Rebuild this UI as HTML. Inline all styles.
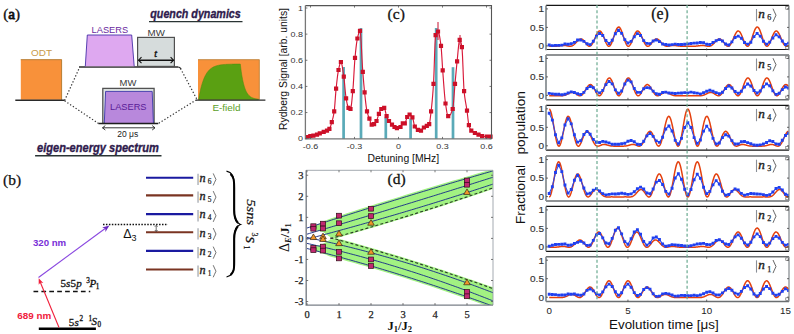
<!DOCTYPE html>
<html><head><meta charset="utf-8"><style>
html,body{margin:0;padding:0;background:#fff;width:794px;height:334px;overflow:hidden}
svg{display:block}
</style></head><body>
<svg width="794" height="334" viewBox="0 0 794 334">
<rect width="794" height="334" fill="#fff"/>
<text x="3.2" y="18.6" font-family='"Liberation Serif", serif' font-size="15.2" fill="#111" stroke="#111" stroke-width="0.35">(<tspan stroke-width="0.8">a</tspan>)</text>
<text x="31" y="56.1" textLength="21" lengthAdjust="spacingAndGlyphs" font-family='"Liberation Sans", sans-serif' font-size="9.6" fill="#c89a4a">ODT</text>
<rect x="20.8" y="59.5" width="41.2" height="40.3" fill="#f8913a"/>
<path d="M20.8 59.7 H61.6 V99.8" fill="none" stroke="#b8823a" stroke-width="1"/>
<line x1="15.3" y1="100.2" x2="64.6" y2="100.2" stroke="#2a2a2a" stroke-width="1.4"/>
<line x1="79" y1="67" x2="178" y2="67" stroke="#2a2a2a" stroke-width="1.5"/>
<path d="M178 67 Q180 67 181 69" fill="none" stroke="#2a2a2a" stroke-width="1.2"/>
<path d="M85.3 66.3 L87.3 35 L131.7 35 L134.2 66.3 Z" fill="#dea8f0" stroke="none"/>
<path d="M85.3 66.3 L87.3 35 L131.7 35 L134.2 66.3" fill="none" stroke="#4630a8" stroke-width="0.9"/>
<text x="91.6" y="33.1" textLength="36.6" lengthAdjust="spacingAndGlyphs" font-family='"Liberation Sans", sans-serif' font-size="9.8" fill="#6a2aa0">LASERS</text>
<rect x="137.6" y="37.4" width="36.8" height="29" fill="#d6dcdc" stroke="#505050" stroke-width="1.2"/>
<text x="147.6" y="35.7" textLength="17.3" lengthAdjust="spacingAndGlyphs" font-family='"Liberation Sans", sans-serif' font-size="9.4" fill="#3a3a3a">MW</text>
<text x="154.3" y="57.1" font-family='"Liberation Serif", serif' font-style="italic" font-size="10" fill="#111" stroke="#111" stroke-width="0.4">t</text>
<line x1="138.5" y1="60.2" x2="173.6" y2="60.2" stroke="#111" stroke-width="1.5"/>
<path d="M141.5 57.2 L138.6 60.2 L141.5 63.2" fill="none" stroke="#111" stroke-width="1.1"/>
<path d="M170.6 57.2 L173.5 60.2 L170.6 63.2" fill="none" stroke="#111" stroke-width="1.1"/>
<line x1="64.6" y1="100.5" x2="79.5" y2="67.5" stroke="#333" stroke-width="1.2" stroke-dasharray="1.3 2"/>
<line x1="64.6" y1="100.8" x2="98.4" y2="123.4" stroke="#333" stroke-width="1.2" stroke-dasharray="1.3 2"/>
<line x1="180.5" y1="68.5" x2="197" y2="99.5" stroke="#333" stroke-width="1.2" stroke-dasharray="1.3 2"/>
<line x1="158.8" y1="123.2" x2="196.5" y2="99.8" stroke="#333" stroke-width="1.2" stroke-dasharray="1.3 2"/>
<text x="119.6" y="85.9" textLength="16.8" lengthAdjust="spacingAndGlyphs" font-family='"Liberation Sans", sans-serif' font-size="9.4" fill="#3a3a3a">MW</text>
<rect x="102.8" y="88.4" width="51.3" height="35" fill="#dfe4e4" stroke="#525252" stroke-width="1.3"/>
<path d="M104.3 123 L105.6 91.4 L152.2 91.4 L153.4 123 Z" fill="#b888dc"/>
<path d="M104.3 123 L105.6 91.4 L152.2 91.4 L153.4 123" fill="none" stroke="#3a36a8" stroke-width="0.9"/>
<text x="110" y="109.8" textLength="36.5" lengthAdjust="spacingAndGlyphs" font-family='"Liberation Sans", sans-serif' font-size="9.8" fill="#5a2098">LASERS</text>
<line x1="98.4" y1="123.6" x2="158.3" y2="123.6" stroke="#1e1e1e" stroke-width="1.5"/>
<line x1="102.5" y1="127.8" x2="155" y2="127.8" stroke="#222" stroke-width="0.9"/>
<path d="M105.3 125.6 L102.5 127.8 L105.3 130" fill="none" stroke="#222" stroke-width="0.9"/>
<path d="M152.2 125.6 L155 127.8 L152.2 130" fill="none" stroke="#222" stroke-width="0.9"/>
<text x="117.2" y="137" textLength="21" lengthAdjust="spacingAndGlyphs" font-family='"Liberation Sans", sans-serif' font-size="9.2" fill="#222">20 μs</text>
<text x="37" y="151.7" textLength="121.8" lengthAdjust="spacingAndGlyphs" font-family='"Liberation Sans", sans-serif' font-size="12.3" font-weight="bold" font-style="italic" fill="#2e1a4c" stroke="#2e1a4c" stroke-width="0.35">eigen-energy spectrum</text>
<line x1="35.1" y1="155.8" x2="161.5" y2="155.8" stroke="#2a3434" stroke-width="1.4"/>
<text x="150.3" y="17.7" textLength="90.5" lengthAdjust="spacingAndGlyphs" font-family='"Liberation Sans", sans-serif' font-size="12.6" font-weight="bold" font-style="italic" fill="#2e1a4c" stroke="#2e1a4c" stroke-width="0.35">quench dynamics</text>
<line x1="149" y1="21.6" x2="242.5" y2="21.6" stroke="#2a3434" stroke-width="1.4"/>
<rect x="198" y="59.5" width="61.5" height="40" fill="#f8913a"/>
<path d="M198 59.7 H259.3 V99.8" fill="none" stroke="#b8823a" stroke-width="0.8"/>
<path d="M198.6 99.8 L198.6 99.5 L199.29 95.62 L199.99 92.16 L200.69 89.08 L201.38 86.34 L202.07 83.89 L202.77 81.72 L203.47 79.78 L204.16 78.05 L204.85 76.52 L205.55 75.15 L206.25 73.93 L206.94 72.84 L207.63 71.88 L208.33 71.01 L209.03 70.25 L209.72 69.56 L210.41 68.95 L211.11 68.41 L211.81 67.93 L212.5 67.5 L213.19 67.12 L213.89 66.78 L214.59 66.47 L215.28 66.2 L215.97 65.96 L216.67 65.75 L217.37 65.56 L218.06 65.39 L218.75 65.23 L219.45 65.1 L220.15 64.98 L220.84 64.87 L221.53 64.78 L222.23 64.69 L222.93 64.62 L223.62 64.55 L224.31 64.49 L225.01 64.44 L225.71 64.39 L226.4 64.35 L227.09 64.31 L227.79 64.27 L228.49 64.24 L229.18 64.22 L229.88 64.19 L230.57 64.17 L231.27 64.15 L231.96 64.14 L232.66 64.12 L233.35 64.11 L234.05 64.1 L234.74 64.09 L235.44 64.08 L236.13 64.07 L236.83 64.06 L237.52 64.05 L238.22 64.05 L238.91 64.04 L239.61 64.04 L240.3 64.03 L240.76 67.85 L241.21 71.25 L241.67 74.29 L242.12 77 L242.58 79.42 L243.03 81.58 L243.49 83.5 L243.94 85.22 L244.4 86.76 L244.85 88.13 L245.31 89.35 L245.76 90.44 L246.22 91.42 L246.67 92.29 L247.12 93.06 L247.58 93.75 L248.03 94.37 L248.49 94.92 L248.94 95.41 L249.4 95.85 L249.86 96.25 L250.31 96.6 L250.77 96.91 L251.22 97.19 L251.68 97.44 L252.13 97.66 L252.59 97.86 L253.04 98.03 L253.5 98.19 L253.95 98.33 L254.41 98.46 L254.86 98.57 L255.31 98.67 L255.77 98.76 L256.23 98.84 L256.68 98.91 L257.13 98.97 L257.59 99.03 L258.05 99.08 L258.5 99.13 L258.5 99.8 Z" fill="#5aa012" stroke="#4a8a10" stroke-width="0.5"/>
<line x1="196" y1="100.1" x2="265.4" y2="100.1" stroke="#2a2a2a" stroke-width="1.4"/>
<text x="212.4" y="111.4" textLength="28.2" lengthAdjust="spacingAndGlyphs" font-family='"Liberation Sans", sans-serif' font-size="9.6" fill="#5aa028">E-field</text>
<text x="3" y="184.6" font-family='"Liberation Serif", serif' font-size="15.5" fill="#111" stroke="#111" stroke-width="0.25">(b)</text>
<line x1="38.8" y1="328.8" x2="95.9" y2="328.8" stroke="#000" stroke-width="2.4"/>
<text x="68.8" y="325.5" font-family='"Liberation Serif", serif' font-size="11" fill="#111" stroke="#111" stroke-width="0.3">5</text>
<text x="74.4" y="325.5" font-family='"Liberation Serif", serif' font-size="11" font-style="italic" fill="#111" stroke="#111" stroke-width="0.3">s</text>
<text x="79.6" y="320.8" font-family='"Liberation Serif", serif' font-size="7.2" fill="#111" stroke="#111" stroke-width="0.3">2</text>
<text x="88.6" y="320.8" font-family='"Liberation Serif", serif' font-size="7.2" fill="#111" stroke="#111" stroke-width="0.3">1</text>
<text x="91.4" y="325.3" font-family='"Liberation Serif", serif' font-size="11" font-style="italic" fill="#111" stroke="#111" stroke-width="0.3">S</text>
<text x="97.4" y="326.9" font-family='"Liberation Serif", serif' font-size="7.2" fill="#111" stroke="#111" stroke-width="0.3">0</text>
<line x1="33.5" y1="291.5" x2="90.3" y2="291.5" stroke="#111" stroke-width="1.6" stroke-dasharray="4.7 3.2"/>
<text x="60.6" y="287.4" font-family='"Liberation Serif", serif' font-size="11" fill="#111" stroke="#111" stroke-width="0.3">5</text>
<text x="66.0" y="287.4" font-family='"Liberation Serif", serif' font-size="11" font-style="italic" fill="#111" stroke="#111" stroke-width="0.3">s</text>
<text x="70.6" y="287.4" font-family='"Liberation Serif", serif' font-size="11" fill="#111" stroke="#111" stroke-width="0.3">5</text>
<text x="76.2" y="287.4" font-family='"Liberation Serif", serif' font-size="11" font-style="italic" fill="#111" stroke="#111" stroke-width="0.3">p</text>
<text x="86.2" y="282.6" font-family='"Liberation Serif", serif' font-size="7.2" fill="#111" stroke="#111" stroke-width="0.3">3</text>
<text x="89.4" y="287.4" font-family='"Liberation Serif", serif' font-size="11" font-style="italic" fill="#111" stroke="#111" stroke-width="0.3">P</text>
<text x="95.8" y="288.6" font-family='"Liberation Serif", serif' font-size="7.2" fill="#111" stroke="#111" stroke-width="0.3">1</text>
<line x1="59" y1="327.5" x2="40.2" y2="282" stroke="#f0203c" stroke-width="1.1"/>
<path d="M38.7 278.2 L38.7 284.8 L40.4 282.4 L43.3 282.9 Z" fill="#f0203c"/>
<text x="17.2" y="318.9" textLength="34" lengthAdjust="spacingAndGlyphs" font-family='"Liberation Sans", sans-serif' font-size="9.8" font-weight="bold" fill="#f0203c">689 nm</text>
<line x1="38.5" y1="277.5" x2="106.5" y2="227.5" stroke="#8a48e0" stroke-width="1.1"/>
<path d="M109.4 225.6 L102.1 227.5 L105.4 228.55 L105.4 232 Z" fill="#6a28c0"/>
<text x="32.9" y="246.2" textLength="33.3" lengthAdjust="spacingAndGlyphs" font-family='"Liberation Sans", sans-serif' font-size="9.8" font-weight="bold" fill="#7a30d8">320 nm</text>
<line x1="103" y1="224.5" x2="168" y2="224.5" stroke="#111" stroke-width="1.6" stroke-dasharray="1.5 1.45"/>
<text x="123.2" y="237.6" font-family='"Liberation Sans", sans-serif' font-size="12.5" fill="#111">Δ<tspan font-size="9" dy="3">3</tspan></text>
<line x1="146" y1="177.7" x2="193.2" y2="177.7" stroke="#1a1aa0" stroke-width="2.1"/>
<line x1="198.03" y1="173.7" x2="198.03" y2="185.02" stroke="#8a9098" stroke-width="1.01"/>
<text x="199.59" y="181.98" textLength="6.07" lengthAdjust="spacingAndGlyphs" font-family='"Liberation Serif", serif' font-size="11.5" font-style="italic" fill="#222" stroke="#222" stroke-width="0.37">n</text>
<text x="207.87" y="184" font-family='"Liberation Serif", serif' font-size="7.36" fill="#222" stroke="#222" stroke-width="0.23">6</text>
<path d="M213.21 173.42 Q214.31 176 215.97 179.4 Q214.31 182.9 213.21 185.48" fill="none" stroke="#333" stroke-width="0.69"/>
<line x1="146" y1="195.4" x2="193.2" y2="195.4" stroke="#7a3422" stroke-width="2.1"/>
<line x1="198.03" y1="191.4" x2="198.03" y2="202.72" stroke="#8a9098" stroke-width="1.01"/>
<text x="199.59" y="199.68" textLength="6.07" lengthAdjust="spacingAndGlyphs" font-family='"Liberation Serif", serif' font-size="11.5" font-style="italic" fill="#222" stroke="#222" stroke-width="0.37">n</text>
<text x="207.87" y="201.7" font-family='"Liberation Serif", serif' font-size="7.36" fill="#222" stroke="#222" stroke-width="0.23">5</text>
<path d="M213.21 191.12 Q214.31 193.7 215.97 197.1 Q214.31 200.6 213.21 203.18" fill="none" stroke="#333" stroke-width="0.69"/>
<line x1="146" y1="214.1" x2="193.2" y2="214.1" stroke="#1a1aa0" stroke-width="2.1"/>
<line x1="198.03" y1="210.1" x2="198.03" y2="221.42" stroke="#8a9098" stroke-width="1.01"/>
<text x="199.59" y="218.38" textLength="6.07" lengthAdjust="spacingAndGlyphs" font-family='"Liberation Serif", serif' font-size="11.5" font-style="italic" fill="#222" stroke="#222" stroke-width="0.37">n</text>
<text x="207.87" y="220.4" font-family='"Liberation Serif", serif' font-size="7.36" fill="#222" stroke="#222" stroke-width="0.23">4</text>
<path d="M213.21 209.82 Q214.31 212.4 215.97 215.8 Q214.31 219.3 213.21 221.88" fill="none" stroke="#333" stroke-width="0.69"/>
<line x1="146" y1="232.3" x2="193.2" y2="232.3" stroke="#7a3422" stroke-width="2.1"/>
<line x1="198.03" y1="228.3" x2="198.03" y2="239.62" stroke="#8a9098" stroke-width="1.01"/>
<text x="199.59" y="236.58" textLength="6.07" lengthAdjust="spacingAndGlyphs" font-family='"Liberation Serif", serif' font-size="11.5" font-style="italic" fill="#222" stroke="#222" stroke-width="0.37">n</text>
<text x="207.87" y="238.6" font-family='"Liberation Serif", serif' font-size="7.36" fill="#222" stroke="#222" stroke-width="0.23">3</text>
<path d="M213.21 228.02 Q214.31 230.6 215.97 234 Q214.31 237.5 213.21 240.08" fill="none" stroke="#333" stroke-width="0.69"/>
<line x1="146" y1="250.9" x2="193.2" y2="250.9" stroke="#1a1aa0" stroke-width="2.1"/>
<line x1="198.03" y1="246.9" x2="198.03" y2="258.22" stroke="#8a9098" stroke-width="1.01"/>
<text x="199.59" y="255.18" textLength="6.07" lengthAdjust="spacingAndGlyphs" font-family='"Liberation Serif", serif' font-size="11.5" font-style="italic" fill="#222" stroke="#222" stroke-width="0.37">n</text>
<text x="207.87" y="257.2" font-family='"Liberation Serif", serif' font-size="7.36" fill="#222" stroke="#222" stroke-width="0.23">2</text>
<path d="M213.21 246.62 Q214.31 249.2 215.97 252.6 Q214.31 256.1 213.21 258.68" fill="none" stroke="#333" stroke-width="0.69"/>
<line x1="146" y1="269.5" x2="193.2" y2="269.5" stroke="#7a3422" stroke-width="2.1"/>
<line x1="198.03" y1="265.5" x2="198.03" y2="276.82" stroke="#8a9098" stroke-width="1.01"/>
<text x="199.59" y="273.78" textLength="6.07" lengthAdjust="spacingAndGlyphs" font-family='"Liberation Serif", serif' font-size="11.5" font-style="italic" fill="#222" stroke="#222" stroke-width="0.37">n</text>
<text x="207.87" y="275.8" font-family='"Liberation Serif", serif' font-size="7.36" fill="#222" stroke="#222" stroke-width="0.23">1</text>
<path d="M213.21 265.22 Q214.31 267.8 215.97 271.2 Q214.31 274.7 213.21 277.28" fill="none" stroke="#333" stroke-width="0.69"/>
<line x1="156.2" y1="225.5" x2="156.2" y2="231.3" stroke="#333" stroke-width="0.7"/>
<path d="M154.8 226.8 L156.2 225.3 L157.6 226.8 M154.8 230 L156.2 231.5 L157.6 230" fill="none" stroke="#333" stroke-width="0.7"/>
<path d="M226.5 171.2 C232 172.5 234 176 234 184 L234 212 C234 219 236 223 240.5 224.5 C236 226 234 230 234 237 L234 266 C234 273 231.5 276 226.5 277" fill="none" stroke="#000" stroke-width="1.2"/>
<path d="M230.5 174 C233.6 177 234.2 180 234.2 188 L234.2 210 C234.2 216 235.5 220 238 223 M238 226 C235.5 229 234.2 233 234.2 239 L234.2 262 C234.2 270 233.6 272 230.5 275" fill="none" stroke="#000" stroke-width="2"/>
<text transform="translate(247.2,199.2) rotate(90)" textLength="25.9" lengthAdjust="spacingAndGlyphs" font-family='"Liberation Serif", serif' font-style="italic" font-size="12" fill="#111" stroke="#111" stroke-width="0.2">5sns</text>
<text transform="translate(252.4,232.6) rotate(90)" font-family='"Liberation Serif", serif' font-size="8" fill="#111" stroke="#111" stroke-width="0.2">3</text>
<text transform="translate(246.0,236.6) rotate(90)" font-family='"Liberation Serif", serif' font-style="italic" font-size="12.5" fill="#111" stroke="#111" stroke-width="0.35">S</text>
<text transform="translate(244.2,245.4) rotate(90)" font-family='"Liberation Serif", serif' font-size="8" fill="#111" stroke="#111" stroke-width="0.2">1</text>
<rect x="342.25" y="67.0" width="2.7" height="71.9" fill="#5aaab8"/>
<rect x="359.65" y="28.1" width="2.7" height="110.8" fill="#5aaab8"/>
<rect x="384.45" y="117.4" width="2.7" height="21.5" fill="#5aaab8"/>
<rect x="409.25" y="118.6" width="2.7" height="20.3" fill="#5aaab8"/>
<rect x="434.85" y="28.0" width="2.7" height="110.9" fill="#5aaab8"/>
<rect x="451.65" y="67.2" width="2.7" height="71.7" fill="#5aaab8"/>
<path d="M307.4 137 L307.86 136.8 L308.32 136.61 L308.78 136.43 L309.24 136.27 L309.69 136.14 L310.15 136.03 L310.61 135.95 L311.07 135.88 L311.53 135.83 L311.99 135.78 L312.45 135.73 L312.91 135.68 L313.37 135.61 L313.82 135.52 L314.28 135.42 L314.74 135.3 L315.2 135.17 L315.66 135.04 L316.12 134.89 L316.58 134.74 L317.04 134.59 L317.5 134.42 L317.95 134.23 L318.41 134.02 L318.87 133.81 L319.33 133.6 L319.79 133.4 L320.25 133.21 L320.71 133.02 L321.17 132.83 L321.63 132.63 L322.08 132.44 L322.54 132.26 L323 132.07 L323.46 131.89 L323.92 131.72 L324.38 131.56 L324.84 131.41 L325.3 131.26 L325.76 131.11 L326.21 130.94 L326.67 130.75 L327.13 130.53 L327.59 130.3 L328.05 130.04 L328.51 129.73 L328.97 129.34 L329.43 128.87 L329.89 128.11 L330.34 126.99 L330.8 125.61 L331.26 124.07 L331.72 122.47 L332.18 120.88 L332.64 119.21 L333.1 117.34 L333.56 115.17 L334.02 112.58 L334.47 109.1 L334.93 103.67 L335.39 97.35 L335.85 91.36 L336.31 86.71 L336.77 82.47 L337.23 78.49 L337.69 74.91 L338.15 71.88 L338.61 69.51 L339.06 67.34 L339.52 65.31 L339.98 63.6 L340.44 62.44 L340.9 62 L341.36 62.58 L341.82 64.16 L342.28 66.5 L342.74 69.37 L343.19 72.52 L343.65 75.71 L344.11 79.13 L344.57 83.66 L345.03 88.68 L345.49 93.49 L345.95 97.35 L346.41 99.99 L346.87 102.39 L347.32 104.52 L347.78 106.24 L348.24 107.42 L348.7 108 L349.16 108.41 L349.62 108.73 L350.08 108.93 L350.54 108.99 L351 107.73 L351.45 104.7 L351.91 100.48 L352.37 95.65 L352.83 90.78 L353.29 84.73 L353.75 77.16 L354.21 69.19 L354.67 61.96 L355.13 56.49 L355.58 51.87 L356.04 47.63 L356.5 43.9 L356.96 40.79 L357.42 38.41 L357.88 36.43 L358.34 34.55 L358.8 32.92 L359.26 31.67 L359.71 30.94 L360.17 31.12 L360.63 34.72 L361.09 41.33 L361.55 49.72 L362.01 58.66 L362.47 66.93 L362.93 73.4 L363.39 79.07 L363.84 84.43 L364.3 89.38 L364.76 93.84 L365.22 98.18 L365.68 102.34 L366.14 106.12 L366.6 109.29 L367.06 111.64 L367.52 113.4 L367.97 114.84 L368.43 116.09 L368.89 117.26 L369.35 118.46 L369.81 119.88 L370.27 121.46 L370.73 122.95 L371.19 124.09 L371.65 124.59 L372.1 124.58 L372.56 124.52 L373.02 124.43 L373.48 124.3 L373.94 124.16 L374.4 123.94 L374.86 123.54 L375.32 122.96 L375.78 122.26 L376.23 121.48 L376.69 120.61 L377.15 119.38 L377.61 117.88 L378.07 116.3 L378.53 114.81 L378.99 113.59 L379.45 112.45 L379.91 111.33 L380.36 110.33 L380.82 109.52 L381.28 109.01 L381.74 108.7 L382.2 108.43 L382.66 108.19 L383.12 108 L383.58 107.87 L384.04 107.8 L384.49 108.07 L384.95 109.35 L385.41 111.29 L385.87 113.45 L386.33 115.36 L386.79 116.67 L387.25 117.75 L387.71 118.72 L388.17 119.61 L388.62 120.41 L389.08 121.13 L389.54 121.78 L390 122.37 L390.46 122.92 L390.92 123.44 L391.38 123.94 L391.84 124.43 L392.3 124.92 L392.75 125.41 L393.21 125.89 L393.67 126.34 L394.13 126.73 L394.59 127.06 L395.05 127.37 L395.51 127.68 L395.97 127.94 L396.43 128.13 L396.88 128.2 L397.34 128.18 L397.8 128.11 L398.26 128 L398.72 127.85 L399.18 127.67 L399.64 127.46 L400.1 127.23 L400.56 126.96 L401.02 126.36 L401.47 125.42 L401.93 124.43 L402.39 123.67 L402.85 123.4 L403.31 123.4 L403.77 123.4 L404.23 123.4 L404.69 123.4 L405.15 123.1 L405.6 121.99 L406.06 120.42 L406.52 118.77 L406.98 117.42 L407.44 116.64 L407.9 115.96 L408.36 115.35 L408.82 114.87 L409.28 114.57 L409.73 114.51 L410.19 114.67 L410.65 115.01 L411.11 115.5 L411.57 116.11 L412.03 116.8 L412.49 117.56 L412.95 118.97 L413.41 120.99 L413.86 123.19 L414.32 125.16 L414.78 126.47 L415.24 127.23 L415.7 127.91 L416.16 128.51 L416.62 129.01 L417.08 129.42 L417.54 129.73 L417.99 129.94 L418.45 130.1 L418.91 130.25 L419.37 130.38 L419.83 130.48 L420.29 130.55 L420.75 130.59 L421.21 130.57 L421.67 130.27 L422.12 129.77 L422.58 129.13 L423.04 128.48 L423.5 127.88 L423.96 127.46 L424.42 127.14 L424.88 126.87 L425.34 126.62 L425.8 126.37 L426.25 126.13 L426.71 125.86 L427.17 125.58 L427.63 125.35 L428.09 125.1 L428.55 124.78 L429.01 124.34 L429.47 123.43 L429.93 121.02 L430.38 117.55 L430.84 113.6 L431.3 109.67 L431.76 105.43 L432.22 100.67 L432.68 95.3 L433.14 89.24 L433.6 82.25 L434.06 71.12 L434.51 57.27 L434.97 44.4 L435.43 36.2 L435.89 34.31 L436.35 33.25 L436.81 32.42 L437.27 31.85 L437.73 31.55 L438.19 31.58 L438.64 32.39 L439.1 33.98 L439.56 36.21 L440.02 38.95 L440.48 42.07 L440.94 45.44 L441.4 50.11 L441.86 57.03 L442.32 64.62 L442.77 71.28 L443.23 77.48 L443.69 83.74 L444.15 89.79 L444.61 95.32 L445.07 100.05 L445.53 103.69 L445.99 106.79 L446.45 109.77 L446.9 112.41 L447.36 114.5 L447.82 115.83 L448.28 116.2 L448.74 116.09 L449.2 115.82 L449.66 115.39 L450.12 114.82 L450.58 114.09 L451.03 113.23 L451.49 112.24 L451.95 111.11 L452.41 109.85 L452.87 108.29 L453.33 104.74 L453.79 99.48 L454.25 93.39 L454.71 87.34 L455.16 82.1 L455.62 77.01 L456.08 71.91 L456.54 66.97 L457 62.34 L457.46 57.78 L457.92 52.75 L458.38 47.83 L458.84 43.65 L459.29 40.8 L459.75 39.91 L460.21 40.38 L460.67 41.53 L461.13 43.24 L461.59 45.42 L462.05 48.3 L462.51 55.84 L462.97 66.93 L463.43 78.67 L463.88 88.2 L464.34 93.46 L464.8 97.23 L465.26 100.32 L465.72 103.01 L466.18 105.57 L466.64 108.28 L467.1 111.41 L467.56 115.25 L468.01 119.3 L468.47 122.86 L468.93 125.21 L469.39 126.73 L469.85 128 L470.31 129.06 L470.77 129.89 L471.23 130.52 L471.69 130.99 L472.14 131.38 L472.6 131.72 L473.06 132.02 L473.52 132.28 L473.98 132.53 L474.44 132.76 L474.9 133 L475.36 133.23 L475.82 133.45 L476.27 133.66 L476.73 133.86 L477.19 134.05 L477.65 134.24 L478.11 134.43 L478.57 134.63 L479.03 134.84 L479.49 135.07 L479.95 135.29 L480.4 135.52 L480.86 135.72 L481.32 135.89 L481.78 136.03 L482.24 136.12 L482.7 136.2 L483.16 136.27 L483.62 136.34 L484.08 136.4 L484.53 136.46 L484.99 136.5 L485.45 136.54 L485.91 136.57 L486.37 136.59 L486.83 136.6 L487.29 136.6 L487.75 136.6 L488.21 136.6 L488.66 136.6 L489.12 136.6 L489.58 136.6 L490.04 136.6 L490.5 136.6" fill="none" stroke="#d81838" stroke-width="1.15"/>
<path d="M305.3 134.9h4.2v4.2h-4.2zM308.2 133.9h4.2v4.2h-4.2zM311.3 133.5h4.2v4.2h-4.2zM314.9 132.5h4.2v4.2h-4.2zM317.7 131.3h4.2v4.2h-4.2zM321.6 129.7h4.2v4.2h-4.2zM324.9 128.5h4.2v4.2h-4.2zM327.3 126.8h4.2v4.2h-4.2zM329.7 120.1h4.2v4.2h-4.2zM332.1 109.3h4.2v4.2h-4.2zM334 86.6h4.2v4.2h-4.2zM336.4 67.9h4.2v4.2h-4.2zM338.8 59.9h4.2v4.2h-4.2zM341.7 74.6h4.2v4.2h-4.2zM344 96.2h4.2v4.2h-4.2zM346.4 105.7h4.2v4.2h-4.2zM348.4 106.9h4.2v4.2h-4.2zM350.7 89h4.2v4.2h-4.2zM352.9 55.7h4.2v4.2h-4.2zM355.3 36.4h4.2v4.2h-4.2zM357.9 28.7h4.2v4.2h-4.2zM360.7 69.7h4.2v4.2h-4.2zM362.5 90.2h4.2v4.2h-4.2zM364.9 109.3h4.2v4.2h-4.2zM367.3 116.5h4.2v4.2h-4.2zM369.6 122.5h4.2v4.2h-4.2zM372 122h4.2v4.2h-4.2zM374.4 118.9h4.2v4.2h-4.2zM376.8 111.7h4.2v4.2h-4.2zM379.2 106.9h4.2v4.2h-4.2zM382.1 105.7h4.2v4.2h-4.2zM384.5 114.1h4.2v4.2h-4.2zM386.9 118.9h4.2v4.2h-4.2zM389.9 122.5h4.2v4.2h-4.2zM392.4 124.9h4.2v4.2h-4.2zM394.8 126.1h4.2v4.2h-4.2zM398.4 124.9h4.2v4.2h-4.2zM400.7 121.3h4.2v4.2h-4.2zM402.7 121.3h4.2v4.2h-4.2zM405.1 114.9h4.2v4.2h-4.2zM407.5 112.4h4.2v4.2h-4.2zM410.3 115.3h4.2v4.2h-4.2zM412.7 124.4h4.2v4.2h-4.2zM415.8 127.8h4.2v4.2h-4.2zM418.9 128.5h4.2v4.2h-4.2zM421.8 125.4h4.2v4.2h-4.2zM424.7 123.7h4.2v4.2h-4.2zM427.1 122h4.2v4.2h-4.2zM429 109.3h4.2v4.2h-4.2zM431.4 81.8h4.2v4.2h-4.2zM433.5 33h4.2v4.2h-4.2zM435.9 29.4h4.2v4.2h-4.2zM438.9 43.8h4.2v4.2h-4.2zM440.6 68.2h4.2v4.2h-4.2zM443.4 101.4h4.2v4.2h-4.2zM446.1 114.1h4.2v4.2h-4.2zM450.6 106.9h4.2v4.2h-4.2zM452.9 81.8h4.2v4.2h-4.2zM455 59.3h4.2v4.2h-4.2zM457.6 37.8h4.2v4.2h-4.2zM459.8 45h4.2v4.2h-4.2zM462 89h4.2v4.2h-4.2zM464.9 108.6h4.2v4.2h-4.2zM466.8 123h4.2v4.2h-4.2zM469.2 128.5h4.2v4.2h-4.2zM472.8 130.9h4.2v4.2h-4.2zM476.4 132.5h4.2v4.2h-4.2zM480 134h4.2v4.2h-4.2zM484.8 134.5h4.2v4.2h-4.2zM488.4 134.5h4.2v4.2h-4.2z" fill="#cc1028"/>
<line x1="438" y1="22" x2="438" y2="40" stroke="#c81030" stroke-width="1"/>
<line x1="460" y1="35" x2="460" y2="45" stroke="#c81030" stroke-width="1"/>
<path d="M305.4 5.6 H491.5 V138.9" fill="none" stroke="#555" stroke-width="1.1"/>
<path d="M305.4 5.6 V138.9 H491.5" fill="none" stroke="#777" stroke-width="1.3"/>
<line x1="305.4" y1="138.7" x2="307.4" y2="138.7" stroke="#555" stroke-width="0.8"/>
<line x1="491.5" y1="138.7" x2="489.5" y2="138.7" stroke="#555" stroke-width="0.8"/>
<text x="303" y="141.5" text-anchor="end" font-family='"Liberation Sans", sans-serif' font-size="8" fill="#333" transform="translate(303 0) scale(1.12 1) translate(-303 0)">0</text>
<line x1="305.4" y1="112.56" x2="307.4" y2="112.56" stroke="#555" stroke-width="0.8"/>
<line x1="491.5" y1="112.56" x2="489.5" y2="112.56" stroke="#555" stroke-width="0.8"/>
<text x="303" y="115.36" text-anchor="end" font-family='"Liberation Sans", sans-serif' font-size="8" fill="#333" transform="translate(303 0) scale(1.12 1) translate(-303 0)">0.2</text>
<line x1="305.4" y1="86.42" x2="307.4" y2="86.42" stroke="#555" stroke-width="0.8"/>
<line x1="491.5" y1="86.42" x2="489.5" y2="86.42" stroke="#555" stroke-width="0.8"/>
<text x="303" y="89.22" text-anchor="end" font-family='"Liberation Sans", sans-serif' font-size="8" fill="#333" transform="translate(303 0) scale(1.12 1) translate(-303 0)">0.4</text>
<line x1="305.4" y1="60.28" x2="307.4" y2="60.28" stroke="#555" stroke-width="0.8"/>
<line x1="491.5" y1="60.28" x2="489.5" y2="60.28" stroke="#555" stroke-width="0.8"/>
<text x="303" y="63.08" text-anchor="end" font-family='"Liberation Sans", sans-serif' font-size="8" fill="#333" transform="translate(303 0) scale(1.12 1) translate(-303 0)">0.6</text>
<line x1="305.4" y1="34.14" x2="307.4" y2="34.14" stroke="#555" stroke-width="0.8"/>
<line x1="491.5" y1="34.14" x2="489.5" y2="34.14" stroke="#555" stroke-width="0.8"/>
<text x="303" y="36.94" text-anchor="end" font-family='"Liberation Sans", sans-serif' font-size="8" fill="#333" transform="translate(303 0) scale(1.12 1) translate(-303 0)">0.8</text>
<line x1="305.4" y1="8" x2="307.4" y2="8" stroke="#555" stroke-width="0.8"/>
<line x1="491.5" y1="8" x2="489.5" y2="8" stroke="#555" stroke-width="0.8"/>
<text x="303" y="10.8" text-anchor="end" font-family='"Liberation Sans", sans-serif' font-size="8" fill="#333" transform="translate(303 0) scale(1.12 1) translate(-303 0)">1</text>
<line x1="310.5" y1="138.9" x2="310.5" y2="136.9" stroke="#555" stroke-width="0.8"/>
<line x1="310.5" y1="5.6" x2="310.5" y2="7.6" stroke="#555" stroke-width="0.8"/>
<text x="310.5" y="149.2" text-anchor="middle" font-family='"Liberation Sans", sans-serif' font-size="8" fill="#333" transform="translate(310.5 0) scale(1.12 1) translate(-310.5 0)">-0.6</text>
<line x1="354.5" y1="138.9" x2="354.5" y2="136.9" stroke="#555" stroke-width="0.8"/>
<line x1="354.5" y1="5.6" x2="354.5" y2="7.6" stroke="#555" stroke-width="0.8"/>
<text x="354.5" y="149.2" text-anchor="middle" font-family='"Liberation Sans", sans-serif' font-size="8" fill="#333" transform="translate(354.5 0) scale(1.12 1) translate(-354.5 0)">-0.3</text>
<line x1="398.5" y1="138.9" x2="398.5" y2="136.9" stroke="#555" stroke-width="0.8"/>
<line x1="398.5" y1="5.6" x2="398.5" y2="7.6" stroke="#555" stroke-width="0.8"/>
<text x="398.5" y="149.2" text-anchor="middle" font-family='"Liberation Sans", sans-serif' font-size="8" fill="#333" transform="translate(398.5 0) scale(1.12 1) translate(-398.5 0)">0</text>
<line x1="442.5" y1="138.9" x2="442.5" y2="136.9" stroke="#555" stroke-width="0.8"/>
<line x1="442.5" y1="5.6" x2="442.5" y2="7.6" stroke="#555" stroke-width="0.8"/>
<text x="442.5" y="149.2" text-anchor="middle" font-family='"Liberation Sans", sans-serif' font-size="8" fill="#333" transform="translate(442.5 0) scale(1.12 1) translate(-442.5 0)">0.3</text>
<line x1="486.5" y1="138.9" x2="486.5" y2="136.9" stroke="#555" stroke-width="0.8"/>
<line x1="486.5" y1="5.6" x2="486.5" y2="7.6" stroke="#555" stroke-width="0.8"/>
<text x="486.5" y="149.2" text-anchor="middle" font-family='"Liberation Sans", sans-serif' font-size="8" fill="#333" transform="translate(486.5 0) scale(1.12 1) translate(-486.5 0)">0.6</text>
<text x="367.6" y="161.5" textLength="71.6" lengthAdjust="spacingAndGlyphs" font-family='"Liberation Sans", sans-serif' font-size="10.3" fill="#111">Detuning [MHz]</text>
<text transform="translate(287.2,130) rotate(-90)" x="0" y="0" textLength="122" lengthAdjust="spacingAndGlyphs" font-family='"Liberation Sans", sans-serif' font-size="10.4" fill="#111">Rydberg Signal [arb. units]</text>
<text x="387.6" y="18.9" font-family='"Liberation Serif", serif' font-size="15.5" fill="#111" stroke="#111" stroke-width="0.3">(c)</text>
<defs><clipPath id="clipd"><rect x="306.2" y="170.3" width="186.8" height="134.8"/></clipPath></defs>
<g clip-path="url(#clipd)">
<path d="M311.8 226.61 L316.6 224.93 L323 221.56 L330.04 218.65 L335.87 216.77 L341.69 214.91 L347.52 213.05 L353.34 211.19 L359.17 209.35 L365 207.51 L370.82 205.68 L376.65 203.86 L382.48 202.04 L388.3 200.24 L394.13 198.44 L399.95 196.64 L405.78 194.86 L411.61 193.08 L417.43 191.31 L423.26 189.55 L429.09 187.79 L434.91 186.04 L440.74 184.3 L446.56 182.57 L452.39 180.84 L458.22 179.13 L464.04 177.41 L469.87 175.71 L475.7 174.02 L481.52 172.33 L487.35 170.65 L493.17 168.97 L499 167.31 L499 186.89 L493.37 188.85 L487.74 190.8 L482.12 192.74 L476.49 194.66 L470.86 196.56 L465.23 198.46 L459.61 200.34 L453.98 202.2 L448.35 204.05 L442.72 205.89 L437.1 207.72 L431.47 209.53 L425.84 211.33 L420.21 213.11 L414.59 214.88 L408.96 216.64 L403.33 218.38 L397.7 220.11 L392.08 221.83 L386.45 223.53 L380.82 225.22 L375.19 226.89 L369.57 228.55 L363.94 230.2 L358.31 231.83 L352.68 233.45 L347.06 235.06 L341.43 236.65 L335.8 238.23 L330.36 237.35 L323 232.09 L316.6 230.4 L311.8 228.72 Z" fill="#a2f282"/>
<path d="M311.8 248.08 L316.6 245.98 L323 243.87 L330.36 239.45 L335.8 237.88 L341.43 239.42 L347.06 240.98 L352.68 242.56 L358.31 244.16 L363.94 245.77 L369.57 247.4 L375.19 249.04 L380.82 250.7 L386.45 252.38 L392.08 254.08 L397.7 255.79 L403.33 257.52 L408.96 259.26 L414.59 261.03 L420.21 262.81 L425.84 264.61 L431.47 266.42 L437.1 268.25 L442.72 270.1 L448.35 271.96 L453.98 273.84 L459.61 275.74 L465.23 277.66 L470.86 279.59 L476.49 281.54 L482.12 283.5 L487.74 285.49 L493.37 287.49 L499 289.5 L499 310.27 L493.17 308.12 L487.35 305.99 L481.52 303.88 L475.7 301.79 L469.87 299.73 L464.04 297.68 L458.22 295.66 L452.39 293.65 L446.56 291.67 L440.74 289.71 L434.91 287.76 L429.09 285.84 L423.26 283.94 L417.43 282.06 L411.61 280.21 L405.78 278.37 L399.95 276.55 L394.13 274.76 L388.3 272.98 L382.48 271.23 L376.65 269.5 L370.82 267.78 L365 266.09 L359.17 264.42 L353.34 262.77 L347.52 261.14 L341.69 259.54 L335.87 257.95 L330.04 256.38 L323 253.56 L316.6 251.45 L311.8 250.19 Z" fill="#a2f282"/>
<path d="M307 228.03 L309.43 227.24 L311.86 226.44 L314.29 225.65 L316.72 224.86 L319.15 224.07 L321.58 223.28 L324.01 222.49 L326.44 221.71 L328.87 220.92 L331.3 220.14 L333.73 219.35 L336.16 218.57 L338.59 217.79 L341.03 217.02 L343.46 216.24 L345.89 215.46 L348.32 214.69 L350.75 213.91 L353.18 213.14 L355.61 212.37 L358.04 211.6 L360.47 210.83 L362.9 210.07 L365.33 209.3 L367.76 208.54 L370.19 207.78 L372.62 207.01 L375.05 206.25 L377.48 205.49 L379.91 204.74 L382.34 203.98 L384.77 203.23 L387.2 202.47 L389.63 201.72 L392.06 200.97 L394.49 200.22 L396.92 199.47 L399.35 198.72 L401.78 197.98 L404.22 197.23 L406.65 196.49 L409.08 195.75 L411.51 195.01 L413.94 194.27 L416.37 193.53 L418.8 192.79 L421.23 192.05 L423.66 191.32 L426.09 190.59 L428.52 189.86 L430.95 189.13 L433.38 188.4 L435.81 187.67 L438.24 186.94 L440.67 186.22 L443.1 185.49 L445.53 184.77 L447.96 184.05 L450.39 183.33 L452.82 182.61 L455.25 181.89 L457.68 181.18 L460.11 180.46 L462.54 179.75 L464.97 179.04 L467.41 178.32 L469.84 177.62 L472.27 176.91 L474.7 176.2 L477.13 175.49 L479.56 174.79 L481.99 174.09 L484.42 173.38 L486.85 172.68 L489.28 171.98 L491.71 171.29 L494.14 170.59 L496.57 169.89 L499 169.2" fill="none" stroke="#1c3288" stroke-width="0.95"/>
<path d="M307 234.16 L309.43 233.44 L311.86 232.73 L314.29 232.01 L316.72 231.29 L319.15 230.56 L321.58 229.84 L324.01 229.12 L326.44 228.4 L328.87 227.67 L331.3 226.95 L333.73 226.22 L336.16 225.5 L338.59 224.77 L341.03 224.05 L343.46 223.32 L345.89 222.59 L348.32 221.86 L350.75 221.13 L353.18 220.4 L355.61 219.67 L358.04 218.94 L360.47 218.2 L362.9 217.47 L365.33 216.74 L367.76 216 L370.19 215.27 L372.62 214.53 L375.05 213.79 L377.48 213.06 L379.91 212.32 L382.34 211.58 L384.77 210.84 L387.2 210.1 L389.63 209.36 L392.06 208.62 L394.49 207.88 L396.92 207.13 L399.35 206.39 L401.78 205.65 L404.22 204.9 L406.65 204.16 L409.08 203.41 L411.51 202.66 L413.94 201.91 L416.37 201.17 L418.8 200.42 L421.23 199.67 L423.66 198.92 L426.09 198.17 L428.52 197.41 L430.95 196.66 L433.38 195.91 L435.81 195.16 L438.24 194.4 L440.67 193.65 L443.1 192.89 L445.53 192.13 L447.96 191.38 L450.39 190.62 L452.82 189.86 L455.25 189.1 L457.68 188.34 L460.11 187.58 L462.54 186.82 L464.97 186.06 L467.41 185.29 L469.84 184.53 L472.27 183.77 L474.7 183 L477.13 182.24 L479.56 181.47 L481.99 180.7 L484.42 179.94 L486.85 179.17 L489.28 178.4 L491.71 177.63 L494.14 176.86 L496.57 176.09 L499 175.32" fill="none" stroke="#1c3288" stroke-width="0.95"/>
<path d="M307 239.13 L309.43 238.5 L311.86 237.86 L314.29 237.22 L316.72 236.58 L319.15 235.94 L321.58 235.3 L324.01 234.65 L326.44 234 L328.87 233.35 L331.3 232.69 L333.73 232.04 L336.16 231.38 L338.59 230.72 L341.03 230.06 L343.46 229.39 L345.89 228.72 L348.32 228.05 L350.75 227.38 L353.18 226.71 L355.61 226.03 L358.04 225.35 L360.47 224.67 L362.9 223.99 L365.33 223.3 L367.76 222.61 L370.19 221.92 L372.62 221.23 L375.05 220.53 L377.48 219.84 L379.91 219.14 L382.34 218.44 L384.77 217.73 L387.2 217.03 L389.63 216.32 L392.06 215.61 L394.49 214.89 L396.92 214.18 L399.35 213.46 L401.78 212.74 L404.22 212.02 L406.65 211.29 L409.08 210.57 L411.51 209.84 L413.94 209.11 L416.37 208.37 L418.8 207.64 L421.23 206.9 L423.66 206.16 L426.09 205.42 L428.52 204.67 L430.95 203.93 L433.38 203.18 L435.81 202.43 L438.24 201.67 L440.67 200.92 L443.1 200.16 L445.53 199.4 L447.96 198.63 L450.39 197.87 L452.82 197.1 L455.25 196.33 L457.68 195.56 L460.11 194.79 L462.54 194.01 L464.97 193.23 L467.41 192.45 L469.84 191.67 L472.27 190.88 L474.7 190.09 L477.13 189.3 L479.56 188.51 L481.99 187.71 L484.42 186.92 L486.85 186.12 L489.28 185.32 L491.71 184.51 L494.14 183.71 L496.57 182.9 L499 182.09" fill="none" stroke="#1c3288" stroke-width="0.95"/>
<path d="M307 248.5 L309.43 249.12 L311.86 249.74 L314.29 250.36 L316.72 250.99 L319.15 251.62 L321.58 252.25 L324.01 252.89 L326.44 253.53 L328.87 254.18 L331.3 254.83 L333.73 255.48 L336.16 256.14 L338.59 256.8 L341.03 257.46 L343.46 258.13 L345.89 258.8 L348.32 259.47 L350.75 260.15 L353.18 260.83 L355.61 261.52 L358.04 262.21 L360.47 262.9 L362.9 263.59 L365.33 264.29 L367.76 265 L370.19 265.7 L372.62 266.42 L375.05 267.13 L377.48 267.85 L379.91 268.57 L382.34 269.29 L384.77 270.02 L387.2 270.76 L389.63 271.49 L392.06 272.23 L394.49 272.97 L396.92 273.72 L399.35 274.47 L401.78 275.23 L404.22 275.98 L406.65 276.75 L409.08 277.51 L411.51 278.28 L413.94 279.05 L416.37 279.83 L418.8 280.61 L421.23 281.39 L423.66 282.18 L426.09 282.97 L428.52 283.76 L430.95 284.56 L433.38 285.36 L435.81 286.17 L438.24 286.98 L440.67 287.79 L443.1 288.6 L445.53 289.42 L447.96 290.25 L450.39 291.07 L452.82 291.9 L455.25 292.74 L457.68 293.58 L460.11 294.42 L462.54 295.26 L464.97 296.11 L467.41 296.96 L469.84 297.82 L472.27 298.68 L474.7 299.54 L477.13 300.41 L479.56 301.28 L481.99 302.15 L484.42 303.03 L486.85 303.91 L489.28 304.8 L491.71 305.69 L494.14 306.58 L496.57 307.47 L499 308.37" fill="none" stroke="#1c3288" stroke-width="0.95"/>
<path d="M307 243.39 L309.43 243.93 L311.86 244.47 L314.29 245.02 L316.72 245.57 L319.15 246.12 L321.58 246.69 L324.01 247.26 L326.44 247.83 L328.87 248.41 L331.3 249 L333.73 249.59 L336.16 250.19 L338.59 250.79 L341.03 251.4 L343.46 252.01 L345.89 252.63 L348.32 253.26 L350.75 253.89 L353.18 254.53 L355.61 255.17 L358.04 255.82 L360.47 256.48 L362.9 257.14 L365.33 257.81 L367.76 258.48 L370.19 259.16 L372.62 259.84 L375.05 260.53 L377.48 261.22 L379.91 261.93 L382.34 262.63 L384.77 263.34 L387.2 264.06 L389.63 264.79 L392.06 265.52 L394.49 266.25 L396.92 266.99 L399.35 267.74 L401.78 268.49 L404.22 269.25 L406.65 270.02 L409.08 270.79 L411.51 271.56 L413.94 272.34 L416.37 273.13 L418.8 273.92 L421.23 274.72 L423.66 275.53 L426.09 276.34 L428.52 277.15 L430.95 277.97 L433.38 278.8 L435.81 279.63 L438.24 280.47 L440.67 281.32 L443.1 282.17 L445.53 283.02 L447.96 283.88 L450.39 284.75 L452.82 285.63 L455.25 286.5 L457.68 287.39 L460.11 288.28 L462.54 289.18 L464.97 290.08 L467.41 290.99 L469.84 291.9 L472.27 292.82 L474.7 293.74 L477.13 294.67 L479.56 295.61 L481.99 296.55 L484.42 297.5 L486.85 298.45 L489.28 299.41 L491.71 300.38 L494.14 301.35 L496.57 302.33 L499 303.31" fill="none" stroke="#1c3288" stroke-width="0.95"/>
<path d="M307 237.45 L309.43 237.96 L311.86 238.47 L314.29 238.99 L316.72 239.52 L319.15 240.05 L321.58 240.58 L324.01 241.12 L326.44 241.67 L328.87 242.22 L331.3 242.78 L333.73 243.35 L336.16 243.92 L338.59 244.49 L341.03 245.08 L343.46 245.66 L345.89 246.26 L348.32 246.86 L350.75 247.46 L353.18 248.07 L355.61 248.69 L358.04 249.31 L360.47 249.93 L362.9 250.57 L365.33 251.2 L367.76 251.85 L370.19 252.5 L372.62 253.15 L375.05 253.81 L377.48 254.48 L379.91 255.15 L382.34 255.83 L384.77 256.52 L387.2 257.21 L389.63 257.9 L392.06 258.6 L394.49 259.31 L396.92 260.02 L399.35 260.74 L401.78 261.46 L404.22 262.19 L406.65 262.92 L409.08 263.67 L411.51 264.41 L413.94 265.16 L416.37 265.92 L418.8 266.68 L421.23 267.45 L423.66 268.23 L426.09 269.01 L428.52 269.79 L430.95 270.59 L433.38 271.38 L435.81 272.19 L438.24 272.99 L440.67 273.81 L443.1 274.63 L445.53 275.45 L447.96 276.29 L450.39 277.12 L452.82 277.97 L455.25 278.81 L457.68 279.67 L460.11 280.53 L462.54 281.39 L464.97 282.26 L467.41 283.14 L469.84 284.02 L472.27 284.91 L474.7 285.81 L477.13 286.7 L479.56 287.61 L481.99 288.52 L484.42 289.44 L486.85 290.36 L489.28 291.29 L491.71 292.22 L494.14 293.16 L496.57 294.1 L499 295.05" fill="none" stroke="#1c3288" stroke-width="0.95"/>
<path d="M330.36 238.69 L334.68 237.49 L339.01 236.28 L343.33 235.06 L347.66 233.84 L351.98 232.6 L356.3 231.36 L360.63 230.11 L364.95 228.85 L369.28 227.58 L373.6 226.31 L377.93 225.03 L382.25 223.74 L386.57 222.44 L390.9 221.13 L395.22 219.82 L399.55 218.49 L403.87 217.16 L408.19 215.82 L412.52 214.48 L416.84 213.12 L421.17 211.76 L425.49 210.39 L429.81 209.01 L434.14 207.62 L438.46 206.22 L442.79 204.82 L447.11 203.41 L451.43 201.99 L455.76 200.56 L460.08 199.12 L464.41 197.68 L468.73 196.23 L473.06 194.77 L477.38 193.3 L481.7 191.82 L486.03 190.34 L490.35 188.85 L494.68 187.35 L499 185.84" fill="none" stroke="#2a3a2a" stroke-width="1.1" stroke-dasharray="3 2.2"/>
<path d="M330.36 237.67 L334.68 238.84 L339.01 240.02 L343.33 241.21 L347.66 242.42 L351.98 243.63 L356.3 244.85 L360.63 246.08 L364.95 247.32 L369.28 248.57 L373.6 249.84 L377.93 251.11 L382.25 252.39 L386.57 253.68 L390.9 254.98 L395.22 256.29 L399.55 257.62 L403.87 258.95 L408.19 260.29 L412.52 261.64 L416.84 263 L421.17 264.37 L425.49 265.76 L429.81 267.15 L434.14 268.55 L438.46 269.96 L442.79 271.38 L447.11 272.81 L451.43 274.25 L455.76 275.71 L460.08 277.17 L464.41 278.64 L468.73 280.12 L473.06 281.61 L477.38 283.11 L481.7 284.62 L486.03 286.14 L490.35 287.67 L494.68 289.22 L499 290.77" fill="none" stroke="#2a3a2a" stroke-width="1.1" stroke-dasharray="3 2.2"/>
</g>
<rect x="310.8" y="223.79" width="5.2" height="4.8" fill="#c02870" stroke="#301018" stroke-width="0.7"/>
<rect x="310.8" y="226.32" width="5.2" height="4.8" fill="#c02870" stroke="#301018" stroke-width="0.7"/>
<rect x="320.4" y="221.27" width="5.2" height="4.8" fill="#c02870" stroke="#301018" stroke-width="0.7"/>
<rect x="320.4" y="226.11" width="5.2" height="4.8" fill="#c02870" stroke="#301018" stroke-width="0.7"/>
<rect x="336.4" y="213.27" width="5.2" height="4.8" fill="#c02870" stroke="#301018" stroke-width="0.7"/>
<rect x="336.4" y="220.84" width="5.2" height="4.8" fill="#c02870" stroke="#301018" stroke-width="0.7"/>
<rect x="368.4" y="206.32" width="5.2" height="4.8" fill="#c02870" stroke="#301018" stroke-width="0.7"/>
<rect x="368.4" y="213.69" width="5.2" height="4.8" fill="#c02870" stroke="#301018" stroke-width="0.7"/>
<rect x="464.4" y="178.11" width="5.2" height="4.8" fill="#c02870" stroke="#301018" stroke-width="0.7"/>
<rect x="464.4" y="182.32" width="5.2" height="4.8" fill="#c02870" stroke="#301018" stroke-width="0.7"/>
<rect x="310.8" y="245.47" width="5.2" height="4.8" fill="#c02870" stroke="#301018" stroke-width="0.7"/>
<rect x="310.8" y="247.79" width="5.2" height="4.8" fill="#c02870" stroke="#301018" stroke-width="0.7"/>
<rect x="320.4" y="244.21" width="5.2" height="4.8" fill="#c02870" stroke="#301018" stroke-width="0.7"/>
<rect x="320.4" y="248.21" width="5.2" height="4.8" fill="#c02870" stroke="#301018" stroke-width="0.7"/>
<rect x="336.4" y="249.47" width="5.2" height="4.8" fill="#c02870" stroke="#301018" stroke-width="0.7"/>
<rect x="336.4" y="256" width="5.2" height="4.8" fill="#c02870" stroke="#301018" stroke-width="0.7"/>
<rect x="368.4" y="257.05" width="5.2" height="4.8" fill="#c02870" stroke="#301018" stroke-width="0.7"/>
<rect x="368.4" y="263.58" width="5.2" height="4.8" fill="#c02870" stroke="#301018" stroke-width="0.7"/>
<rect x="464.4" y="289.47" width="5.2" height="4.8" fill="#c02870" stroke="#301018" stroke-width="0.7"/>
<rect x="464.4" y="293.89" width="5.2" height="4.8" fill="#c02870" stroke="#301018" stroke-width="0.7"/>
<path d="M313.4 233.94 L316.7 239.54 L310.1 239.54 Z" fill="#f0962a" stroke="#3a2a10" stroke-width="0.7"/>
<path d="M323 233.1 L326.3 238.7 L319.7 238.7 Z" fill="#f0962a" stroke="#3a2a10" stroke-width="0.7"/>
<path d="M323 235.83 L326.3 241.43 L319.7 241.43 Z" fill="#f0962a" stroke="#3a2a10" stroke-width="0.7"/>
<path d="M339 230.36 L342.3 235.96 L335.7 235.96 Z" fill="#f0962a" stroke="#3a2a10" stroke-width="0.7"/>
<path d="M339 240.04 L342.3 245.64 L335.7 245.64 Z" fill="#f0962a" stroke="#3a2a10" stroke-width="0.7"/>
<path d="M371 219.62 L374.3 225.22 L367.7 225.22 Z" fill="#f0962a" stroke="#3a2a10" stroke-width="0.7"/>
<path d="M371 248.67 L374.3 254.27 L367.7 254.27 Z" fill="#f0962a" stroke="#3a2a10" stroke-width="0.7"/>
<path d="M467 188.89 L470.3 194.49 L463.7 194.49 Z" fill="#f0962a" stroke="#3a2a10" stroke-width="0.7"/>
<path d="M467 279.19 L470.3 284.79 L463.7 284.79 Z" fill="#f0962a" stroke="#3a2a10" stroke-width="0.7"/>
<path d="M306.2 170.3 H493.0 V305.1" fill="none" stroke="#9aa0a8" stroke-width="0.9"/>
<path d="M306.2 170.3 V305.1 H493.0" fill="none" stroke="#7a8088" stroke-width="1.4"/>
<line x1="306.2" y1="175.25" x2="308.2" y2="175.25" stroke="#555" stroke-width="0.8"/>
<line x1="493.0" y1="175.25" x2="491.0" y2="175.25" stroke="#555" stroke-width="0.8"/>
<text x="303.6" y="178.75" text-anchor="end" font-family='"Liberation Serif", serif' font-size="10.5" fill="#222" stroke="#222" stroke-width="0.25">3</text>
<line x1="306.2" y1="196.3" x2="308.2" y2="196.3" stroke="#555" stroke-width="0.8"/>
<line x1="493.0" y1="196.3" x2="491.0" y2="196.3" stroke="#555" stroke-width="0.8"/>
<text x="303.6" y="199.8" text-anchor="end" font-family='"Liberation Serif", serif' font-size="10.5" fill="#222" stroke="#222" stroke-width="0.25">2</text>
<line x1="306.2" y1="217.35" x2="308.2" y2="217.35" stroke="#555" stroke-width="0.8"/>
<line x1="493.0" y1="217.35" x2="491.0" y2="217.35" stroke="#555" stroke-width="0.8"/>
<text x="303.6" y="220.85" text-anchor="end" font-family='"Liberation Serif", serif' font-size="10.5" fill="#222" stroke="#222" stroke-width="0.25">1</text>
<line x1="306.2" y1="238.4" x2="308.2" y2="238.4" stroke="#555" stroke-width="0.8"/>
<line x1="493.0" y1="238.4" x2="491.0" y2="238.4" stroke="#555" stroke-width="0.8"/>
<text x="303.6" y="241.9" text-anchor="end" font-family='"Liberation Serif", serif' font-size="10.5" fill="#222" stroke="#222" stroke-width="0.25">0</text>
<line x1="306.2" y1="259.45" x2="308.2" y2="259.45" stroke="#555" stroke-width="0.8"/>
<line x1="493.0" y1="259.45" x2="491.0" y2="259.45" stroke="#555" stroke-width="0.8"/>
<text x="303.6" y="262.95" text-anchor="end" font-family='"Liberation Serif", serif' font-size="10.5" fill="#222" stroke="#222" stroke-width="0.25">-1</text>
<line x1="306.2" y1="280.5" x2="308.2" y2="280.5" stroke="#555" stroke-width="0.8"/>
<line x1="493.0" y1="280.5" x2="491.0" y2="280.5" stroke="#555" stroke-width="0.8"/>
<text x="303.6" y="284" text-anchor="end" font-family='"Liberation Serif", serif' font-size="10.5" fill="#222" stroke="#222" stroke-width="0.25">-2</text>
<line x1="306.2" y1="301.55" x2="308.2" y2="301.55" stroke="#555" stroke-width="0.8"/>
<line x1="493.0" y1="301.55" x2="491.0" y2="301.55" stroke="#555" stroke-width="0.8"/>
<text x="303.6" y="305.05" text-anchor="end" font-family='"Liberation Serif", serif' font-size="10.5" fill="#222" stroke="#222" stroke-width="0.25">-3</text>
<line x1="307" y1="305.1" x2="307" y2="303.1" stroke="#555" stroke-width="0.8"/>
<line x1="307" y1="170.3" x2="307" y2="172.3" stroke="#555" stroke-width="0.8"/>
<text x="307" y="317.7" text-anchor="middle" font-family='"Liberation Serif", serif' font-size="10.5" fill="#222" stroke="#222" stroke-width="0.25">0</text>
<line x1="339" y1="305.1" x2="339" y2="303.1" stroke="#555" stroke-width="0.8"/>
<line x1="339" y1="170.3" x2="339" y2="172.3" stroke="#555" stroke-width="0.8"/>
<text x="339" y="317.7" text-anchor="middle" font-family='"Liberation Serif", serif' font-size="10.5" fill="#222" stroke="#222" stroke-width="0.25">1</text>
<line x1="371" y1="305.1" x2="371" y2="303.1" stroke="#555" stroke-width="0.8"/>
<line x1="371" y1="170.3" x2="371" y2="172.3" stroke="#555" stroke-width="0.8"/>
<text x="371" y="317.7" text-anchor="middle" font-family='"Liberation Serif", serif' font-size="10.5" fill="#222" stroke="#222" stroke-width="0.25">2</text>
<line x1="403" y1="305.1" x2="403" y2="303.1" stroke="#555" stroke-width="0.8"/>
<line x1="403" y1="170.3" x2="403" y2="172.3" stroke="#555" stroke-width="0.8"/>
<text x="403" y="317.7" text-anchor="middle" font-family='"Liberation Serif", serif' font-size="10.5" fill="#222" stroke="#222" stroke-width="0.25">3</text>
<line x1="435" y1="305.1" x2="435" y2="303.1" stroke="#555" stroke-width="0.8"/>
<line x1="435" y1="170.3" x2="435" y2="172.3" stroke="#555" stroke-width="0.8"/>
<text x="435" y="317.7" text-anchor="middle" font-family='"Liberation Serif", serif' font-size="10.5" fill="#222" stroke="#222" stroke-width="0.25">4</text>
<line x1="467" y1="305.1" x2="467" y2="303.1" stroke="#555" stroke-width="0.8"/>
<line x1="467" y1="170.3" x2="467" y2="172.3" stroke="#555" stroke-width="0.8"/>
<text x="467" y="317.7" text-anchor="middle" font-family='"Liberation Serif", serif' font-size="10.5" fill="#222" stroke="#222" stroke-width="0.25">5</text>
<text x="387.6" y="329.5" font-family='"Liberation Serif", serif' font-weight="bold" font-size="12.5" fill="#111">J<tspan font-size="8.5" dy="2.2">1</tspan><tspan dy="-2.2">/J</tspan><tspan font-size="8.5" dy="2.2">2</tspan></text>
<text transform="translate(288.5,252) rotate(-90)" font-family='"Liberation Serif", serif' font-weight="bold" font-size="12.5" fill="#111"><tspan font-weight="normal" font-size="14">Δ</tspan><tspan font-size="8.5" dy="2.2" font-style="italic">E</tspan><tspan dy="-2.2">/J</tspan><tspan font-size="8.5" dy="2.2">1</tspan></text>
<text x="387.6" y="184.2" font-family='"Liberation Serif", serif' font-size="15.5" fill="#111" stroke="#111" stroke-width="0.3">(d)</text>
<defs><clipPath id="ce0"><rect x="546.0" y="5.4" width="243.0" height="44.9"/></clipPath></defs>
<g clip-path="url(#ce0)">
<path d="M549.2 46.27 L549.52 46.27 L549.83 46.27 L550.15 46.27 L550.46 46.27 L550.78 46.27 L551.09 46.27 L551.41 46.27 L551.72 46.27 L552.04 46.27 L552.35 46.27 L552.67 46.27 L552.98 46.27 L553.3 46.27 L553.62 46.26 L553.93 46.26 L554.25 46.26 L554.56 46.25 L554.88 46.24 L555.19 46.24 L555.51 46.23 L555.82 46.22 L556.14 46.2 L556.45 46.19 L556.77 46.17 L557.09 46.15 L557.4 46.12 L557.72 46.1 L558.03 46.07 L558.35 46.04 L558.66 46 L558.98 45.97 L559.29 45.93 L559.61 45.89 L559.92 45.84 L560.24 45.8 L560.55 45.76 L560.87 45.71 L561.19 45.67 L561.5 45.63 L561.82 45.59 L562.13 45.56 L562.45 45.53 L562.76 45.5 L563.08 45.48 L563.39 45.47 L563.71 45.46 L564.02 45.46 L564.34 45.47 L564.66 45.49 L564.97 45.51 L565.29 45.54 L565.6 45.58 L565.92 45.63 L566.23 45.68 L566.55 45.74 L566.86 45.8 L567.18 45.86 L567.49 45.92 L567.81 45.99 L568.12 46.05 L568.44 46.11 L568.76 46.16 L569.07 46.21 L569.39 46.24 L569.7 46.26 L570.02 46.27 L570.33 46.26 L570.65 46.24 L570.96 46.19 L571.28 46.13 L571.59 46.04 L571.91 45.93 L572.23 45.8 L572.54 45.64 L572.86 45.46 L573.17 45.26 L573.49 45.03 L573.8 44.78 L574.12 44.51 L574.43 44.22 L574.75 43.92 L575.06 43.6 L575.38 43.27 L575.69 42.92 L576.01 42.58 L576.33 42.23 L576.64 41.88 L576.96 41.53 L577.27 41.19 L577.59 40.86 L577.9 40.55 L578.22 40.26 L578.53 39.99 L578.85 39.74 L579.16 39.53 L579.48 39.35 L579.8 39.2 L580.11 39.08 L580.43 39.01 L580.74 38.98 L581.06 38.98 L581.37 39.03 L581.69 39.12 L582 39.25 L582.32 39.43 L582.63 39.64 L582.95 39.89 L583.26 40.17 L583.58 40.48 L583.9 40.82 L584.21 41.19 L584.53 41.57 L584.84 41.98 L585.16 42.39 L585.47 42.8 L585.79 43.22 L586.1 43.63 L586.42 44.03 L586.73 44.41 L587.05 44.77 L587.37 45.11 L587.68 45.41 L588 45.67 L588.31 45.89 L588.63 46.06 L588.94 46.19 L589.26 46.26 L589.57 46.27 L589.89 46.22 L590.2 46.11 L590.52 45.94 L590.83 45.71 L591.15 45.42 L591.47 45.07 L591.78 44.66 L592.1 44.19 L592.41 43.67 L592.73 43.1 L593.04 42.49 L593.36 41.84 L593.67 41.16 L593.99 40.44 L594.3 39.71 L594.62 38.97 L594.94 38.21 L595.25 37.46 L595.57 36.72 L595.88 35.99 L596.2 35.29 L596.51 34.62 L596.83 33.98 L597.14 33.39 L597.46 32.86 L597.77 32.38 L598.09 31.96 L598.4 31.62 L598.72 31.34 L599.04 31.14 L599.35 31.02 L599.67 30.98 L599.98 31.03 L600.3 31.15 L600.61 31.36 L600.93 31.64 L601.24 32 L601.56 32.44 L601.87 32.94 L602.19 33.51 L602.51 34.13 L602.82 34.81 L603.14 35.53 L603.45 36.29 L603.77 37.07 L604.08 37.88 L604.4 38.69 L604.71 39.51 L605.03 40.31 L605.34 41.1 L605.66 41.87 L605.97 42.59 L606.29 43.27 L606.61 43.9 L606.92 44.47 L607.24 44.97 L607.55 45.4 L607.87 45.75 L608.18 46.01 L608.5 46.18 L608.81 46.26 L609.13 46.25 L609.44 46.15 L609.76 45.94 L610.08 45.65 L610.39 45.27 L610.71 44.79 L611.02 44.24 L611.34 43.6 L611.65 42.89 L611.97 42.12 L612.28 41.29 L612.6 40.41 L612.91 39.49 L613.23 38.54 L613.54 37.57 L613.86 36.59 L614.18 35.6 L614.49 34.63 L614.81 33.68 L615.12 32.76 L615.44 31.88 L615.75 31.04 L616.07 30.27 L616.38 29.56 L616.7 28.93 L617.01 28.38 L617.33 27.92 L617.65 27.55 L617.96 27.28 L618.28 27.1 L618.59 27.03 L618.91 27.06 L619.22 27.19 L619.54 27.43 L619.85 27.75 L620.17 28.18 L620.48 28.69 L620.8 29.29 L621.11 29.97 L621.43 30.71 L621.75 31.52 L622.06 32.38 L622.38 33.29 L622.69 34.23 L623.01 35.19 L623.32 36.17 L623.64 37.16 L623.95 38.13 L624.27 39.1 L624.58 40.03 L624.9 40.93 L625.22 41.78 L625.53 42.58 L625.85 43.31 L626.16 43.98 L626.48 44.57 L626.79 45.08 L627.11 45.5 L627.42 45.83 L627.74 46.07 L628.05 46.22 L628.37 46.27 L628.68 46.23 L629 46.09 L629.32 45.87 L629.63 45.55 L629.95 45.16 L630.26 44.69 L630.58 44.15 L630.89 43.54 L631.21 42.88 L631.52 42.18 L631.84 41.43 L632.15 40.65 L632.47 39.85 L632.78 39.03 L633.1 38.22 L633.42 37.41 L633.73 36.61 L634.05 35.84 L634.36 35.11 L634.68 34.41 L634.99 33.76 L635.31 33.17 L635.62 32.64 L635.94 32.18 L636.25 31.78 L636.57 31.47 L636.89 31.23 L637.2 31.07 L637.52 30.99 L637.83 31 L638.15 31.08 L638.46 31.25 L638.78 31.49 L639.09 31.81 L639.41 32.2 L639.72 32.65 L640.04 33.16 L640.35 33.73 L640.67 34.35 L640.99 35 L641.3 35.69 L641.62 36.41 L641.93 37.15 L642.25 37.9 L642.56 38.65 L642.88 39.4 L643.19 40.14 L643.51 40.86 L643.82 41.56 L644.14 42.22 L644.46 42.85 L644.77 43.44 L645.09 43.98 L645.4 44.47 L645.72 44.9 L646.03 45.28 L646.35 45.6 L646.66 45.85 L646.98 46.05 L647.29 46.18 L647.61 46.26 L647.92 46.27 L648.24 46.22 L648.56 46.12 L648.87 45.97 L649.19 45.77 L649.5 45.52 L649.82 45.24 L650.13 44.92 L650.45 44.57 L650.76 44.19 L651.08 43.8 L651.39 43.39 L651.71 42.98 L652.03 42.56 L652.34 42.15 L652.66 41.74 L652.97 41.35 L653.29 40.97 L653.6 40.62 L653.92 40.3 L654.23 40 L654.55 39.74 L654.86 39.51 L655.18 39.32 L655.49 39.17 L655.81 39.07 L656.13 39 L656.44 38.97 L656.76 38.99 L657.07 39.05 L657.39 39.14 L657.7 39.28 L658.02 39.45 L658.33 39.65 L658.65 39.88 L658.96 40.14 L659.28 40.43 L659.6 40.73 L659.91 41.05 L660.23 41.39 L660.54 41.73 L660.86 42.08 L661.17 42.43 L661.49 42.78 L661.8 43.12 L662.12 43.46 L662.43 43.79 L662.75 44.1 L663.06 44.39 L663.38 44.67 L663.7 44.93 L664.01 45.17 L664.33 45.38 L664.64 45.57 L664.96 45.74 L665.27 45.88 L665.59 46 L665.9 46.09 L666.22 46.17 L666.53 46.22 L666.85 46.25 L667.17 46.27 L667.48 46.27 L667.8 46.25 L668.11 46.22 L668.43 46.18 L668.74 46.13 L669.06 46.08 L669.37 46.02 L669.69 45.95 L670 45.89 L670.32 45.82 L670.63 45.76 L670.95 45.7 L671.27 45.65 L671.58 45.6 L671.9 45.56 L672.21 45.52 L672.53 45.5 L672.84 45.48 L673.16 45.47 L673.47 45.46 L673.79 45.47 L674.1 45.48 L674.42 45.49 L674.74 45.52 L675.05 45.55 L675.37 45.58 L675.68 45.62 L676 45.65 L676.31 45.7 L676.63 45.74 L676.94 45.78 L677.26 45.83 L677.57 45.87 L677.89 45.91 L678.2 45.95 L678.52 45.99 L678.84 46.02 L679.15 46.06 L679.47 46.09 L679.78 46.11 L680.1 46.14 L680.41 46.16 L680.73 46.18 L681.04 46.2 L681.36 46.21 L681.67 46.22 L681.99 46.23 L682.31 46.24 L682.62 46.25 L682.94 46.25 L683.25 46.26 L683.57 46.26 L683.88 46.26 L684.2 46.27 L684.51 46.27 L684.83 46.27 L685.14 46.27 L685.46 46.27 L685.77 46.27 L686.09 46.27 L686.41 46.27 L686.72 46.27 L687.04 46.27 L687.35 46.27 L687.67 46.27 L687.98 46.27 L688.3 46.27 L688.61 46.27 L688.93 46.27 L689.24 46.27 L689.56 46.27 L689.88 46.27 L690.19 46.27 L690.51 46.27 L690.82 46.27 L691.14 46.27 L691.45 46.27 L691.77 46.27 L692.08 46.26 L692.4 46.26 L692.71 46.26 L693.03 46.25 L693.34 46.25 L693.66 46.24 L693.98 46.23 L694.29 46.22 L694.61 46.21 L694.92 46.19 L695.24 46.18 L695.55 46.16 L695.87 46.14 L696.18 46.11 L696.5 46.08 L696.81 46.05 L697.13 46.02 L697.45 45.98 L697.76 45.94 L698.08 45.9 L698.39 45.86 L698.71 45.82 L699.02 45.78 L699.34 45.73 L699.65 45.69 L699.97 45.65 L700.28 45.61 L700.6 45.57 L700.91 45.54 L701.23 45.51 L701.55 45.49 L701.86 45.48 L702.18 45.47 L702.49 45.46 L702.81 45.47 L703.12 45.48 L703.44 45.5 L703.75 45.53 L704.07 45.57 L704.38 45.61 L704.7 45.66 L705.02 45.71 L705.33 45.77 L705.65 45.83 L705.96 45.9 L706.28 45.96 L706.59 46.03 L706.91 46.09 L707.22 46.14 L707.54 46.19 L707.85 46.23 L708.17 46.25 L708.48 46.27 L708.8 46.27 L709.12 46.25 L709.43 46.21 L709.75 46.16 L710.06 46.08 L710.38 45.98 L710.69 45.86 L711.01 45.71 L711.32 45.54 L711.64 45.35 L711.95 45.13 L712.27 44.89 L712.58 44.63 L712.9 44.35 L713.22 44.05 L713.53 43.74 L713.85 43.41 L714.16 43.07 L714.48 42.72 L714.79 42.37 L715.11 42.02 L715.42 41.67 L715.74 41.33 L716.05 41 L716.37 40.68 L716.69 40.38 L717 40.1 L717.32 39.84 L717.63 39.62 L717.95 39.42 L718.26 39.25 L718.58 39.13 L718.89 39.04 L719.21 38.99 L719.52 38.98 L719.84 39.01 L720.15 39.08 L720.47 39.19 L720.79 39.35 L721.1 39.54 L721.42 39.78 L721.73 40.04 L722.05 40.35 L722.36 40.68 L722.68 41.03 L722.99 41.41 L723.31 41.81 L723.62 42.21 L723.94 42.63 L724.26 43.04 L724.57 43.46 L724.89 43.86 L725.2 44.26 L725.52 44.63 L725.83 44.97 L726.15 45.29 L726.46 45.57 L726.78 45.8 L727.09 46 L727.41 46.14 L727.72 46.23 L728.04 46.27 L728.36 46.25 L728.67 46.17 L728.99 46.02 L729.3 45.82 L729.62 45.55 L729.93 45.22 L730.25 44.84 L730.56 44.39 L730.88 43.9 L731.19 43.35 L731.51 42.75 L731.83 42.12 L732.14 41.45 L732.46 40.75 L732.77 40.02 L733.09 39.28 L733.4 38.53 L733.72 37.78 L734.03 37.03 L734.35 36.3 L734.66 35.58 L734.98 34.9 L735.29 34.24 L735.61 33.64 L735.93 33.08 L736.24 32.57 L736.56 32.13 L736.87 31.75 L737.19 31.45 L737.5 31.22 L737.82 31.06 L738.13 30.99 L738.45 31 L738.76 31.09 L739.08 31.26 L739.4 31.51 L739.71 31.84 L740.03 32.25 L740.34 32.72 L740.66 33.26 L740.97 33.86 L741.29 34.52 L741.6 35.22 L741.92 35.97 L742.23 36.74 L742.55 37.54 L742.86 38.35 L743.18 39.16 L743.5 39.98 L743.81 40.77 L744.13 41.55 L744.44 42.29 L744.76 42.99 L745.07 43.65 L745.39 44.24 L745.7 44.77 L746.02 45.23 L746.33 45.61 L746.65 45.91 L746.97 46.12 L747.28 46.24 L747.6 46.27 L747.91 46.2 L748.23 46.04 L748.54 45.79 L748.86 45.44 L749.17 45 L749.49 44.48 L749.8 43.88 L750.12 43.2 L750.43 42.45 L750.75 41.65 L751.07 40.79 L751.38 39.88 L751.7 38.94 L752.01 37.98 L752.33 37 L752.64 36.02 L752.96 35.04 L753.27 34.08 L753.59 33.14 L753.9 32.24 L754.22 31.39 L754.54 30.59 L754.85 29.85 L755.17 29.19 L755.48 28.6 L755.8 28.11 L756.11 27.7 L756.43 27.38 L756.74 27.17 L757.06 27.05 L757.37 27.04 L757.69 27.13 L758 27.32 L758.32 27.6 L758.64 27.99 L758.95 28.47 L759.27 29.03 L759.58 29.67 L759.9 30.39 L760.21 31.17 L760.53 32.01 L760.84 32.9 L761.16 33.83 L761.47 34.78 L761.79 35.76 L762.11 36.74 L762.42 37.72 L762.74 38.69 L763.05 39.64 L763.37 40.55 L763.68 41.43 L764 42.25 L764.31 43.01 L764.63 43.71 L764.94 44.33 L765.26 44.87 L765.57 45.33 L765.89 45.7 L766.21 45.98 L766.52 46.17 L766.84 46.26 L767.15 46.26 L767.47 46.16 L767.78 45.97 L768.1 45.7 L768.41 45.34 L768.73 44.9 L769.04 44.39 L769.36 43.81 L769.68 43.17 L769.99 42.48 L770.31 41.75 L770.62 40.98 L770.94 40.19 L771.25 39.38 L771.57 38.56 L771.88 37.75 L772.2 36.95 L772.51 36.17 L772.83 35.41 L773.14 34.7 L773.46 34.03 L773.78 33.41 L774.09 32.86 L774.41 32.36 L774.72 31.94 L775.04 31.59 L775.35 31.32 L775.67 31.13 L775.98 31.01 L776.3 30.99 L776.61 31.04 L776.93 31.17 L777.25 31.38 L777.56 31.67 L777.88 32.03 L778.19 32.45 L778.51 32.94 L778.82 33.48 L779.14 34.08 L779.45 34.72 L779.77 35.4 L780.08 36.11 L780.4 36.84 L780.71 37.58 L781.03 38.33 L781.35 39.09 L781.66 39.83 L781.98 40.56 L782.29 41.27 L782.61 41.95 L782.92 42.59 L783.24 43.2 L783.55 43.76 L783.87 44.27 L784.18 44.73 L784.5 45.13 L784.82 45.47 L785.13 45.75 L785.45 45.97 L785.76 46.13 L786.08 46.23 L786.39 46.27 L786.71 46.25 L787.02 46.17 L787.34 46.04 L787.65 45.86 L787.97 45.63 L788.28 45.36 L788.6 45.06" fill="none" stroke="#e4400e" stroke-width="1.5"/>
<path d="M549.2 44.93 L552.35 45.6 L555.5 45.39 L558.65 45.36 L561.8 45.1 L564.95 43.94 L568.1 44.21 L571.25 43.75 L574.4 42.41 L577.55 40.02 L580.7 40 L583.85 41.37 L587 43.74 L590.15 44.64 L593.3 41.3 L596.45 36.14 L599.6 33.44 L602.75 35.56 L605.9 40.52 L609.05 43.5 L612.2 40.28 L615.35 33.79 L618.5 30.26 L621.65 33.35 L624.8 39.59 L627.95 42.99 L631.1 41.37 L634.25 36.85 L637.4 33.62 L640.55 35.5 L643.7 40.65 L646.85 43.4 L650 43.58 L653.15 40.93 L656.3 39.96 L659.45 41.59 L662.6 44.03 L665.75 44.49 L668.9 45 L672.05 44.62 L675.2 44.11 L678.35 44.53 L681.5 44.53 L684.65 44.22 L687.8 43.89 L690.95 43.52 L694.1 43.12 L697.25 42.98 L700.4 42.5 L703.55 42.82 L706.7 44.2 L709.85 44.49 L713 42.45 L716.15 40.81 L719.3 39.64 L722.45 40.96 L725.6 44 L728.75 44.96 L731.9 41.87 L735.05 37.51 L738.2 36.15 L741.35 38.22 L744.5 42.57 L747.65 44.13 L750.8 42.31 L753.95 36.6 L757.1 33.42 L760.25 36.15 L763.4 41.26 L766.55 44.09 L769.7 42.1 L772.85 37.99 L776 34.72 L779.15 36.9 L782.3 40.96 L785.45 44.52 L788.6 43.13" fill="none" stroke="#2848f0" stroke-width="1.1"/>
<path d="M547.75 43.48h2.9v2.9h-2.9zM550.9 44.15h2.9v2.9h-2.9zM554.05 43.94h2.9v2.9h-2.9zM557.2 43.91h2.9v2.9h-2.9zM560.35 43.65h2.9v2.9h-2.9zM563.5 42.49h2.9v2.9h-2.9zM566.65 42.76h2.9v2.9h-2.9zM569.8 42.3h2.9v2.9h-2.9zM572.95 40.96h2.9v2.9h-2.9zM576.1 38.57h2.9v2.9h-2.9zM579.25 38.55h2.9v2.9h-2.9zM582.4 39.92h2.9v2.9h-2.9zM585.55 42.29h2.9v2.9h-2.9zM588.7 43.19h2.9v2.9h-2.9zM591.85 39.85h2.9v2.9h-2.9zM595 34.69h2.9v2.9h-2.9zM598.15 31.99h2.9v2.9h-2.9zM601.3 34.11h2.9v2.9h-2.9zM604.45 39.07h2.9v2.9h-2.9zM607.6 42.05h2.9v2.9h-2.9zM610.75 38.83h2.9v2.9h-2.9zM613.9 32.34h2.9v2.9h-2.9zM617.05 28.81h2.9v2.9h-2.9zM620.2 31.9h2.9v2.9h-2.9zM623.35 38.14h2.9v2.9h-2.9zM626.5 41.54h2.9v2.9h-2.9zM629.65 39.92h2.9v2.9h-2.9zM632.8 35.4h2.9v2.9h-2.9zM635.95 32.17h2.9v2.9h-2.9zM639.1 34.05h2.9v2.9h-2.9zM642.25 39.2h2.9v2.9h-2.9zM645.4 41.95h2.9v2.9h-2.9zM648.55 42.13h2.9v2.9h-2.9zM651.7 39.48h2.9v2.9h-2.9zM654.85 38.51h2.9v2.9h-2.9zM658 40.14h2.9v2.9h-2.9zM661.15 42.58h2.9v2.9h-2.9zM664.3 43.04h2.9v2.9h-2.9zM667.45 43.55h2.9v2.9h-2.9zM670.6 43.17h2.9v2.9h-2.9zM673.75 42.66h2.9v2.9h-2.9zM676.9 43.08h2.9v2.9h-2.9zM680.05 43.08h2.9v2.9h-2.9zM683.2 42.77h2.9v2.9h-2.9zM686.35 42.44h2.9v2.9h-2.9zM689.5 42.07h2.9v2.9h-2.9zM692.65 41.67h2.9v2.9h-2.9zM695.8 41.53h2.9v2.9h-2.9zM698.95 41.05h2.9v2.9h-2.9zM702.1 41.37h2.9v2.9h-2.9zM705.25 42.75h2.9v2.9h-2.9zM708.4 43.04h2.9v2.9h-2.9zM711.55 41h2.9v2.9h-2.9zM714.7 39.36h2.9v2.9h-2.9zM717.85 38.19h2.9v2.9h-2.9zM721 39.51h2.9v2.9h-2.9zM724.15 42.55h2.9v2.9h-2.9zM727.3 43.51h2.9v2.9h-2.9zM730.45 40.42h2.9v2.9h-2.9zM733.6 36.06h2.9v2.9h-2.9zM736.75 34.7h2.9v2.9h-2.9zM739.9 36.77h2.9v2.9h-2.9zM743.05 41.12h2.9v2.9h-2.9zM746.2 42.68h2.9v2.9h-2.9zM749.35 40.86h2.9v2.9h-2.9zM752.5 35.15h2.9v2.9h-2.9zM755.65 31.97h2.9v2.9h-2.9zM758.8 34.7h2.9v2.9h-2.9zM761.95 39.81h2.9v2.9h-2.9zM765.1 42.64h2.9v2.9h-2.9zM768.25 40.65h2.9v2.9h-2.9zM771.4 36.54h2.9v2.9h-2.9zM774.55 33.27h2.9v2.9h-2.9zM777.7 35.45h2.9v2.9h-2.9zM780.85 39.51h2.9v2.9h-2.9zM784 43.07h2.9v2.9h-2.9zM787.15 41.68h2.9v2.9h-2.9z" fill="#2040f0"/>
</g>
<line x1="546.0" y1="5.4" x2="789.0" y2="5.4" stroke="#151515" stroke-width="1.2"/>
<line x1="546.0" y1="49.5" x2="789.0" y2="49.5" stroke="#151515" stroke-width="1.2"/>
<line x1="546.0" y1="5.4" x2="546.0" y2="50.3" stroke="#8a9094" stroke-width="1.8"/>
<line x1="789.0" y1="5.4" x2="789.0" y2="50.3" stroke="#8a9094" stroke-width="1.3"/>
<line x1="546.0" y1="8.9" x2="548.0" y2="8.9" stroke="#444" stroke-width="0.8"/>
<line x1="789.0" y1="8.9" x2="787.0" y2="8.9" stroke="#444" stroke-width="0.8"/>
<text x="544" y="12.3" text-anchor="end" font-family='"Liberation Sans", sans-serif' font-size="9.3" fill="#333" stroke="#333" stroke-width="0.15" transform="translate(544 0) scale(1.08 1) translate(-544 0)">1</text>
<line x1="546.0" y1="27.4" x2="548.0" y2="27.4" stroke="#444" stroke-width="0.8"/>
<line x1="789.0" y1="27.4" x2="787.0" y2="27.4" stroke="#444" stroke-width="0.8"/>
<text x="544" y="30.8" text-anchor="end" font-family='"Liberation Sans", sans-serif' font-size="9.3" fill="#333" stroke="#333" stroke-width="0.15" transform="translate(544 0) scale(1.08 1) translate(-544 0)">0.5</text>
<line x1="546.0" y1="45.9" x2="548.0" y2="45.9" stroke="#444" stroke-width="0.8"/>
<line x1="789.0" y1="45.9" x2="787.0" y2="45.9" stroke="#444" stroke-width="0.8"/>
<text x="544" y="49.3" text-anchor="end" font-family='"Liberation Sans", sans-serif' font-size="9.3" fill="#333" stroke="#333" stroke-width="0.15" transform="translate(544 0) scale(1.08 1) translate(-544 0)">0</text>
<line x1="627.95" y1="5.4" x2="627.95" y2="7.4" stroke="#444" stroke-width="0.8"/>
<line x1="627.95" y1="50.3" x2="627.95" y2="48.3" stroke="#444" stroke-width="0.8"/>
<line x1="706.7" y1="5.4" x2="706.7" y2="7.4" stroke="#444" stroke-width="0.8"/>
<line x1="706.7" y1="50.3" x2="706.7" y2="48.3" stroke="#444" stroke-width="0.8"/>
<line x1="756.5" y1="9" x2="756.5" y2="21.3" stroke="#8a9098" stroke-width="1.1"/>
<text x="758.2" y="18" textLength="6.6" lengthAdjust="spacingAndGlyphs" font-family='"Liberation Serif", serif' font-size="12.5" font-style="italic" fill="#222" stroke="#222" stroke-width="0.4">n</text>
<text x="767.2" y="20.2" font-family='"Liberation Serif", serif' font-size="8" fill="#222" stroke="#222" stroke-width="0.25">6</text>
<path d="M773 8.7 Q774.2 11.5 776 15.2 Q774.2 19 773 21.8" fill="none" stroke="#333" stroke-width="0.75"/>
<rect x="785.8" y="6.6" width="2.6" height="2.6" fill="none" stroke="#555" stroke-width="0.6"/>
<rect x="785.8" y="46.5" width="2.6" height="2.6" fill="none" stroke="#555" stroke-width="0.6"/>
<defs><clipPath id="ce1"><rect x="546.0" y="54.9" width="243.0" height="44.9"/></clipPath></defs>
<g clip-path="url(#ce1)">
<path d="M549.2 95.77 L549.52 95.77 L549.83 95.77 L550.15 95.77 L550.46 95.77 L550.78 95.76 L551.09 95.76 L551.41 95.76 L551.72 95.76 L552.04 95.76 L552.35 95.76 L552.67 95.75 L552.98 95.75 L553.3 95.75 L553.62 95.75 L553.93 95.74 L554.25 95.74 L554.56 95.74 L554.88 95.74 L555.19 95.73 L555.51 95.73 L555.82 95.73 L556.14 95.73 L556.45 95.73 L556.77 95.73 L557.09 95.73 L557.4 95.73 L557.72 95.74 L558.03 95.74 L558.35 95.74 L558.66 95.75 L558.98 95.75 L559.29 95.76 L559.61 95.76 L559.92 95.77 L560.24 95.77 L560.55 95.77 L560.87 95.77 L561.19 95.76 L561.5 95.75 L561.82 95.74 L562.13 95.72 L562.45 95.69 L562.76 95.66 L563.08 95.62 L563.39 95.57 L563.71 95.51 L564.02 95.44 L564.34 95.36 L564.66 95.27 L564.97 95.17 L565.29 95.06 L565.6 94.94 L565.92 94.81 L566.23 94.67 L566.55 94.53 L566.86 94.37 L567.18 94.22 L567.49 94.06 L567.81 93.89 L568.12 93.73 L568.44 93.56 L568.76 93.4 L569.07 93.25 L569.39 93.1 L569.7 92.96 L570.02 92.83 L570.33 92.72 L570.65 92.62 L570.96 92.53 L571.28 92.47 L571.59 92.42 L571.91 92.4 L572.23 92.39 L572.54 92.41 L572.86 92.46 L573.17 92.52 L573.49 92.61 L573.8 92.71 L574.12 92.84 L574.43 92.99 L574.75 93.15 L575.06 93.33 L575.38 93.52 L575.69 93.72 L576.01 93.93 L576.33 94.15 L576.64 94.36 L576.96 94.57 L577.27 94.78 L577.59 94.97 L577.9 95.15 L578.22 95.32 L578.53 95.46 L578.85 95.58 L579.16 95.67 L579.48 95.74 L579.8 95.77 L580.11 95.76 L580.43 95.72 L580.74 95.64 L581.06 95.52 L581.37 95.36 L581.69 95.16 L582 94.91 L582.32 94.63 L582.63 94.31 L582.95 93.95 L583.26 93.55 L583.58 93.13 L583.9 92.67 L584.21 92.19 L584.53 91.69 L584.84 91.17 L585.16 90.63 L585.47 90.09 L585.79 89.55 L586.1 89.01 L586.42 88.48 L586.73 87.96 L587.05 87.46 L587.37 86.98 L587.68 86.54 L588 86.13 L588.31 85.76 L588.63 85.43 L588.94 85.15 L589.26 84.93 L589.57 84.76 L589.89 84.64 L590.2 84.58 L590.52 84.59 L590.83 84.65 L591.15 84.78 L591.47 84.96 L591.78 85.21 L592.1 85.51 L592.41 85.86 L592.73 86.27 L593.04 86.72 L593.36 87.21 L593.67 87.74 L593.99 88.29 L594.3 88.88 L594.62 89.48 L594.94 90.08 L595.25 90.7 L595.57 91.31 L595.88 91.91 L596.2 92.48 L596.51 93.04 L596.83 93.56 L597.14 94.04 L597.46 94.47 L597.77 94.85 L598.09 95.17 L598.4 95.42 L598.72 95.61 L599.04 95.73 L599.35 95.77 L599.67 95.73 L599.98 95.62 L600.3 95.43 L600.61 95.15 L600.93 94.8 L601.24 94.38 L601.56 93.88 L601.87 93.31 L602.19 92.68 L602.51 91.99 L602.82 91.25 L603.14 90.47 L603.45 89.64 L603.77 88.79 L604.08 87.91 L604.4 87.02 L604.71 86.13 L605.03 85.24 L605.34 84.37 L605.66 83.52 L605.97 82.7 L606.29 81.92 L606.61 81.19 L606.92 80.52 L607.24 79.92 L607.55 79.39 L607.87 78.93 L608.18 78.56 L608.5 78.27 L608.81 78.07 L609.13 77.97 L609.44 77.96 L609.76 78.05 L610.08 78.23 L610.39 78.5 L610.71 78.86 L611.02 79.31 L611.34 79.84 L611.65 80.45 L611.97 81.13 L612.28 81.86 L612.6 82.66 L612.91 83.5 L613.23 84.37 L613.54 85.28 L613.86 86.2 L614.18 87.13 L614.49 88.06 L614.81 88.97 L615.12 89.87 L615.44 90.73 L615.75 91.54 L616.07 92.31 L616.38 93.02 L616.7 93.66 L617.01 94.22 L617.33 94.71 L617.65 95.1 L617.96 95.41 L618.28 95.63 L618.59 95.75 L618.91 95.77 L619.22 95.69 L619.54 95.51 L619.85 95.24 L620.17 94.88 L620.48 94.43 L620.8 93.9 L621.11 93.29 L621.43 92.61 L621.75 91.87 L622.06 91.07 L622.38 90.23 L622.69 89.35 L623.01 88.44 L623.32 87.52 L623.64 86.59 L623.95 85.66 L624.27 84.75 L624.58 83.86 L624.9 83 L625.22 82.19 L625.53 81.43 L625.85 80.72 L626.16 80.09 L626.48 79.52 L626.79 79.04 L627.11 78.64 L627.42 78.33 L627.74 78.11 L628.05 77.99 L628.37 77.96 L628.68 78.02 L629 78.18 L629.32 78.43 L629.63 78.76 L629.95 79.18 L630.26 79.69 L630.58 80.26 L630.89 80.91 L631.21 81.61 L631.52 82.37 L631.84 83.17 L632.15 84.01 L632.47 84.87 L632.78 85.76 L633.1 86.65 L633.42 87.54 L633.73 88.42 L634.05 89.29 L634.36 90.13 L634.68 90.93 L634.99 91.69 L635.31 92.4 L635.62 93.06 L635.94 93.65 L636.25 94.18 L636.57 94.63 L636.89 95.02 L637.2 95.32 L637.52 95.55 L637.83 95.7 L638.15 95.76 L638.46 95.76 L638.78 95.67 L639.09 95.51 L639.41 95.28 L639.72 94.99 L640.04 94.63 L640.35 94.22 L640.67 93.76 L640.99 93.26 L641.3 92.72 L641.62 92.15 L641.93 91.56 L642.25 90.95 L642.56 90.34 L642.88 89.73 L643.19 89.12 L643.51 88.53 L643.82 87.97 L644.14 87.43 L644.46 86.92 L644.77 86.45 L645.09 86.03 L645.4 85.65 L645.72 85.33 L646.03 85.06 L646.35 84.85 L646.66 84.7 L646.98 84.61 L647.29 84.58 L647.61 84.61 L647.92 84.7 L648.24 84.85 L648.56 85.05 L648.87 85.31 L649.19 85.62 L649.5 85.97 L649.82 86.36 L650.13 86.79 L650.45 87.26 L650.76 87.75 L651.08 88.26 L651.39 88.78 L651.71 89.32 L652.03 89.87 L652.34 90.41 L652.66 90.94 L652.97 91.47 L653.29 91.98 L653.6 92.47 L653.92 92.94 L654.23 93.38 L654.55 93.79 L654.86 94.16 L655.18 94.5 L655.49 94.8 L655.81 95.06 L656.13 95.28 L656.44 95.46 L656.76 95.59 L657.07 95.69 L657.39 95.75 L657.7 95.77 L658.02 95.75 L658.33 95.7 L658.65 95.62 L658.96 95.51 L659.28 95.38 L659.6 95.22 L659.91 95.05 L660.23 94.86 L660.54 94.66 L660.86 94.45 L661.17 94.24 L661.49 94.02 L661.8 93.81 L662.12 93.61 L662.43 93.41 L662.75 93.23 L663.06 93.06 L663.38 92.9 L663.7 92.77 L664.01 92.65 L664.33 92.55 L664.64 92.48 L664.96 92.43 L665.27 92.4 L665.59 92.39 L665.9 92.41 L666.22 92.45 L666.53 92.5 L666.85 92.58 L667.17 92.67 L667.48 92.78 L667.8 92.9 L668.11 93.04 L668.43 93.18 L668.74 93.34 L669.06 93.49 L669.37 93.66 L669.69 93.82 L670 93.99 L670.32 94.15 L670.63 94.31 L670.95 94.46 L671.27 94.61 L671.58 94.75 L671.9 94.89 L672.21 95.01 L672.53 95.12 L672.84 95.23 L673.16 95.32 L673.47 95.4 L673.79 95.48 L674.1 95.54 L674.42 95.6 L674.74 95.64 L675.05 95.68 L675.37 95.71 L675.68 95.73 L676 95.75 L676.31 95.76 L676.63 95.77 L676.94 95.77 L677.26 95.77 L677.57 95.77 L677.89 95.76 L678.2 95.76 L678.52 95.76 L678.84 95.75 L679.15 95.75 L679.47 95.74 L679.78 95.74 L680.1 95.73 L680.41 95.73 L680.73 95.73 L681.04 95.73 L681.36 95.73 L681.67 95.73 L681.99 95.73 L682.31 95.73 L682.62 95.73 L682.94 95.74 L683.25 95.74 L683.57 95.74 L683.88 95.75 L684.2 95.75 L684.51 95.75 L684.83 95.75 L685.14 95.76 L685.46 95.76 L685.77 95.76 L686.09 95.76 L686.41 95.76 L686.72 95.76 L687.04 95.77 L687.35 95.77 L687.67 95.77 L687.98 95.77 L688.3 95.77 L688.61 95.77 L688.93 95.77 L689.24 95.76 L689.56 95.76 L689.88 95.76 L690.19 95.76 L690.51 95.76 L690.82 95.76 L691.14 95.76 L691.45 95.75 L691.77 95.75 L692.08 95.75 L692.4 95.75 L692.71 95.74 L693.03 95.74 L693.34 95.74 L693.66 95.73 L693.98 95.73 L694.29 95.73 L694.61 95.73 L694.92 95.73 L695.24 95.73 L695.55 95.73 L695.87 95.73 L696.18 95.73 L696.5 95.74 L696.81 95.74 L697.13 95.75 L697.45 95.75 L697.76 95.76 L698.08 95.76 L698.39 95.77 L698.71 95.77 L699.02 95.77 L699.34 95.77 L699.65 95.76 L699.97 95.76 L700.28 95.74 L700.6 95.73 L700.91 95.7 L701.23 95.67 L701.55 95.63 L701.86 95.59 L702.18 95.53 L702.49 95.47 L702.81 95.39 L703.12 95.31 L703.44 95.21 L703.75 95.11 L704.07 94.99 L704.38 94.87 L704.7 94.73 L705.02 94.59 L705.33 94.44 L705.65 94.28 L705.96 94.12 L706.28 93.96 L706.59 93.8 L706.91 93.63 L707.22 93.47 L707.54 93.31 L707.85 93.16 L708.17 93.02 L708.48 92.88 L708.8 92.76 L709.12 92.66 L709.43 92.56 L709.75 92.49 L710.06 92.44 L710.38 92.41 L710.69 92.39 L711.01 92.4 L711.32 92.44 L711.64 92.49 L711.95 92.57 L712.27 92.67 L712.58 92.79 L712.9 92.92 L713.22 93.08 L713.53 93.25 L713.85 93.44 L714.16 93.64 L714.48 93.84 L714.79 94.06 L715.11 94.27 L715.42 94.48 L715.74 94.69 L716.05 94.89 L716.37 95.08 L716.69 95.25 L717 95.4 L717.32 95.53 L717.63 95.64 L717.95 95.71 L718.26 95.76 L718.58 95.77 L718.89 95.74 L719.21 95.68 L719.52 95.58 L719.84 95.43 L720.15 95.25 L720.47 95.02 L720.79 94.75 L721.1 94.45 L721.42 94.1 L721.73 93.72 L722.05 93.31 L722.36 92.87 L722.68 92.4 L722.99 91.9 L723.31 91.39 L723.62 90.86 L723.94 90.32 L724.26 89.78 L724.57 89.24 L724.89 88.7 L725.2 88.17 L725.52 87.67 L725.83 87.18 L726.15 86.72 L726.46 86.3 L726.78 85.91 L727.09 85.56 L727.41 85.27 L727.72 85.02 L728.04 84.82 L728.36 84.68 L728.67 84.6 L728.99 84.58 L729.3 84.62 L729.62 84.72 L729.93 84.88 L730.25 85.1 L730.56 85.37 L730.88 85.71 L731.19 86.09 L731.51 86.52 L731.83 87 L732.14 87.51 L732.46 88.06 L732.77 88.63 L733.09 89.22 L733.4 89.83 L733.72 90.44 L734.03 91.05 L734.35 91.66 L734.66 92.24 L734.98 92.81 L735.29 93.34 L735.61 93.84 L735.93 94.29 L736.24 94.69 L736.56 95.04 L736.87 95.32 L737.19 95.54 L737.5 95.69 L737.82 95.76 L738.13 95.76 L738.45 95.68 L738.76 95.52 L739.08 95.28 L739.4 94.96 L739.71 94.57 L740.03 94.1 L740.34 93.56 L740.66 92.96 L740.97 92.29 L741.29 91.57 L741.6 90.8 L741.92 89.99 L742.23 89.15 L742.55 88.28 L742.86 87.4 L743.18 86.5 L743.5 85.61 L743.81 84.73 L744.13 83.87 L744.44 83.04 L744.76 82.24 L745.07 81.49 L745.39 80.8 L745.7 80.17 L746.02 79.6 L746.33 79.11 L746.65 78.7 L746.97 78.38 L747.28 78.15 L747.6 78 L747.91 77.95 L748.23 78 L748.54 78.14 L748.86 78.37 L749.17 78.7 L749.49 79.11 L749.8 79.61 L750.12 80.19 L750.43 80.83 L750.75 81.55 L751.07 82.32 L751.38 83.14 L751.7 84 L752.01 84.9 L752.33 85.81 L752.64 86.74 L752.96 87.67 L753.27 88.59 L753.59 89.49 L753.9 90.37 L754.22 91.2 L754.54 91.99 L754.85 92.73 L755.17 93.4 L755.48 93.99 L755.8 94.51 L756.11 94.95 L756.43 95.29 L756.74 95.55 L757.06 95.71 L757.37 95.77 L757.69 95.73 L758 95.6 L758.32 95.37 L758.64 95.05 L758.95 94.63 L759.27 94.14 L759.58 93.56 L759.9 92.91 L760.21 92.19 L760.53 91.41 L760.84 90.59 L761.16 89.72 L761.47 88.83 L761.79 87.91 L762.11 86.98 L762.42 86.05 L762.74 85.13 L763.05 84.23 L763.37 83.36 L763.68 82.53 L764 81.74 L764.31 81.01 L764.63 80.35 L764.94 79.75 L765.26 79.23 L765.57 78.8 L765.89 78.45 L766.21 78.19 L766.52 78.03 L766.84 77.96 L767.15 77.98 L767.47 78.1 L767.78 78.31 L768.1 78.61 L768.41 79 L768.73 79.47 L769.04 80.01 L769.36 80.63 L769.68 81.31 L769.99 82.04 L770.31 82.83 L770.62 83.65 L770.94 84.51 L771.25 85.38 L771.57 86.27 L771.88 87.17 L772.2 88.05 L772.51 88.93 L772.83 89.78 L773.14 90.6 L773.46 91.38 L773.78 92.11 L774.09 92.79 L774.41 93.41 L774.72 93.97 L775.04 94.45 L775.35 94.87 L775.67 95.2 L775.98 95.46 L776.3 95.64 L776.61 95.75 L776.93 95.77 L777.25 95.71 L777.56 95.59 L777.88 95.39 L778.19 95.12 L778.51 94.79 L778.82 94.4 L779.14 93.96 L779.45 93.48 L779.77 92.95 L780.08 92.39 L780.4 91.81 L780.71 91.21 L781.03 90.6 L781.35 89.99 L781.66 89.38 L781.98 88.78 L782.29 88.2 L782.61 87.65 L782.92 87.13 L783.24 86.64 L783.55 86.2 L783.87 85.8 L784.18 85.46 L784.5 85.16 L784.82 84.93 L785.13 84.75 L785.45 84.64 L785.76 84.58 L786.08 84.59 L786.39 84.65 L786.71 84.78 L787.02 84.96 L787.34 85.2 L787.65 85.48 L787.97 85.82 L788.28 86.19 L788.6 86.61" fill="none" stroke="#e4400e" stroke-width="1.5"/>
<path d="M549.2 93.4 L552.35 93.84 L555.5 94.27 L558.65 94.22 L561.8 94.73 L564.95 94.25 L568.1 93.03 L571.25 91.84 L574.4 92.44 L577.55 93.72 L580.7 94.49 L583.85 92.38 L587 88.53 L590.15 86.45 L593.3 87.68 L596.45 91.13 L599.6 92.89 L602.75 90.37 L605.9 84.58 L609.05 81.55 L612.2 83.87 L615.35 89.91 L618.5 93.19 L621.65 90.94 L624.8 84.02 L627.95 80.1 L631.1 81.9 L634.25 88.4 L637.4 92.4 L640.55 92.35 L643.7 88.81 L646.85 87.58 L650 88 L653.15 91.1 L656.3 93.8 L659.45 94.23 L662.6 92.46 L665.75 92.15 L668.9 92.97 L672.05 93.11 L675.2 93.49 L678.35 93.1 L681.5 93.03 L684.65 92.66 L687.8 92.86 L690.95 92.15 L694.1 92.72 L697.25 93.15 L700.4 93.91 L703.55 92.7 L706.7 91.29 L709.85 90.21 L713 91.18 L716.15 92.62 L719.3 93.81 L722.45 92.2 L725.6 88.55 L728.75 85.96 L731.9 87.94 L735.05 91.55 L738.2 93.31 L741.35 91.3 L744.5 86.99 L747.65 83.96 L750.8 85.93 L753.95 90.46 L757.1 92.95 L760.25 91.04 L763.4 86.79 L766.55 83.91 L769.7 85.79 L772.85 90.87 L776 94.36 L779.15 93.24 L782.3 89.63 L785.45 87.02 L788.6 87.99" fill="none" stroke="#2848f0" stroke-width="1.1"/>
<path d="M547.75 91.95h2.9v2.9h-2.9zM550.9 92.39h2.9v2.9h-2.9zM554.05 92.82h2.9v2.9h-2.9zM557.2 92.77h2.9v2.9h-2.9zM560.35 93.28h2.9v2.9h-2.9zM563.5 92.8h2.9v2.9h-2.9zM566.65 91.58h2.9v2.9h-2.9zM569.8 90.39h2.9v2.9h-2.9zM572.95 90.99h2.9v2.9h-2.9zM576.1 92.27h2.9v2.9h-2.9zM579.25 93.04h2.9v2.9h-2.9zM582.4 90.93h2.9v2.9h-2.9zM585.55 87.08h2.9v2.9h-2.9zM588.7 85h2.9v2.9h-2.9zM591.85 86.23h2.9v2.9h-2.9zM595 89.68h2.9v2.9h-2.9zM598.15 91.44h2.9v2.9h-2.9zM601.3 88.92h2.9v2.9h-2.9zM604.45 83.13h2.9v2.9h-2.9zM607.6 80.1h2.9v2.9h-2.9zM610.75 82.42h2.9v2.9h-2.9zM613.9 88.46h2.9v2.9h-2.9zM617.05 91.74h2.9v2.9h-2.9zM620.2 89.49h2.9v2.9h-2.9zM623.35 82.57h2.9v2.9h-2.9zM626.5 78.65h2.9v2.9h-2.9zM629.65 80.45h2.9v2.9h-2.9zM632.8 86.95h2.9v2.9h-2.9zM635.95 90.95h2.9v2.9h-2.9zM639.1 90.9h2.9v2.9h-2.9zM642.25 87.36h2.9v2.9h-2.9zM645.4 86.13h2.9v2.9h-2.9zM648.55 86.55h2.9v2.9h-2.9zM651.7 89.65h2.9v2.9h-2.9zM654.85 92.35h2.9v2.9h-2.9zM658 92.78h2.9v2.9h-2.9zM661.15 91.01h2.9v2.9h-2.9zM664.3 90.7h2.9v2.9h-2.9zM667.45 91.52h2.9v2.9h-2.9zM670.6 91.66h2.9v2.9h-2.9zM673.75 92.04h2.9v2.9h-2.9zM676.9 91.65h2.9v2.9h-2.9zM680.05 91.58h2.9v2.9h-2.9zM683.2 91.21h2.9v2.9h-2.9zM686.35 91.41h2.9v2.9h-2.9zM689.5 90.7h2.9v2.9h-2.9zM692.65 91.27h2.9v2.9h-2.9zM695.8 91.7h2.9v2.9h-2.9zM698.95 92.46h2.9v2.9h-2.9zM702.1 91.25h2.9v2.9h-2.9zM705.25 89.84h2.9v2.9h-2.9zM708.4 88.76h2.9v2.9h-2.9zM711.55 89.73h2.9v2.9h-2.9zM714.7 91.17h2.9v2.9h-2.9zM717.85 92.36h2.9v2.9h-2.9zM721 90.75h2.9v2.9h-2.9zM724.15 87.1h2.9v2.9h-2.9zM727.3 84.51h2.9v2.9h-2.9zM730.45 86.49h2.9v2.9h-2.9zM733.6 90.1h2.9v2.9h-2.9zM736.75 91.86h2.9v2.9h-2.9zM739.9 89.85h2.9v2.9h-2.9zM743.05 85.54h2.9v2.9h-2.9zM746.2 82.51h2.9v2.9h-2.9zM749.35 84.48h2.9v2.9h-2.9zM752.5 89.01h2.9v2.9h-2.9zM755.65 91.5h2.9v2.9h-2.9zM758.8 89.59h2.9v2.9h-2.9zM761.95 85.34h2.9v2.9h-2.9zM765.1 82.46h2.9v2.9h-2.9zM768.25 84.34h2.9v2.9h-2.9zM771.4 89.42h2.9v2.9h-2.9zM774.55 92.91h2.9v2.9h-2.9zM777.7 91.79h2.9v2.9h-2.9zM780.85 88.18h2.9v2.9h-2.9zM784 85.57h2.9v2.9h-2.9zM787.15 86.54h2.9v2.9h-2.9z" fill="#2040f0"/>
</g>
<line x1="546.0" y1="54.9" x2="789.0" y2="54.9" stroke="#6a6e70" stroke-width="1.5"/>
<line x1="546.0" y1="99.8" x2="789.0" y2="99.8" stroke="#6a6e70" stroke-width="1.5"/>
<line x1="546.0" y1="54.9" x2="546.0" y2="99.8" stroke="#8a9094" stroke-width="1.8"/>
<line x1="789.0" y1="54.9" x2="789.0" y2="99.8" stroke="#8a9094" stroke-width="1.3"/>
<line x1="546.0" y1="58.4" x2="548.0" y2="58.4" stroke="#444" stroke-width="0.8"/>
<line x1="789.0" y1="58.4" x2="787.0" y2="58.4" stroke="#444" stroke-width="0.8"/>
<text x="544" y="61.8" text-anchor="end" font-family='"Liberation Sans", sans-serif' font-size="9.3" fill="#333" stroke="#333" stroke-width="0.15" transform="translate(544 0) scale(1.08 1) translate(-544 0)">1</text>
<line x1="546.0" y1="76.9" x2="548.0" y2="76.9" stroke="#444" stroke-width="0.8"/>
<line x1="789.0" y1="76.9" x2="787.0" y2="76.9" stroke="#444" stroke-width="0.8"/>
<text x="544" y="80.3" text-anchor="end" font-family='"Liberation Sans", sans-serif' font-size="9.3" fill="#333" stroke="#333" stroke-width="0.15" transform="translate(544 0) scale(1.08 1) translate(-544 0)">0.5</text>
<line x1="546.0" y1="95.4" x2="548.0" y2="95.4" stroke="#444" stroke-width="0.8"/>
<line x1="789.0" y1="95.4" x2="787.0" y2="95.4" stroke="#444" stroke-width="0.8"/>
<text x="544" y="98.8" text-anchor="end" font-family='"Liberation Sans", sans-serif' font-size="9.3" fill="#333" stroke="#333" stroke-width="0.15" transform="translate(544 0) scale(1.08 1) translate(-544 0)">0</text>
<line x1="627.95" y1="54.9" x2="627.95" y2="56.9" stroke="#444" stroke-width="0.8"/>
<line x1="627.95" y1="99.8" x2="627.95" y2="97.8" stroke="#444" stroke-width="0.8"/>
<line x1="706.7" y1="54.9" x2="706.7" y2="56.9" stroke="#444" stroke-width="0.8"/>
<line x1="706.7" y1="99.8" x2="706.7" y2="97.8" stroke="#444" stroke-width="0.8"/>
<line x1="756.5" y1="58.5" x2="756.5" y2="70.8" stroke="#8a9098" stroke-width="1.1"/>
<text x="758.2" y="67.5" textLength="6.6" lengthAdjust="spacingAndGlyphs" font-family='"Liberation Serif", serif' font-size="12.5" font-style="italic" fill="#222" stroke="#222" stroke-width="0.4">n</text>
<text x="767.2" y="69.7" font-family='"Liberation Serif", serif' font-size="8" fill="#222" stroke="#222" stroke-width="0.25">5</text>
<path d="M773 58.2 Q774.2 61 776 64.7 Q774.2 68.5 773 71.3" fill="none" stroke="#333" stroke-width="0.75"/>
<rect x="785.8" y="56.1" width="2.6" height="2.6" fill="none" stroke="#555" stroke-width="0.6"/>
<rect x="785.8" y="96" width="2.6" height="2.6" fill="none" stroke="#555" stroke-width="0.6"/>
<defs><clipPath id="ce2"><rect x="546.0" y="105.3" width="243.0" height="44.9"/></clipPath></defs>
<g clip-path="url(#ce2)">
<path d="M549.2 109.17 L549.52 109.27 L549.83 109.56 L550.15 110.05 L550.46 110.72 L550.78 111.57 L551.09 112.59 L551.41 113.77 L551.72 115.1 L552.04 116.56 L552.35 118.13 L552.67 119.81 L552.98 121.56 L553.3 123.38 L553.62 125.25 L553.93 127.13 L554.25 129.02 L554.56 130.9 L554.88 132.74 L555.19 134.52 L555.51 136.23 L555.82 137.85 L556.14 139.36 L556.45 140.75 L556.77 142 L557.09 143.11 L557.4 144.06 L557.72 144.83 L558.03 145.44 L558.35 145.86 L558.66 146.11 L558.98 146.17 L559.29 146.05 L559.61 145.75 L559.92 145.28 L560.24 144.64 L560.55 143.85 L560.87 142.91 L561.19 141.83 L561.5 140.64 L561.82 139.34 L562.13 137.94 L562.45 136.48 L562.76 134.96 L563.08 133.39 L563.39 131.81 L563.71 130.23 L564.02 128.65 L564.34 127.11 L564.66 125.63 L564.97 124.2 L565.29 122.86 L565.6 121.61 L565.92 120.47 L566.23 119.46 L566.55 118.57 L566.86 117.82 L567.18 117.23 L567.49 116.78 L567.81 116.49 L568.12 116.36 L568.44 116.39 L568.76 116.58 L569.07 116.92 L569.39 117.41 L569.7 118.04 L570.02 118.81 L570.33 119.71 L570.65 120.73 L570.96 121.84 L571.28 123.06 L571.59 124.35 L571.91 125.7 L572.23 127.11 L572.54 128.55 L572.86 130.02 L573.17 131.49 L573.49 132.95 L573.8 134.4 L574.12 135.8 L574.43 137.16 L574.75 138.45 L575.06 139.67 L575.38 140.81 L575.69 141.85 L576.01 142.79 L576.33 143.63 L576.64 144.35 L576.96 144.95 L577.27 145.44 L577.59 145.8 L577.9 146.04 L578.22 146.16 L578.53 146.16 L578.85 146.04 L579.16 145.82 L579.48 145.49 L579.8 145.07 L580.11 144.57 L580.43 143.98 L580.74 143.32 L581.06 142.61 L581.37 141.85 L581.69 141.05 L582 140.22 L582.32 139.38 L582.63 138.54 L582.95 137.7 L583.26 136.88 L583.58 136.09 L583.9 135.34 L584.21 134.63 L584.53 133.97 L584.84 133.37 L585.16 132.85 L585.47 132.39 L585.79 132.01 L586.1 131.72 L586.42 131.5 L586.73 131.37 L587.05 131.32 L587.37 131.36 L587.68 131.48 L588 131.68 L588.31 131.95 L588.63 132.3 L588.94 132.72 L589.26 133.19 L589.57 133.72 L589.89 134.3 L590.2 134.92 L590.52 135.58 L590.83 136.26 L591.15 136.96 L591.47 137.67 L591.78 138.39 L592.1 139.1 L592.41 139.8 L592.73 140.49 L593.04 141.15 L593.36 141.79 L593.67 142.39 L593.99 142.96 L594.3 143.48 L594.62 143.96 L594.94 144.4 L595.25 144.78 L595.57 145.12 L595.88 145.41 L596.2 145.65 L596.51 145.84 L596.83 145.98 L597.14 146.08 L597.46 146.15 L597.77 146.17 L598.09 146.16 L598.4 146.12 L598.72 146.05 L599.04 145.96 L599.35 145.85 L599.67 145.73 L599.98 145.6 L600.3 145.46 L600.61 145.32 L600.93 145.19 L601.24 145.05 L601.56 144.93 L601.87 144.81 L602.19 144.71 L602.51 144.62 L602.82 144.55 L603.14 144.49 L603.45 144.45 L603.77 144.43 L604.08 144.42 L604.4 144.43 L604.71 144.45 L605.03 144.49 L605.34 144.54 L605.66 144.61 L605.97 144.68 L606.29 144.76 L606.61 144.84 L606.92 144.93 L607.24 145.02 L607.55 145.12 L607.87 145.21 L608.18 145.3 L608.5 145.39 L608.81 145.48 L609.13 145.56 L609.44 145.64 L609.76 145.71 L610.08 145.78 L610.39 145.83 L610.71 145.89 L611.02 145.94 L611.34 145.98 L611.65 146.01 L611.97 146.04 L612.28 146.07 L612.6 146.09 L612.91 146.11 L613.23 146.12 L613.54 146.14 L613.86 146.15 L614.18 146.15 L614.49 146.16 L614.81 146.16 L615.12 146.16 L615.44 146.17 L615.75 146.17 L616.07 146.17 L616.38 146.17 L616.7 146.17 L617.01 146.17 L617.33 146.17 L617.65 146.17 L617.96 146.17 L618.28 146.17 L618.59 146.17 L618.91 146.17 L619.22 146.17 L619.54 146.17 L619.85 146.17 L620.17 146.17 L620.48 146.17 L620.8 146.17 L621.11 146.17 L621.43 146.17 L621.75 146.17 L622.06 146.16 L622.38 146.16 L622.69 146.15 L623.01 146.15 L623.32 146.14 L623.64 146.13 L623.95 146.12 L624.27 146.1 L624.58 146.08 L624.9 146.06 L625.22 146.03 L625.53 145.99 L625.85 145.95 L626.16 145.91 L626.48 145.86 L626.79 145.8 L627.11 145.74 L627.42 145.67 L627.74 145.6 L628.05 145.52 L628.37 145.43 L628.68 145.34 L629 145.25 L629.32 145.16 L629.63 145.06 L629.95 144.97 L630.26 144.88 L630.58 144.79 L630.89 144.71 L631.21 144.63 L631.52 144.57 L631.84 144.51 L632.15 144.47 L632.47 144.44 L632.78 144.42 L633.1 144.42 L633.42 144.44 L633.73 144.47 L634.05 144.52 L634.36 144.59 L634.68 144.67 L634.99 144.77 L635.31 144.88 L635.62 145 L635.94 145.13 L636.25 145.27 L636.57 145.4 L636.89 145.54 L637.2 145.68 L637.52 145.8 L637.83 145.92 L638.15 146.02 L638.46 146.09 L638.78 146.15 L639.09 146.17 L639.41 146.16 L639.72 146.12 L640.04 146.03 L640.35 145.9 L640.67 145.73 L640.99 145.51 L641.3 145.25 L641.62 144.93 L641.93 144.57 L642.25 144.15 L642.56 143.69 L642.88 143.19 L643.19 142.64 L643.51 142.05 L643.82 141.43 L644.14 140.77 L644.46 140.1 L644.77 139.4 L645.09 138.69 L645.4 137.97 L645.72 137.26 L646.03 136.55 L646.35 135.86 L646.66 135.19 L646.98 134.56 L647.29 133.96 L647.61 133.41 L647.92 132.91 L648.24 132.47 L648.56 132.09 L648.87 131.79 L649.19 131.55 L649.5 131.4 L649.82 131.33 L650.13 131.34 L650.45 131.43 L650.76 131.61 L651.08 131.88 L651.39 132.22 L651.71 132.65 L652.03 133.14 L652.34 133.71 L652.66 134.34 L652.97 135.03 L653.29 135.77 L653.6 136.55 L653.92 137.36 L654.23 138.19 L654.55 139.03 L654.86 139.87 L655.18 140.7 L655.49 141.52 L655.81 142.29 L656.13 143.03 L656.44 143.71 L656.76 144.33 L657.07 144.87 L657.39 145.33 L657.7 145.7 L658.02 145.96 L658.33 146.12 L658.65 146.17 L658.96 146.1 L659.28 145.91 L659.6 145.6 L659.91 145.17 L660.23 144.62 L660.54 143.95 L660.86 143.16 L661.17 142.26 L661.49 141.26 L661.8 140.16 L662.12 138.97 L662.43 137.71 L662.75 136.38 L663.06 134.99 L663.38 133.56 L663.7 132.11 L664.01 130.64 L664.33 129.17 L664.64 127.71 L664.96 126.29 L665.27 124.91 L665.59 123.59 L665.9 122.34 L666.22 121.18 L666.53 120.13 L666.85 119.18 L667.17 118.35 L667.48 117.66 L667.8 117.11 L668.11 116.7 L668.43 116.45 L668.74 116.35 L669.06 116.42 L669.37 116.64 L669.69 117.02 L670 117.55 L670.32 118.24 L670.63 119.07 L670.95 120.03 L671.27 121.12 L671.58 122.32 L671.9 123.63 L672.21 125.02 L672.53 126.48 L672.84 128 L673.16 129.56 L673.47 131.14 L673.79 132.73 L674.1 134.3 L674.42 135.84 L674.74 137.34 L675.05 138.76 L675.37 140.1 L675.68 141.34 L676 142.47 L676.31 143.47 L676.63 144.33 L676.94 145.03 L677.26 145.57 L677.57 145.94 L677.89 146.14 L678.2 146.15 L678.52 145.99 L678.84 145.64 L679.15 145.11 L679.47 144.4 L679.78 143.53 L680.1 142.49 L680.41 141.3 L680.73 139.96 L681.04 138.5 L681.36 136.92 L681.67 135.25 L681.99 133.5 L682.31 131.68 L682.62 129.82 L682.94 127.93 L683.25 126.04 L683.57 124.16 L683.88 122.32 L684.2 120.54 L684.51 118.83 L684.83 117.21 L685.14 115.7 L685.46 114.31 L685.77 113.07 L686.09 111.98 L686.41 111.06 L686.72 110.31 L687.04 109.74 L687.35 109.37 L687.67 109.19 L687.98 109.2 L688.3 109.41 L688.61 109.82 L688.93 110.41 L689.24 111.19 L689.56 112.14 L689.88 113.26 L690.19 114.52 L690.51 115.93 L690.82 117.46 L691.14 119.09 L691.45 120.82 L691.77 122.61 L692.08 124.46 L692.4 126.34 L692.71 128.23 L693.03 130.11 L693.34 131.97 L693.66 133.78 L693.98 135.52 L694.29 137.18 L694.61 138.74 L694.92 140.18 L695.24 141.49 L695.55 142.66 L695.87 143.68 L696.18 144.53 L696.5 145.21 L696.81 145.71 L697.13 146.03 L697.45 146.16 L697.76 146.12 L698.08 145.9 L698.39 145.5 L698.71 144.93 L699.02 144.2 L699.34 143.32 L699.65 142.3 L699.97 141.16 L700.28 139.9 L700.6 138.54 L700.91 137.1 L701.23 135.6 L701.55 134.06 L701.86 132.48 L702.18 130.89 L702.49 129.31 L702.81 127.76 L703.12 126.25 L703.44 124.79 L703.75 123.41 L704.07 122.12 L704.38 120.94 L704.7 119.87 L705.02 118.93 L705.33 118.12 L705.65 117.46 L705.96 116.95 L706.28 116.59 L706.59 116.4 L706.91 116.36 L707.22 116.48 L707.54 116.75 L707.85 117.18 L708.17 117.76 L708.48 118.47 L708.8 119.32 L709.12 120.29 L709.43 121.36 L709.75 122.54 L710.06 123.79 L710.38 125.13 L710.69 126.51 L711.01 127.94 L711.32 129.4 L711.64 130.87 L711.95 132.34 L712.27 133.79 L712.58 135.21 L712.9 136.59 L713.22 137.91 L713.53 139.17 L713.85 140.34 L714.16 141.42 L714.48 142.41 L714.79 143.29 L715.11 144.06 L715.42 144.71 L715.74 145.25 L716.05 145.66 L716.37 145.95 L716.69 146.12 L717 146.17 L717.32 146.1 L717.63 145.93 L717.95 145.64 L718.26 145.26 L718.58 144.79 L718.89 144.24 L719.21 143.61 L719.52 142.92 L719.84 142.17 L720.15 141.39 L720.47 140.57 L720.79 139.74 L721.1 138.9 L721.42 138.05 L721.73 137.23 L722.05 136.42 L722.36 135.65 L722.68 134.92 L722.99 134.24 L723.31 133.62 L723.62 133.06 L723.94 132.57 L724.26 132.16 L724.57 131.83 L724.89 131.58 L725.2 131.41 L725.52 131.33 L725.83 131.33 L726.15 131.42 L726.46 131.59 L726.78 131.83 L727.09 132.15 L727.41 132.53 L727.72 132.98 L728.04 133.49 L728.36 134.05 L728.67 134.66 L728.99 135.3 L729.3 135.97 L729.62 136.66 L729.93 137.37 L730.25 138.09 L730.56 138.8 L730.88 139.51 L731.19 140.2 L731.51 140.88 L731.83 141.53 L732.14 142.14 L732.46 142.73 L732.77 143.27 L733.09 143.77 L733.4 144.22 L733.72 144.63 L734.03 144.98 L734.35 145.29 L734.66 145.55 L734.98 145.76 L735.29 145.93 L735.61 146.05 L735.93 146.12 L736.24 146.16 L736.56 146.17 L736.87 146.14 L737.19 146.08 L737.5 146 L737.82 145.9 L738.13 145.78 L738.45 145.66 L738.76 145.52 L739.08 145.38 L739.4 145.24 L739.71 145.11 L740.03 144.98 L740.34 144.86 L740.66 144.75 L740.97 144.66 L741.29 144.58 L741.6 144.52 L741.92 144.47 L742.23 144.44 L742.55 144.42 L742.86 144.43 L743.18 144.44 L743.5 144.48 L743.81 144.52 L744.13 144.58 L744.44 144.65 L744.76 144.72 L745.07 144.8 L745.39 144.89 L745.7 144.98 L746.02 145.08 L746.33 145.17 L746.65 145.27 L746.97 145.36 L747.28 145.44 L747.6 145.53 L747.91 145.61 L748.23 145.68 L748.54 145.75 L748.86 145.81 L749.17 145.87 L749.49 145.92 L749.8 145.96 L750.12 146 L750.43 146.03 L750.75 146.06 L751.07 146.08 L751.38 146.1 L751.7 146.12 L752.01 146.13 L752.33 146.14 L752.64 146.15 L752.96 146.16 L753.27 146.16 L753.59 146.16 L753.9 146.17 L754.22 146.17 L754.54 146.17 L754.85 146.17 L755.17 146.17 L755.48 146.17 L755.8 146.17 L756.11 146.17 L756.43 146.17 L756.74 146.17 L757.06 146.17 L757.37 146.17 L757.69 146.17 L758 146.17 L758.32 146.17 L758.64 146.17 L758.95 146.17 L759.27 146.17 L759.58 146.17 L759.9 146.17 L760.21 146.17 L760.53 146.16 L760.84 146.16 L761.16 146.16 L761.47 146.15 L761.79 146.14 L762.11 146.13 L762.42 146.12 L762.74 146.11 L763.05 146.09 L763.37 146.07 L763.68 146.04 L764 146.01 L764.31 145.97 L764.63 145.93 L764.94 145.88 L765.26 145.83 L765.57 145.77 L765.89 145.7 L766.21 145.63 L766.52 145.55 L766.84 145.47 L767.15 145.38 L767.47 145.29 L767.78 145.2 L768.1 145.1 L768.41 145.01 L768.73 144.92 L769.04 144.83 L769.36 144.74 L769.68 144.66 L769.99 144.59 L770.31 144.53 L770.62 144.49 L770.94 144.45 L771.25 144.43 L771.57 144.42 L771.88 144.43 L772.2 144.46 L772.51 144.5 L772.83 144.56 L773.14 144.64 L773.46 144.73 L773.78 144.83 L774.09 144.95 L774.41 145.07 L774.72 145.21 L775.04 145.35 L775.35 145.49 L775.67 145.62 L775.98 145.75 L776.3 145.87 L776.61 145.98 L776.93 146.06 L777.25 146.13 L777.56 146.16 L777.88 146.17 L778.19 146.14 L778.51 146.07 L778.82 145.96 L779.14 145.81 L779.45 145.61 L779.77 145.36 L780.08 145.07 L780.4 144.73 L780.71 144.33 L781.03 143.89 L781.35 143.4 L781.66 142.87 L781.98 142.3 L782.29 141.69 L782.61 141.05 L782.92 140.38 L783.24 139.69 L783.55 138.99 L783.87 138.27 L784.18 137.56 L784.5 136.85 L784.82 136.15 L785.13 135.47 L785.45 134.82 L785.76 134.21 L786.08 133.64 L786.39 133.11 L786.71 132.65 L787.02 132.24 L787.34 131.91 L787.65 131.64 L787.97 131.46 L788.28 131.35 L788.6 131.32" fill="none" stroke="#e4400e" stroke-width="1.5"/>
<path d="M549.2 113.3 L552.35 120.1 L555.5 134.82 L558.65 142.87 L561.8 137.89 L564.95 125.05 L568.1 118.8 L571.25 123.92 L574.4 134.73 L577.55 142.1 L580.7 140.71 L583.85 134.54 L587 131.53 L590.15 134.18 L593.3 139.39 L596.45 142.19 L599.6 142.48 L602.75 141.39 L605.9 142 L609.05 142.92 L612.2 144.31 L615.35 144.31 L618.5 144.26 L621.65 143.73 L624.8 143.29 L627.95 141.23 L631.1 140.54 L634.25 141.7 L637.4 144.27 L640.55 144.49 L643.7 141.29 L646.85 135.85 L650 133.54 L653.15 136.37 L656.3 140.91 L659.45 142.34 L662.6 137.18 L665.75 128.96 L668.9 125.96 L672.05 131.02 L675.2 140.37 L678.35 144.02 L681.5 138.36 L684.65 127.46 L687.8 122.73 L690.95 127.43 L694.1 137.6 L697.25 143.35 L700.4 139.95 L703.55 131.17 L706.7 126.16 L709.85 129.98 L713 138.42 L716.15 143.83 L719.3 143.01 L722.45 137.64 L725.6 134.71 L728.75 136.11 L731.9 140.62 L735.05 144.03 L738.2 143.88 L741.35 141.68 L744.5 141.44 L747.65 142.62 L750.8 143.68 L753.95 145.06 L757.1 145.29 L760.25 144.84 L763.4 143.99 L766.55 142.49 L769.7 140.8 L772.85 141.56 L776 143.92 L779.15 144.22 L782.3 140.27 L785.45 135.54 L788.6 133.27" fill="none" stroke="#2848f0" stroke-width="1.1"/>
<path d="M547.75 111.85h2.9v2.9h-2.9zM550.9 118.65h2.9v2.9h-2.9zM554.05 133.37h2.9v2.9h-2.9zM557.2 141.42h2.9v2.9h-2.9zM560.35 136.44h2.9v2.9h-2.9zM563.5 123.6h2.9v2.9h-2.9zM566.65 117.35h2.9v2.9h-2.9zM569.8 122.47h2.9v2.9h-2.9zM572.95 133.28h2.9v2.9h-2.9zM576.1 140.65h2.9v2.9h-2.9zM579.25 139.26h2.9v2.9h-2.9zM582.4 133.09h2.9v2.9h-2.9zM585.55 130.08h2.9v2.9h-2.9zM588.7 132.73h2.9v2.9h-2.9zM591.85 137.94h2.9v2.9h-2.9zM595 140.74h2.9v2.9h-2.9zM598.15 141.03h2.9v2.9h-2.9zM601.3 139.94h2.9v2.9h-2.9zM604.45 140.55h2.9v2.9h-2.9zM607.6 141.47h2.9v2.9h-2.9zM610.75 142.86h2.9v2.9h-2.9zM613.9 142.86h2.9v2.9h-2.9zM617.05 142.81h2.9v2.9h-2.9zM620.2 142.28h2.9v2.9h-2.9zM623.35 141.84h2.9v2.9h-2.9zM626.5 139.78h2.9v2.9h-2.9zM629.65 139.09h2.9v2.9h-2.9zM632.8 140.25h2.9v2.9h-2.9zM635.95 142.82h2.9v2.9h-2.9zM639.1 143.04h2.9v2.9h-2.9zM642.25 139.84h2.9v2.9h-2.9zM645.4 134.4h2.9v2.9h-2.9zM648.55 132.09h2.9v2.9h-2.9zM651.7 134.92h2.9v2.9h-2.9zM654.85 139.46h2.9v2.9h-2.9zM658 140.89h2.9v2.9h-2.9zM661.15 135.73h2.9v2.9h-2.9zM664.3 127.51h2.9v2.9h-2.9zM667.45 124.51h2.9v2.9h-2.9zM670.6 129.57h2.9v2.9h-2.9zM673.75 138.92h2.9v2.9h-2.9zM676.9 142.57h2.9v2.9h-2.9zM680.05 136.91h2.9v2.9h-2.9zM683.2 126.01h2.9v2.9h-2.9zM686.35 121.28h2.9v2.9h-2.9zM689.5 125.98h2.9v2.9h-2.9zM692.65 136.15h2.9v2.9h-2.9zM695.8 141.9h2.9v2.9h-2.9zM698.95 138.5h2.9v2.9h-2.9zM702.1 129.72h2.9v2.9h-2.9zM705.25 124.71h2.9v2.9h-2.9zM708.4 128.53h2.9v2.9h-2.9zM711.55 136.97h2.9v2.9h-2.9zM714.7 142.38h2.9v2.9h-2.9zM717.85 141.56h2.9v2.9h-2.9zM721 136.19h2.9v2.9h-2.9zM724.15 133.26h2.9v2.9h-2.9zM727.3 134.66h2.9v2.9h-2.9zM730.45 139.17h2.9v2.9h-2.9zM733.6 142.58h2.9v2.9h-2.9zM736.75 142.43h2.9v2.9h-2.9zM739.9 140.23h2.9v2.9h-2.9zM743.05 139.99h2.9v2.9h-2.9zM746.2 141.17h2.9v2.9h-2.9zM749.35 142.23h2.9v2.9h-2.9zM752.5 143.61h2.9v2.9h-2.9zM755.65 143.84h2.9v2.9h-2.9zM758.8 143.39h2.9v2.9h-2.9zM761.95 142.54h2.9v2.9h-2.9zM765.1 141.04h2.9v2.9h-2.9zM768.25 139.35h2.9v2.9h-2.9zM771.4 140.11h2.9v2.9h-2.9zM774.55 142.47h2.9v2.9h-2.9zM777.7 142.77h2.9v2.9h-2.9zM780.85 138.82h2.9v2.9h-2.9zM784 134.09h2.9v2.9h-2.9zM787.15 131.82h2.9v2.9h-2.9z" fill="#2040f0"/>
</g>
<line x1="546.0" y1="105.3" x2="789.0" y2="105.3" stroke="#151515" stroke-width="1.2"/>
<line x1="546.0" y1="150.2" x2="789.0" y2="150.2" stroke="#151515" stroke-width="1.2"/>
<line x1="546.0" y1="105.3" x2="546.0" y2="150.2" stroke="#8a9094" stroke-width="1.8"/>
<line x1="789.0" y1="105.3" x2="789.0" y2="150.2" stroke="#8a9094" stroke-width="1.3"/>
<line x1="546.0" y1="108.8" x2="548.0" y2="108.8" stroke="#444" stroke-width="0.8"/>
<line x1="789.0" y1="108.8" x2="787.0" y2="108.8" stroke="#444" stroke-width="0.8"/>
<text x="544" y="112.2" text-anchor="end" font-family='"Liberation Sans", sans-serif' font-size="9.3" fill="#333" stroke="#333" stroke-width="0.15" transform="translate(544 0) scale(1.08 1) translate(-544 0)">1</text>
<line x1="546.0" y1="127.3" x2="548.0" y2="127.3" stroke="#444" stroke-width="0.8"/>
<line x1="789.0" y1="127.3" x2="787.0" y2="127.3" stroke="#444" stroke-width="0.8"/>
<text x="544" y="130.7" text-anchor="end" font-family='"Liberation Sans", sans-serif' font-size="9.3" fill="#333" stroke="#333" stroke-width="0.15" transform="translate(544 0) scale(1.08 1) translate(-544 0)">0.5</text>
<line x1="546.0" y1="145.8" x2="548.0" y2="145.8" stroke="#444" stroke-width="0.8"/>
<line x1="789.0" y1="145.8" x2="787.0" y2="145.8" stroke="#444" stroke-width="0.8"/>
<text x="544" y="149.2" text-anchor="end" font-family='"Liberation Sans", sans-serif' font-size="9.3" fill="#333" stroke="#333" stroke-width="0.15" transform="translate(544 0) scale(1.08 1) translate(-544 0)">0</text>
<line x1="627.95" y1="105.3" x2="627.95" y2="107.3" stroke="#444" stroke-width="0.8"/>
<line x1="627.95" y1="150.2" x2="627.95" y2="148.2" stroke="#444" stroke-width="0.8"/>
<line x1="706.7" y1="105.3" x2="706.7" y2="107.3" stroke="#444" stroke-width="0.8"/>
<line x1="706.7" y1="150.2" x2="706.7" y2="148.2" stroke="#444" stroke-width="0.8"/>
<line x1="756.5" y1="108.9" x2="756.5" y2="121.2" stroke="#8a9098" stroke-width="1.1"/>
<text x="758.2" y="117.9" textLength="6.6" lengthAdjust="spacingAndGlyphs" font-family='"Liberation Serif", serif' font-size="12.5" font-style="italic" fill="#222" stroke="#222" stroke-width="0.4">n</text>
<text x="767.2" y="120.1" font-family='"Liberation Serif", serif' font-size="8" fill="#222" stroke="#222" stroke-width="0.25">4</text>
<path d="M773 108.6 Q774.2 111.4 776 115.1 Q774.2 118.9 773 121.7" fill="none" stroke="#333" stroke-width="0.75"/>
<rect x="785.8" y="106.5" width="2.6" height="2.6" fill="none" stroke="#555" stroke-width="0.6"/>
<rect x="785.8" y="146.4" width="2.6" height="2.6" fill="none" stroke="#555" stroke-width="0.6"/>
<defs><clipPath id="ce3"><rect x="546.0" y="156.1" width="243.0" height="44.9"/></clipPath></defs>
<g clip-path="url(#ce3)">
<path d="M549.2 196.97 L549.52 196.87 L549.83 196.59 L550.15 196.11 L550.46 195.46 L550.78 194.62 L551.09 193.63 L551.41 192.47 L551.72 191.18 L552.04 189.76 L552.35 188.22 L552.67 186.59 L552.98 184.88 L553.3 183.11 L553.62 181.31 L553.93 179.48 L554.25 177.65 L554.56 175.85 L554.88 174.08 L555.19 172.37 L555.51 170.74 L555.82 169.2 L556.14 167.78 L556.45 166.48 L556.77 165.32 L557.09 164.31 L557.4 163.47 L557.72 162.79 L558.03 162.3 L558.35 161.98 L558.66 161.86 L558.98 161.92 L559.29 162.16 L559.61 162.59 L559.92 163.19 L560.24 163.96 L560.55 164.89 L560.87 165.98 L561.19 167.2 L561.5 168.55 L561.82 170 L562.13 171.55 L562.45 173.18 L562.76 174.87 L563.08 176.6 L563.39 178.36 L563.71 180.12 L564.02 181.87 L564.34 183.6 L564.66 185.27 L564.97 186.88 L565.29 188.42 L565.6 189.86 L565.92 191.2 L566.23 192.42 L566.55 193.5 L566.86 194.45 L567.18 195.26 L567.49 195.91 L567.81 196.41 L568.12 196.75 L568.44 196.94 L568.76 196.96 L569.07 196.83 L569.39 196.56 L569.7 196.14 L570.02 195.58 L570.33 194.9 L570.65 194.1 L570.96 193.2 L571.28 192.21 L571.59 191.13 L571.91 190 L572.23 188.81 L572.54 187.58 L572.86 186.34 L573.17 185.09 L573.49 183.84 L573.8 182.62 L574.12 181.44 L574.43 180.31 L574.75 179.24 L575.06 178.24 L575.38 177.33 L575.69 176.52 L576.01 175.8 L576.33 175.2 L576.64 174.71 L576.96 174.35 L577.27 174.1 L577.59 173.98 L577.9 173.99 L578.22 174.11 L578.53 174.36 L578.85 174.73 L579.16 175.2 L579.48 175.78 L579.8 176.46 L580.11 177.23 L580.43 178.08 L580.74 179 L581.06 179.99 L581.37 181.02 L581.69 182.09 L582 183.19 L582.32 184.3 L582.63 185.42 L582.95 186.54 L583.26 187.64 L583.58 188.71 L583.9 189.74 L584.21 190.73 L584.53 191.67 L584.84 192.54 L585.16 193.35 L585.47 194.08 L585.79 194.74 L586.1 195.31 L586.42 195.8 L586.73 196.2 L587.05 196.52 L587.37 196.75 L587.68 196.9 L588 196.97 L588.31 196.95 L588.63 196.87 L588.94 196.71 L589.26 196.49 L589.57 196.22 L589.89 195.89 L590.2 195.52 L590.52 195.12 L590.83 194.69 L591.15 194.23 L591.47 193.77 L591.78 193.3 L592.1 192.83 L592.41 192.37 L592.73 191.93 L593.04 191.51 L593.36 191.12 L593.67 190.76 L593.99 190.44 L594.3 190.16 L594.62 189.92 L594.94 189.73 L595.25 189.59 L595.57 189.5 L595.88 189.46 L596.2 189.47 L596.51 189.52 L596.83 189.62 L597.14 189.77 L597.46 189.95 L597.77 190.18 L598.09 190.43 L598.4 190.72 L598.72 191.03 L599.04 191.36 L599.35 191.7 L599.67 192.06 L599.98 192.43 L600.3 192.79 L600.61 193.16 L600.93 193.52 L601.24 193.87 L601.56 194.21 L601.87 194.54 L602.19 194.84 L602.51 195.13 L602.82 195.4 L603.14 195.64 L603.45 195.87 L603.77 196.07 L604.08 196.24 L604.4 196.4 L604.71 196.53 L605.03 196.64 L605.34 196.73 L605.66 196.8 L605.97 196.86 L606.29 196.91 L606.61 196.94 L606.92 196.96 L607.24 196.97 L607.55 196.97 L607.87 196.97 L608.18 196.96 L608.5 196.95 L608.81 196.94 L609.13 196.93 L609.44 196.91 L609.76 196.9 L610.08 196.89 L610.39 196.88 L610.71 196.88 L611.02 196.87 L611.34 196.87 L611.65 196.87 L611.97 196.87 L612.28 196.87 L612.6 196.88 L612.91 196.88 L613.23 196.89 L613.54 196.89 L613.86 196.9 L614.18 196.91 L614.49 196.91 L614.81 196.92 L615.12 196.93 L615.44 196.93 L615.75 196.94 L616.07 196.94 L616.38 196.95 L616.7 196.95 L617.01 196.95 L617.33 196.96 L617.65 196.96 L617.96 196.96 L618.28 196.96 L618.59 196.96 L618.91 196.96 L619.22 196.96 L619.54 196.96 L619.85 196.96 L620.17 196.95 L620.48 196.95 L620.8 196.95 L621.11 196.94 L621.43 196.94 L621.75 196.93 L622.06 196.92 L622.38 196.92 L622.69 196.91 L623.01 196.9 L623.32 196.9 L623.64 196.89 L623.95 196.88 L624.27 196.88 L624.58 196.87 L624.9 196.87 L625.22 196.87 L625.53 196.87 L625.85 196.87 L626.16 196.87 L626.48 196.88 L626.79 196.89 L627.11 196.9 L627.42 196.91 L627.74 196.92 L628.05 196.93 L628.37 196.95 L628.68 196.96 L629 196.96 L629.32 196.97 L629.63 196.97 L629.95 196.96 L630.26 196.95 L630.58 196.92 L630.89 196.88 L631.21 196.83 L631.52 196.76 L631.84 196.68 L632.15 196.58 L632.47 196.45 L632.78 196.31 L633.1 196.14 L633.42 195.95 L633.73 195.74 L634.05 195.51 L634.36 195.25 L634.68 194.97 L634.99 194.67 L635.31 194.35 L635.62 194.02 L635.94 193.67 L636.25 193.31 L636.57 192.95 L636.89 192.58 L637.2 192.21 L637.52 191.85 L637.83 191.5 L638.15 191.16 L638.46 190.84 L638.78 190.55 L639.09 190.28 L639.41 190.04 L639.72 189.84 L640.04 189.68 L640.35 189.56 L640.67 189.48 L640.99 189.46 L641.3 189.48 L641.62 189.55 L641.93 189.67 L642.25 189.84 L642.56 190.05 L642.88 190.31 L643.19 190.62 L643.51 190.96 L643.82 191.34 L644.14 191.75 L644.46 192.18 L644.77 192.64 L645.09 193.1 L645.4 193.57 L645.72 194.04 L646.03 194.5 L646.35 194.94 L646.66 195.36 L646.98 195.74 L647.29 196.09 L647.61 196.38 L647.92 196.63 L648.24 196.81 L648.56 196.93 L648.87 196.97 L649.19 196.94 L649.5 196.82 L649.82 196.63 L650.13 196.35 L650.45 195.98 L650.76 195.53 L651.08 194.99 L651.39 194.37 L651.71 193.67 L652.03 192.89 L652.34 192.04 L652.66 191.13 L652.97 190.17 L653.29 189.15 L653.6 188.09 L653.92 187 L654.23 185.89 L654.55 184.78 L654.86 183.66 L655.18 182.55 L655.49 181.46 L655.81 180.41 L656.13 179.41 L656.44 178.46 L656.76 177.58 L657.07 176.78 L657.39 176.06 L657.7 175.43 L658.02 174.91 L658.33 174.5 L658.65 174.2 L658.96 174.03 L659.28 173.97 L659.6 174.04 L659.91 174.23 L660.23 174.54 L660.54 174.98 L660.86 175.54 L661.17 176.2 L661.49 176.98 L661.8 177.85 L662.12 178.81 L662.43 179.85 L662.75 180.96 L663.06 182.12 L663.38 183.33 L663.7 184.56 L664.01 185.81 L664.33 187.06 L664.64 188.3 L664.96 189.5 L665.27 190.66 L665.59 191.76 L665.9 192.79 L666.22 193.74 L666.53 194.58 L666.85 195.31 L667.17 195.92 L667.48 196.4 L667.8 196.74 L668.11 196.93 L668.43 196.97 L668.74 196.85 L669.06 196.57 L669.37 196.14 L669.69 195.55 L670 194.81 L670.32 193.92 L670.63 192.89 L670.95 191.73 L671.27 190.44 L671.58 189.04 L671.9 187.54 L672.21 185.96 L672.53 184.31 L672.84 182.6 L673.16 180.86 L673.47 179.1 L673.79 177.34 L674.1 175.6 L674.42 173.89 L674.74 172.23 L675.05 170.64 L675.37 169.15 L675.68 167.75 L676 166.48 L676.31 165.33 L676.63 164.34 L676.94 163.49 L677.26 162.82 L677.57 162.32 L677.89 162 L678.2 161.86 L678.52 161.91 L678.84 162.14 L679.15 162.56 L679.47 163.16 L679.78 163.93 L680.1 164.87 L680.41 165.97 L680.73 167.21 L681.04 168.59 L681.36 170.08 L681.67 171.67 L681.99 173.35 L682.31 175.09 L682.62 176.89 L682.94 178.71 L683.25 180.54 L683.57 182.36 L683.88 184.14 L684.2 185.88 L684.51 187.54 L684.83 189.12 L685.14 190.59 L685.46 191.94 L685.77 193.16 L686.09 194.22 L686.41 195.13 L686.72 195.86 L687.04 196.41 L687.35 196.78 L687.67 196.95 L687.98 196.94 L688.3 196.73 L688.61 196.34 L688.93 195.75 L689.24 195 L689.56 194.07 L689.88 192.98 L690.19 191.74 L690.51 190.37 L690.82 188.88 L691.14 187.29 L691.45 185.61 L691.77 183.86 L692.08 182.07 L692.4 180.25 L692.71 178.42 L693.03 176.6 L693.34 174.82 L693.66 173.08 L693.98 171.41 L694.29 169.84 L694.61 168.36 L694.92 167.01 L695.24 165.79 L695.55 164.71 L695.87 163.8 L696.18 163.05 L696.5 162.48 L696.81 162.09 L697.13 161.89 L697.45 161.87 L697.76 162.03 L698.08 162.38 L698.39 162.91 L698.71 163.62 L699.02 164.48 L699.34 165.5 L699.65 166.67 L699.97 167.96 L700.28 169.38 L700.6 170.89 L700.91 172.49 L701.23 174.15 L701.55 175.87 L701.86 177.62 L702.18 179.38 L702.49 181.14 L702.81 182.87 L703.12 184.57 L703.44 186.21 L703.75 187.78 L704.07 189.27 L704.38 190.65 L704.7 191.92 L705.02 193.06 L705.33 194.07 L705.65 194.94 L705.96 195.66 L706.28 196.22 L706.59 196.63 L706.91 196.88 L707.22 196.97 L707.54 196.91 L707.85 196.69 L708.17 196.33 L708.48 195.83 L708.8 195.2 L709.12 194.45 L709.43 193.59 L709.75 192.64 L710.06 191.6 L710.38 190.48 L710.69 189.31 L711.01 188.1 L711.32 186.86 L711.64 185.61 L711.95 184.36 L712.27 183.13 L712.58 181.93 L712.9 180.78 L713.22 179.68 L713.53 178.65 L713.85 177.7 L714.16 176.85 L714.48 176.09 L714.79 175.44 L715.11 174.9 L715.42 174.49 L715.74 174.19 L716.05 174.02 L716.37 173.97 L716.69 174.05 L717 174.24 L717.32 174.56 L717.63 174.99 L717.95 175.53 L718.26 176.17 L718.58 176.9 L718.89 177.72 L719.21 178.61 L719.52 179.57 L719.84 180.58 L720.15 181.63 L720.47 182.72 L720.79 183.83 L721.1 184.95 L721.42 186.07 L721.73 187.18 L722.05 188.26 L722.36 189.31 L722.68 190.32 L722.99 191.28 L723.31 192.18 L723.62 193.02 L723.94 193.78 L724.26 194.47 L724.57 195.08 L724.89 195.6 L725.2 196.04 L725.52 196.4 L725.83 196.67 L726.15 196.85 L726.46 196.95 L726.78 196.97 L727.09 196.91 L727.41 196.79 L727.72 196.59 L728.04 196.34 L728.36 196.04 L728.67 195.68 L728.99 195.29 L729.3 194.87 L729.62 194.43 L729.93 193.97 L730.25 193.5 L730.56 193.03 L730.88 192.56 L731.19 192.11 L731.51 191.68 L731.83 191.28 L732.14 190.9 L732.46 190.57 L732.77 190.27 L733.09 190.01 L733.4 189.81 L733.72 189.64 L734.03 189.53 L734.35 189.47 L734.66 189.46 L734.98 189.49 L735.29 189.58 L735.61 189.7 L735.93 189.87 L736.24 190.08 L736.56 190.32 L736.87 190.59 L737.19 190.89 L737.5 191.22 L737.82 191.56 L738.13 191.91 L738.45 192.27 L738.76 192.64 L739.08 193.01 L739.4 193.37 L739.71 193.73 L740.03 194.07 L740.34 194.4 L740.66 194.72 L740.97 195.01 L741.29 195.29 L741.6 195.54 L741.92 195.78 L742.23 195.98 L742.55 196.17 L742.86 196.33 L743.18 196.47 L743.5 196.59 L743.81 196.69 L744.13 196.78 L744.44 196.84 L744.76 196.89 L745.07 196.92 L745.39 196.95 L745.7 196.96 L746.02 196.97 L746.33 196.97 L746.65 196.96 L746.97 196.95 L747.28 196.94 L747.6 196.93 L747.91 196.92 L748.23 196.91 L748.54 196.9 L748.86 196.89 L749.17 196.88 L749.49 196.87 L749.8 196.87 L750.12 196.87 L750.43 196.87 L750.75 196.87 L751.07 196.87 L751.38 196.88 L751.7 196.88 L752.01 196.89 L752.33 196.9 L752.64 196.9 L752.96 196.91 L753.27 196.92 L753.59 196.92 L753.9 196.93 L754.22 196.94 L754.54 196.94 L754.85 196.95 L755.17 196.95 L755.48 196.95 L755.8 196.96 L756.11 196.96 L756.43 196.96 L756.74 196.96 L757.06 196.96 L757.37 196.96 L757.69 196.96 L758 196.96 L758.32 196.96 L758.64 196.95 L758.95 196.95 L759.27 196.95 L759.58 196.94 L759.9 196.94 L760.21 196.93 L760.53 196.93 L760.84 196.92 L761.16 196.91 L761.47 196.91 L761.79 196.9 L762.11 196.89 L762.42 196.89 L762.74 196.88 L763.05 196.87 L763.37 196.87 L763.68 196.87 L764 196.87 L764.31 196.87 L764.63 196.87 L764.94 196.88 L765.26 196.88 L765.57 196.89 L765.89 196.9 L766.21 196.92 L766.52 196.93 L766.84 196.94 L767.15 196.95 L767.47 196.96 L767.78 196.97 L768.1 196.97 L768.41 196.97 L768.73 196.95 L769.04 196.93 L769.36 196.9 L769.68 196.85 L769.99 196.79 L770.31 196.72 L770.62 196.62 L770.94 196.51 L771.25 196.37 L771.57 196.22 L771.88 196.04 L772.2 195.83 L772.51 195.61 L772.83 195.36 L773.14 195.09 L773.46 194.8 L773.78 194.49 L774.09 194.16 L774.41 193.82 L774.72 193.47 L775.04 193.1 L775.35 192.74 L775.67 192.37 L775.98 192 L776.3 191.65 L776.61 191.3 L776.93 190.98 L777.25 190.67 L777.56 190.39 L777.88 190.14 L778.19 189.92 L778.51 189.74 L778.82 189.6 L779.14 189.51 L779.45 189.46 L779.77 189.46 L780.08 189.51 L780.4 189.61 L780.71 189.76 L781.03 189.95 L781.35 190.2 L781.66 190.48 L781.98 190.81 L782.29 191.18 L782.61 191.57 L782.92 192 L783.24 192.44 L783.55 192.9 L783.87 193.37 L784.18 193.84 L784.5 194.31 L784.82 194.76 L785.13 195.19 L785.45 195.58 L785.76 195.95 L786.08 196.27 L786.39 196.53 L786.71 196.74 L787.02 196.89 L787.34 196.96 L787.65 196.96 L787.97 196.88 L788.28 196.72 L788.6 196.48" fill="none" stroke="#e4400e" stroke-width="1.5"/>
<path d="M549.2 193.49 L552.35 186.69 L555.5 172.56 L558.65 165.15 L561.8 171.59 L564.95 185.02 L568.1 193.09 L571.25 189.49 L574.4 180.29 L577.55 175.09 L580.7 180.08 L583.85 188 L587 193.84 L590.15 193.27 L593.3 190.22 L596.45 188.67 L599.6 191.04 L602.75 193.64 L605.9 194.89 L609.05 194.39 L612.2 193.88 L615.35 194 L618.5 193.71 L621.65 193.3 L624.8 193.76 L627.95 194.38 L631.1 193.84 L634.25 191.79 L637.4 188.77 L640.55 187.09 L643.7 188.93 L646.85 193.04 L650 193.76 L653.15 189.03 L656.3 182.09 L659.45 180.43 L662.6 184.48 L665.75 191.35 L668.9 194.14 L672.05 188.27 L675.2 177.99 L678.35 173.82 L681.5 179.23 L684.65 189.24 L687.8 194.72 L690.95 189.47 L694.1 179.77 L697.25 174.16 L700.4 178.18 L703.55 187.3 L706.7 193.62 L709.85 191.42 L713 184.89 L716.15 180.58 L719.3 183.99 L722.45 191.19 L725.6 195.09 L728.75 194.48 L731.9 191.37 L735.05 189.05 L738.2 189.83 L741.35 193.38 L744.5 195.14 L747.65 194.36 L750.8 193.5 L753.95 193.82 L757.1 194 L760.25 194.14 L763.4 194.63 L766.55 195.34 L769.7 194.67 L772.85 192.01 L776 188.44 L779.15 187.42 L782.3 189.94 L785.45 194.32 L788.6 195.31" fill="none" stroke="#2848f0" stroke-width="1.1"/>
<path d="M547.75 192.04h2.9v2.9h-2.9zM550.9 185.24h2.9v2.9h-2.9zM554.05 171.11h2.9v2.9h-2.9zM557.2 163.7h2.9v2.9h-2.9zM560.35 170.14h2.9v2.9h-2.9zM563.5 183.57h2.9v2.9h-2.9zM566.65 191.64h2.9v2.9h-2.9zM569.8 188.04h2.9v2.9h-2.9zM572.95 178.84h2.9v2.9h-2.9zM576.1 173.64h2.9v2.9h-2.9zM579.25 178.63h2.9v2.9h-2.9zM582.4 186.55h2.9v2.9h-2.9zM585.55 192.39h2.9v2.9h-2.9zM588.7 191.82h2.9v2.9h-2.9zM591.85 188.77h2.9v2.9h-2.9zM595 187.22h2.9v2.9h-2.9zM598.15 189.59h2.9v2.9h-2.9zM601.3 192.19h2.9v2.9h-2.9zM604.45 193.44h2.9v2.9h-2.9zM607.6 192.94h2.9v2.9h-2.9zM610.75 192.43h2.9v2.9h-2.9zM613.9 192.55h2.9v2.9h-2.9zM617.05 192.26h2.9v2.9h-2.9zM620.2 191.85h2.9v2.9h-2.9zM623.35 192.31h2.9v2.9h-2.9zM626.5 192.93h2.9v2.9h-2.9zM629.65 192.39h2.9v2.9h-2.9zM632.8 190.34h2.9v2.9h-2.9zM635.95 187.32h2.9v2.9h-2.9zM639.1 185.64h2.9v2.9h-2.9zM642.25 187.48h2.9v2.9h-2.9zM645.4 191.59h2.9v2.9h-2.9zM648.55 192.31h2.9v2.9h-2.9zM651.7 187.58h2.9v2.9h-2.9zM654.85 180.64h2.9v2.9h-2.9zM658 178.98h2.9v2.9h-2.9zM661.15 183.03h2.9v2.9h-2.9zM664.3 189.9h2.9v2.9h-2.9zM667.45 192.69h2.9v2.9h-2.9zM670.6 186.82h2.9v2.9h-2.9zM673.75 176.54h2.9v2.9h-2.9zM676.9 172.37h2.9v2.9h-2.9zM680.05 177.78h2.9v2.9h-2.9zM683.2 187.79h2.9v2.9h-2.9zM686.35 193.27h2.9v2.9h-2.9zM689.5 188.02h2.9v2.9h-2.9zM692.65 178.32h2.9v2.9h-2.9zM695.8 172.71h2.9v2.9h-2.9zM698.95 176.73h2.9v2.9h-2.9zM702.1 185.85h2.9v2.9h-2.9zM705.25 192.17h2.9v2.9h-2.9zM708.4 189.97h2.9v2.9h-2.9zM711.55 183.44h2.9v2.9h-2.9zM714.7 179.13h2.9v2.9h-2.9zM717.85 182.54h2.9v2.9h-2.9zM721 189.74h2.9v2.9h-2.9zM724.15 193.64h2.9v2.9h-2.9zM727.3 193.03h2.9v2.9h-2.9zM730.45 189.92h2.9v2.9h-2.9zM733.6 187.6h2.9v2.9h-2.9zM736.75 188.38h2.9v2.9h-2.9zM739.9 191.93h2.9v2.9h-2.9zM743.05 193.69h2.9v2.9h-2.9zM746.2 192.91h2.9v2.9h-2.9zM749.35 192.05h2.9v2.9h-2.9zM752.5 192.37h2.9v2.9h-2.9zM755.65 192.55h2.9v2.9h-2.9zM758.8 192.69h2.9v2.9h-2.9zM761.95 193.18h2.9v2.9h-2.9zM765.1 193.89h2.9v2.9h-2.9zM768.25 193.22h2.9v2.9h-2.9zM771.4 190.56h2.9v2.9h-2.9zM774.55 186.99h2.9v2.9h-2.9zM777.7 185.97h2.9v2.9h-2.9zM780.85 188.49h2.9v2.9h-2.9zM784 192.87h2.9v2.9h-2.9zM787.15 193.86h2.9v2.9h-2.9z" fill="#2040f0"/>
</g>
<line x1="546.0" y1="156.1" x2="789.0" y2="156.1" stroke="#6a6e70" stroke-width="1.5"/>
<line x1="546.0" y1="201" x2="789.0" y2="201" stroke="#6a6e70" stroke-width="1.5"/>
<line x1="546.0" y1="156.1" x2="546.0" y2="201.0" stroke="#8a9094" stroke-width="1.8"/>
<line x1="789.0" y1="156.1" x2="789.0" y2="201.0" stroke="#8a9094" stroke-width="1.3"/>
<line x1="546.0" y1="159.6" x2="548.0" y2="159.6" stroke="#444" stroke-width="0.8"/>
<line x1="789.0" y1="159.6" x2="787.0" y2="159.6" stroke="#444" stroke-width="0.8"/>
<text x="544" y="163" text-anchor="end" font-family='"Liberation Sans", sans-serif' font-size="9.3" fill="#333" stroke="#333" stroke-width="0.15" transform="translate(544 0) scale(1.08 1) translate(-544 0)">1</text>
<line x1="546.0" y1="178.1" x2="548.0" y2="178.1" stroke="#444" stroke-width="0.8"/>
<line x1="789.0" y1="178.1" x2="787.0" y2="178.1" stroke="#444" stroke-width="0.8"/>
<text x="544" y="181.5" text-anchor="end" font-family='"Liberation Sans", sans-serif' font-size="9.3" fill="#333" stroke="#333" stroke-width="0.15" transform="translate(544 0) scale(1.08 1) translate(-544 0)">0.5</text>
<line x1="546.0" y1="196.6" x2="548.0" y2="196.6" stroke="#444" stroke-width="0.8"/>
<line x1="789.0" y1="196.6" x2="787.0" y2="196.6" stroke="#444" stroke-width="0.8"/>
<text x="544" y="200" text-anchor="end" font-family='"Liberation Sans", sans-serif' font-size="9.3" fill="#333" stroke="#333" stroke-width="0.15" transform="translate(544 0) scale(1.08 1) translate(-544 0)">0</text>
<line x1="627.95" y1="156.1" x2="627.95" y2="158.1" stroke="#444" stroke-width="0.8"/>
<line x1="627.95" y1="201.0" x2="627.95" y2="199.0" stroke="#444" stroke-width="0.8"/>
<line x1="706.7" y1="156.1" x2="706.7" y2="158.1" stroke="#444" stroke-width="0.8"/>
<line x1="706.7" y1="201.0" x2="706.7" y2="199.0" stroke="#444" stroke-width="0.8"/>
<line x1="756.5" y1="159.7" x2="756.5" y2="172" stroke="#8a9098" stroke-width="1.1"/>
<text x="758.2" y="168.7" textLength="6.6" lengthAdjust="spacingAndGlyphs" font-family='"Liberation Serif", serif' font-size="12.5" font-style="italic" fill="#222" stroke="#222" stroke-width="0.4">n</text>
<text x="767.2" y="170.9" font-family='"Liberation Serif", serif' font-size="8" fill="#222" stroke="#222" stroke-width="0.25">3</text>
<path d="M773 159.4 Q774.2 162.2 776 165.9 Q774.2 169.7 773 172.5" fill="none" stroke="#333" stroke-width="0.75"/>
<rect x="785.8" y="157.3" width="2.6" height="2.6" fill="none" stroke="#555" stroke-width="0.6"/>
<rect x="785.8" y="197.2" width="2.6" height="2.6" fill="none" stroke="#555" stroke-width="0.6"/>
<defs><clipPath id="ce4"><rect x="546.0" y="206.4" width="243.0" height="44.9"/></clipPath></defs>
<g clip-path="url(#ce4)">
<path d="M549.2 247.27 L549.52 247.27 L549.83 247.27 L550.15 247.27 L550.46 247.27 L550.78 247.27 L551.09 247.27 L551.41 247.27 L551.72 247.27 L552.04 247.27 L552.35 247.27 L552.67 247.26 L552.98 247.26 L553.3 247.26 L553.62 247.25 L553.93 247.24 L554.25 247.24 L554.56 247.23 L554.88 247.22 L555.19 247.2 L555.51 247.19 L555.82 247.17 L556.14 247.15 L556.45 247.13 L556.77 247.1 L557.09 247.07 L557.4 247.04 L557.72 247 L558.03 246.97 L558.35 246.93 L558.66 246.89 L558.98 246.84 L559.29 246.8 L559.61 246.76 L559.92 246.71 L560.24 246.67 L560.55 246.63 L560.87 246.59 L561.19 246.56 L561.5 246.53 L561.82 246.5 L562.13 246.48 L562.45 246.47 L562.76 246.46 L563.08 246.46 L563.39 246.47 L563.71 246.49 L564.02 246.51 L564.34 246.54 L564.66 246.58 L564.97 246.63 L565.29 246.68 L565.6 246.74 L565.92 246.8 L566.23 246.86 L566.55 246.92 L566.86 246.99 L567.18 247.05 L567.49 247.11 L567.81 247.16 L568.12 247.21 L568.44 247.24 L568.76 247.26 L569.07 247.27 L569.39 247.26 L569.7 247.24 L570.02 247.19 L570.33 247.13 L570.65 247.04 L570.96 246.93 L571.28 246.8 L571.59 246.64 L571.91 246.46 L572.23 246.26 L572.54 246.03 L572.86 245.78 L573.17 245.51 L573.49 245.23 L573.8 244.92 L574.12 244.6 L574.43 244.27 L574.75 243.93 L575.06 243.58 L575.38 243.23 L575.69 242.88 L576.01 242.53 L576.33 242.19 L576.64 241.86 L576.96 241.55 L577.27 241.26 L577.59 240.99 L577.9 240.75 L578.22 240.53 L578.53 240.35 L578.85 240.2 L579.16 240.08 L579.48 240.01 L579.8 239.98 L580.11 239.98 L580.43 240.03 L580.74 240.12 L581.06 240.25 L581.37 240.43 L581.69 240.64 L582 240.88 L582.32 241.17 L582.63 241.48 L582.95 241.82 L583.26 242.19 L583.58 242.57 L583.9 242.97 L584.21 243.39 L584.53 243.8 L584.84 244.22 L585.16 244.63 L585.47 245.03 L585.79 245.41 L586.1 245.77 L586.42 246.11 L586.73 246.41 L587.05 246.67 L587.37 246.89 L587.68 247.06 L588 247.19 L588.31 247.26 L588.63 247.27 L588.94 247.22 L589.26 247.11 L589.57 246.94 L589.89 246.71 L590.2 246.42 L590.52 246.07 L590.83 245.66 L591.15 245.19 L591.47 244.67 L591.78 244.11 L592.1 243.49 L592.41 242.84 L592.73 242.16 L593.04 241.45 L593.36 240.71 L593.67 239.97 L593.99 239.22 L594.3 238.46 L594.62 237.72 L594.94 236.99 L595.25 236.29 L595.57 235.62 L595.88 234.99 L596.2 234.4 L596.51 233.86 L596.83 233.38 L597.14 232.97 L597.46 232.62 L597.77 232.34 L598.09 232.14 L598.4 232.02 L598.72 231.98 L599.04 232.03 L599.35 232.15 L599.67 232.36 L599.98 232.64 L600.3 233 L600.61 233.44 L600.93 233.94 L601.24 234.51 L601.56 235.13 L601.87 235.81 L602.19 236.53 L602.51 237.28 L602.82 238.07 L603.14 238.87 L603.45 239.69 L603.77 240.5 L604.08 241.31 L604.4 242.1 L604.71 242.86 L605.03 243.59 L605.34 244.27 L605.66 244.9 L605.97 245.47 L606.29 245.97 L606.61 246.4 L606.92 246.74 L607.24 247.01 L607.55 247.18 L607.87 247.26 L608.18 247.25 L608.5 247.15 L608.81 246.95 L609.13 246.65 L609.44 246.27 L609.76 245.79 L610.08 245.24 L610.39 244.6 L610.71 243.9 L611.02 243.12 L611.34 242.29 L611.65 241.41 L611.97 240.49 L612.28 239.54 L612.6 238.57 L612.91 237.59 L613.23 236.61 L613.54 235.63 L613.86 234.68 L614.18 233.76 L614.49 232.88 L614.81 232.05 L615.12 231.27 L615.44 230.57 L615.75 229.94 L616.07 229.39 L616.38 228.92 L616.7 228.55 L617.01 228.28 L617.33 228.11 L617.65 228.03 L617.96 228.06 L618.28 228.19 L618.59 228.42 L618.91 228.75 L619.22 229.18 L619.54 229.69 L619.85 230.29 L620.17 230.96 L620.48 231.71 L620.8 232.52 L621.11 233.38 L621.43 234.28 L621.75 235.22 L622.06 236.19 L622.38 237.17 L622.69 238.15 L623.01 239.13 L623.32 240.09 L623.64 241.03 L623.95 241.92 L624.27 242.78 L624.58 243.57 L624.9 244.31 L625.22 244.98 L625.53 245.57 L625.85 246.08 L626.16 246.5 L626.48 246.83 L626.79 247.07 L627.11 247.22 L627.42 247.27 L627.74 247.23 L628.05 247.09 L628.37 246.87 L628.68 246.56 L629 246.16 L629.32 245.69 L629.63 245.15 L629.95 244.55 L630.26 243.89 L630.58 243.18 L630.89 242.43 L631.21 241.65 L631.52 240.85 L631.84 240.04 L632.15 239.22 L632.47 238.41 L632.78 237.62 L633.1 236.85 L633.42 236.11 L633.73 235.41 L634.05 234.77 L634.36 234.17 L634.68 233.64 L634.99 233.18 L635.31 232.79 L635.62 232.47 L635.94 232.23 L636.25 232.07 L636.57 231.99 L636.89 232 L637.2 232.08 L637.52 232.25 L637.83 232.49 L638.15 232.81 L638.46 233.19 L638.78 233.65 L639.09 234.16 L639.41 234.73 L639.72 235.34 L640.04 236 L640.35 236.69 L640.67 237.41 L640.99 238.15 L641.3 238.89 L641.62 239.65 L641.93 240.4 L642.25 241.14 L642.56 241.86 L642.88 242.55 L643.19 243.22 L643.51 243.85 L643.82 244.44 L644.14 244.98 L644.46 245.47 L644.77 245.9 L645.09 246.28 L645.4 246.6 L645.72 246.85 L646.03 247.05 L646.35 247.18 L646.66 247.25 L646.98 247.27 L647.29 247.22 L647.61 247.12 L647.92 246.97 L648.24 246.77 L648.56 246.52 L648.87 246.24 L649.19 245.92 L649.5 245.57 L649.82 245.2 L650.13 244.8 L650.45 244.4 L650.76 243.98 L651.08 243.56 L651.39 243.15 L651.71 242.74 L652.03 242.35 L652.34 241.98 L652.66 241.62 L652.97 241.3 L653.29 241 L653.6 240.74 L653.92 240.51 L654.23 240.32 L654.55 240.17 L654.86 240.07 L655.18 240 L655.49 239.97 L655.81 239.99 L656.13 240.05 L656.44 240.14 L656.76 240.28 L657.07 240.45 L657.39 240.65 L657.7 240.88 L658.02 241.14 L658.33 241.43 L658.65 241.73 L658.96 242.05 L659.28 242.38 L659.6 242.73 L659.91 243.08 L660.23 243.43 L660.54 243.78 L660.86 244.12 L661.17 244.46 L661.49 244.78 L661.8 245.1 L662.12 245.39 L662.43 245.67 L662.75 245.93 L663.06 246.16 L663.38 246.38 L663.7 246.57 L664.01 246.74 L664.33 246.88 L664.64 247 L664.96 247.09 L665.27 247.17 L665.59 247.22 L665.9 247.25 L666.22 247.27 L666.53 247.27 L666.85 247.25 L667.17 247.22 L667.48 247.18 L667.8 247.13 L668.11 247.08 L668.43 247.02 L668.74 246.95 L669.06 246.89 L669.37 246.82 L669.69 246.76 L670 246.7 L670.32 246.65 L670.63 246.6 L670.95 246.56 L671.27 246.52 L671.58 246.5 L671.9 246.48 L672.21 246.47 L672.53 246.46 L672.84 246.47 L673.16 246.48 L673.47 246.49 L673.79 246.52 L674.1 246.55 L674.42 246.58 L674.74 246.62 L675.05 246.65 L675.37 246.7 L675.68 246.74 L676 246.78 L676.31 246.83 L676.63 246.87 L676.94 246.91 L677.26 246.95 L677.57 246.99 L677.89 247.02 L678.2 247.06 L678.52 247.09 L678.84 247.11 L679.15 247.14 L679.47 247.16 L679.78 247.18 L680.1 247.2 L680.41 247.21 L680.73 247.22 L681.04 247.23 L681.36 247.24 L681.67 247.25 L681.99 247.25 L682.31 247.26 L682.62 247.26 L682.94 247.26 L683.25 247.27 L683.57 247.27 L683.88 247.27 L684.2 247.27 L684.51 247.27 L684.83 247.27 L685.14 247.27 L685.46 247.27 L685.77 247.27 L686.09 247.27 L686.41 247.27 L686.72 247.27 L687.04 247.27 L687.35 247.27 L687.67 247.27 L687.98 247.27 L688.3 247.27 L688.61 247.27 L688.93 247.27 L689.24 247.27 L689.56 247.27 L689.88 247.27 L690.19 247.27 L690.51 247.27 L690.82 247.27 L691.14 247.27 L691.45 247.27 L691.77 247.26 L692.08 247.26 L692.4 247.26 L692.71 247.26 L693.03 247.25 L693.34 247.24 L693.66 247.24 L693.98 247.23 L694.29 247.22 L694.61 247.2 L694.92 247.19 L695.24 247.17 L695.55 247.15 L695.87 247.12 L696.18 247.1 L696.5 247.07 L696.81 247.04 L697.13 247 L697.45 246.96 L697.76 246.92 L698.08 246.88 L698.39 246.84 L698.71 246.8 L699.02 246.75 L699.34 246.71 L699.65 246.67 L699.97 246.63 L700.28 246.59 L700.6 246.56 L700.91 246.53 L701.23 246.5 L701.55 246.48 L701.86 246.47 L702.18 246.46 L702.49 246.46 L702.81 246.47 L703.12 246.49 L703.44 246.51 L703.75 246.55 L704.07 246.59 L704.38 246.63 L704.7 246.68 L705.02 246.74 L705.33 246.8 L705.65 246.87 L705.96 246.93 L706.28 246.99 L706.59 247.06 L706.91 247.11 L707.22 247.17 L707.54 247.21 L707.85 247.24 L708.17 247.26 L708.48 247.27 L708.8 247.26 L709.12 247.23 L709.43 247.19 L709.75 247.12 L710.06 247.03 L710.38 246.92 L710.69 246.79 L711.01 246.63 L711.32 246.45 L711.64 246.24 L711.95 246.01 L712.27 245.76 L712.58 245.49 L712.9 245.2 L713.22 244.89 L713.53 244.57 L713.85 244.24 L714.16 243.9 L714.48 243.55 L714.79 243.2 L715.11 242.85 L715.42 242.5 L715.74 242.16 L716.05 241.84 L716.37 241.53 L716.69 241.24 L717 240.97 L717.32 240.73 L717.63 240.51 L717.95 240.33 L718.26 240.19 L718.58 240.08 L718.89 240.01 L719.21 239.98 L719.52 239.99 L719.84 240.04 L720.15 240.13 L720.47 240.27 L720.79 240.44 L721.1 240.66 L721.42 240.91 L721.73 241.19 L722.05 241.51 L722.36 241.85 L722.68 242.22 L722.99 242.61 L723.31 243.01 L723.62 243.42 L723.94 243.84 L724.26 244.25 L724.57 244.66 L724.89 245.06 L725.2 245.44 L725.52 245.8 L725.83 246.13 L726.15 246.43 L726.46 246.69 L726.78 246.91 L727.09 247.08 L727.41 247.19 L727.72 247.26 L728.04 247.27 L728.36 247.21 L728.67 247.1 L728.99 246.93 L729.3 246.69 L729.62 246.4 L729.93 246.04 L730.25 245.62 L730.56 245.15 L730.88 244.63 L731.19 244.06 L731.51 243.44 L731.83 242.79 L732.14 242.1 L732.46 241.39 L732.77 240.65 L733.09 239.91 L733.4 239.15 L733.72 238.4 L734.03 237.66 L734.35 236.94 L734.66 236.23 L734.98 235.57 L735.29 234.93 L735.61 234.35 L735.93 233.82 L736.24 233.34 L736.56 232.93 L736.87 232.59 L737.19 232.32 L737.5 232.13 L737.82 232.02 L738.13 231.99 L738.45 232.03 L738.76 232.16 L739.08 232.38 L739.4 232.67 L739.71 233.03 L740.03 233.47 L740.34 233.98 L740.66 234.56 L740.97 235.18 L741.29 235.87 L741.6 236.59 L741.92 237.35 L742.23 238.14 L742.55 238.94 L742.86 239.76 L743.18 240.57 L743.5 241.38 L743.81 242.16 L744.13 242.92 L744.44 243.65 L744.76 244.33 L745.07 244.95 L745.39 245.51 L745.7 246.01 L746.02 246.43 L746.33 246.77 L746.65 247.02 L746.97 247.19 L747.28 247.27 L747.6 247.25 L747.91 247.13 L748.23 246.92 L748.54 246.62 L748.86 246.23 L749.17 245.75 L749.49 245.19 L749.8 244.55 L750.12 243.84 L750.43 243.06 L750.75 242.22 L751.07 241.34 L751.38 240.42 L751.7 239.46 L752.01 238.49 L752.33 237.51 L752.64 236.53 L752.96 235.56 L753.27 234.61 L753.59 233.69 L753.9 232.81 L754.22 231.98 L754.54 231.21 L754.85 230.51 L755.17 229.89 L755.48 229.34 L755.8 228.89 L756.11 228.53 L756.43 228.26 L756.74 228.1 L757.06 228.03 L757.37 228.07 L757.69 228.21 L758 228.45 L758.32 228.78 L758.64 229.22 L758.95 229.74 L759.27 230.34 L759.58 231.02 L759.9 231.77 L760.21 232.59 L760.53 233.45 L760.84 234.36 L761.16 235.3 L761.47 236.27 L761.79 237.25 L762.11 238.23 L762.42 239.21 L762.74 240.17 L763.05 241.1 L763.37 242 L763.68 242.84 L764 243.64 L764.31 244.37 L764.63 245.03 L764.94 245.61 L765.26 246.11 L765.57 246.53 L765.89 246.85 L766.21 247.09 L766.52 247.23 L766.84 247.27 L767.15 247.22 L767.47 247.08 L767.78 246.85 L768.1 246.53 L768.41 246.13 L768.73 245.65 L769.04 245.1 L769.36 244.5 L769.68 243.83 L769.99 243.12 L770.31 242.37 L770.62 241.59 L770.94 240.78 L771.25 239.97 L771.57 239.15 L771.88 238.35 L772.2 237.55 L772.51 236.79 L772.83 236.05 L773.14 235.36 L773.46 234.72 L773.78 234.13 L774.09 233.6 L774.41 233.14 L774.72 232.76 L775.04 232.45 L775.35 232.21 L775.67 232.06 L775.98 231.99 L776.3 232 L776.61 232.09 L776.93 232.27 L777.25 232.51 L777.56 232.84 L777.88 233.23 L778.19 233.69 L778.51 234.2 L778.82 234.78 L779.14 235.4 L779.45 236.06 L779.77 236.75 L780.08 237.47 L780.4 238.21 L780.71 238.96 L781.03 239.71 L781.35 240.46 L781.66 241.2 L781.98 241.92 L782.29 242.61 L782.61 243.27 L782.92 243.9 L783.24 244.48 L783.55 245.02 L783.87 245.5 L784.18 245.93 L784.5 246.31 L784.82 246.62 L785.13 246.87 L785.45 247.06 L785.76 247.19 L786.08 247.26 L786.39 247.27 L786.71 247.22 L787.02 247.11 L787.34 246.96 L787.65 246.75 L787.97 246.5 L788.28 246.21 L788.6 245.89" fill="none" stroke="#e4400e" stroke-width="1.5"/>
<path d="M549.2 246.19 L552.35 245.19 L555.5 244.57 L558.65 244.38 L561.8 244.18 L564.95 244.01 L568.1 245.28 L571.25 244.97 L574.4 243.47 L577.55 242.39 L580.7 241.4 L583.85 243.05 L587 245.39 L590.15 245.16 L593.3 240.39 L596.45 234.84 L599.6 233.45 L602.75 237.91 L605.9 243.01 L609.05 243.68 L612.2 238.4 L615.35 230.31 L618.5 227.79 L621.65 233.88 L624.8 241.66 L627.95 244.2 L631.1 238.74 L634.25 231.96 L637.4 229.7 L640.55 234.26 L643.7 241.45 L646.85 245.15 L650 242.68 L653.15 237.94 L656.3 237.01 L659.45 239.46 L662.6 244.03 L665.75 246.2 L668.9 245.62 L672.05 244.64 L675.2 244.84 L678.35 245.27 L681.5 245.48 L684.65 246.07 L687.8 246.26 L690.95 245.8 L694.1 244.9 L697.25 244.01 L700.4 243.76 L703.55 243.38 L706.7 244.44 L709.85 244.59 L713 243.19 L716.15 240.54 L719.3 239.78 L722.45 241.63 L725.6 244.04 L728.75 244.46 L731.9 241.2 L735.05 236.88 L738.2 234.92 L741.35 238.28 L744.5 242.9 L747.65 245.03 L750.8 242.32 L753.95 236.89 L757.1 233.88 L760.25 236.66 L763.4 242.43 L766.55 244.98 L769.7 243.13 L772.85 238.6 L776 236.4 L779.15 238.07 L782.3 242.38 L785.45 245.08 L788.6 244.4" fill="none" stroke="#2848f0" stroke-width="1.1"/>
<path d="M547.75 244.74h2.9v2.9h-2.9zM550.9 243.74h2.9v2.9h-2.9zM554.05 243.12h2.9v2.9h-2.9zM557.2 242.93h2.9v2.9h-2.9zM560.35 242.73h2.9v2.9h-2.9zM563.5 242.56h2.9v2.9h-2.9zM566.65 243.83h2.9v2.9h-2.9zM569.8 243.52h2.9v2.9h-2.9zM572.95 242.02h2.9v2.9h-2.9zM576.1 240.94h2.9v2.9h-2.9zM579.25 239.95h2.9v2.9h-2.9zM582.4 241.6h2.9v2.9h-2.9zM585.55 243.94h2.9v2.9h-2.9zM588.7 243.71h2.9v2.9h-2.9zM591.85 238.94h2.9v2.9h-2.9zM595 233.39h2.9v2.9h-2.9zM598.15 232h2.9v2.9h-2.9zM601.3 236.46h2.9v2.9h-2.9zM604.45 241.56h2.9v2.9h-2.9zM607.6 242.23h2.9v2.9h-2.9zM610.75 236.95h2.9v2.9h-2.9zM613.9 228.86h2.9v2.9h-2.9zM617.05 226.34h2.9v2.9h-2.9zM620.2 232.43h2.9v2.9h-2.9zM623.35 240.21h2.9v2.9h-2.9zM626.5 242.75h2.9v2.9h-2.9zM629.65 237.29h2.9v2.9h-2.9zM632.8 230.51h2.9v2.9h-2.9zM635.95 228.25h2.9v2.9h-2.9zM639.1 232.81h2.9v2.9h-2.9zM642.25 240h2.9v2.9h-2.9zM645.4 243.7h2.9v2.9h-2.9zM648.55 241.23h2.9v2.9h-2.9zM651.7 236.49h2.9v2.9h-2.9zM654.85 235.56h2.9v2.9h-2.9zM658 238.01h2.9v2.9h-2.9zM661.15 242.58h2.9v2.9h-2.9zM664.3 244.75h2.9v2.9h-2.9zM667.45 244.17h2.9v2.9h-2.9zM670.6 243.19h2.9v2.9h-2.9zM673.75 243.39h2.9v2.9h-2.9zM676.9 243.82h2.9v2.9h-2.9zM680.05 244.03h2.9v2.9h-2.9zM683.2 244.62h2.9v2.9h-2.9zM686.35 244.81h2.9v2.9h-2.9zM689.5 244.35h2.9v2.9h-2.9zM692.65 243.45h2.9v2.9h-2.9zM695.8 242.56h2.9v2.9h-2.9zM698.95 242.31h2.9v2.9h-2.9zM702.1 241.93h2.9v2.9h-2.9zM705.25 242.99h2.9v2.9h-2.9zM708.4 243.14h2.9v2.9h-2.9zM711.55 241.74h2.9v2.9h-2.9zM714.7 239.09h2.9v2.9h-2.9zM717.85 238.33h2.9v2.9h-2.9zM721 240.18h2.9v2.9h-2.9zM724.15 242.59h2.9v2.9h-2.9zM727.3 243.01h2.9v2.9h-2.9zM730.45 239.75h2.9v2.9h-2.9zM733.6 235.43h2.9v2.9h-2.9zM736.75 233.47h2.9v2.9h-2.9zM739.9 236.83h2.9v2.9h-2.9zM743.05 241.45h2.9v2.9h-2.9zM746.2 243.58h2.9v2.9h-2.9zM749.35 240.87h2.9v2.9h-2.9zM752.5 235.44h2.9v2.9h-2.9zM755.65 232.43h2.9v2.9h-2.9zM758.8 235.21h2.9v2.9h-2.9zM761.95 240.98h2.9v2.9h-2.9zM765.1 243.53h2.9v2.9h-2.9zM768.25 241.68h2.9v2.9h-2.9zM771.4 237.15h2.9v2.9h-2.9zM774.55 234.95h2.9v2.9h-2.9zM777.7 236.62h2.9v2.9h-2.9zM780.85 240.93h2.9v2.9h-2.9zM784 243.63h2.9v2.9h-2.9zM787.15 242.95h2.9v2.9h-2.9z" fill="#2040f0"/>
</g>
<line x1="546.0" y1="206.4" x2="789.0" y2="206.4" stroke="#151515" stroke-width="1.2"/>
<line x1="546.0" y1="251.3" x2="789.0" y2="251.3" stroke="#151515" stroke-width="1.2"/>
<line x1="546.0" y1="206.4" x2="546.0" y2="251.3" stroke="#8a9094" stroke-width="1.8"/>
<line x1="789.0" y1="206.4" x2="789.0" y2="251.3" stroke="#8a9094" stroke-width="1.3"/>
<line x1="546.0" y1="209.9" x2="548.0" y2="209.9" stroke="#444" stroke-width="0.8"/>
<line x1="789.0" y1="209.9" x2="787.0" y2="209.9" stroke="#444" stroke-width="0.8"/>
<text x="544" y="213.3" text-anchor="end" font-family='"Liberation Sans", sans-serif' font-size="9.3" fill="#333" stroke="#333" stroke-width="0.15" transform="translate(544 0) scale(1.08 1) translate(-544 0)">1</text>
<line x1="546.0" y1="228.4" x2="548.0" y2="228.4" stroke="#444" stroke-width="0.8"/>
<line x1="789.0" y1="228.4" x2="787.0" y2="228.4" stroke="#444" stroke-width="0.8"/>
<text x="544" y="231.8" text-anchor="end" font-family='"Liberation Sans", sans-serif' font-size="9.3" fill="#333" stroke="#333" stroke-width="0.15" transform="translate(544 0) scale(1.08 1) translate(-544 0)">0.5</text>
<line x1="546.0" y1="246.9" x2="548.0" y2="246.9" stroke="#444" stroke-width="0.8"/>
<line x1="789.0" y1="246.9" x2="787.0" y2="246.9" stroke="#444" stroke-width="0.8"/>
<text x="544" y="250.3" text-anchor="end" font-family='"Liberation Sans", sans-serif' font-size="9.3" fill="#333" stroke="#333" stroke-width="0.15" transform="translate(544 0) scale(1.08 1) translate(-544 0)">0</text>
<line x1="627.95" y1="206.4" x2="627.95" y2="208.4" stroke="#444" stroke-width="0.8"/>
<line x1="627.95" y1="251.3" x2="627.95" y2="249.3" stroke="#444" stroke-width="0.8"/>
<line x1="706.7" y1="206.4" x2="706.7" y2="208.4" stroke="#444" stroke-width="0.8"/>
<line x1="706.7" y1="251.3" x2="706.7" y2="249.3" stroke="#444" stroke-width="0.8"/>
<line x1="756.5" y1="210" x2="756.5" y2="222.3" stroke="#8a9098" stroke-width="1.1"/>
<text x="758.2" y="219" textLength="6.6" lengthAdjust="spacingAndGlyphs" font-family='"Liberation Serif", serif' font-size="12.5" font-style="italic" fill="#222" stroke="#222" stroke-width="0.4">n</text>
<text x="767.2" y="221.2" font-family='"Liberation Serif", serif' font-size="8" fill="#222" stroke="#222" stroke-width="0.25">2</text>
<path d="M773 209.7 Q774.2 212.5 776 216.2 Q774.2 220 773 222.8" fill="none" stroke="#333" stroke-width="0.75"/>
<rect x="785.8" y="207.6" width="2.6" height="2.6" fill="none" stroke="#555" stroke-width="0.6"/>
<rect x="785.8" y="247.5" width="2.6" height="2.6" fill="none" stroke="#555" stroke-width="0.6"/>
<defs><clipPath id="ce5"><rect x="546.0" y="256.7" width="243.0" height="44.9"/></clipPath></defs>
<g clip-path="url(#ce5)">
<path d="M549.2 297.57 L549.52 297.57 L549.83 297.57 L550.15 297.57 L550.46 297.56 L550.78 297.56 L551.09 297.56 L551.41 297.56 L551.72 297.56 L552.04 297.56 L552.35 297.56 L552.67 297.55 L552.98 297.55 L553.3 297.55 L553.62 297.55 L553.93 297.54 L554.25 297.54 L554.56 297.54 L554.88 297.54 L555.19 297.53 L555.51 297.53 L555.82 297.53 L556.14 297.53 L556.45 297.53 L556.77 297.53 L557.09 297.53 L557.4 297.54 L557.72 297.54 L558.03 297.54 L558.35 297.55 L558.66 297.55 L558.98 297.56 L559.29 297.56 L559.61 297.57 L559.92 297.57 L560.24 297.57 L560.55 297.57 L560.87 297.56 L561.19 297.55 L561.5 297.54 L561.82 297.52 L562.13 297.5 L562.45 297.46 L562.76 297.42 L563.08 297.38 L563.39 297.32 L563.71 297.26 L564.02 297.18 L564.34 297.1 L564.66 297 L564.97 296.9 L565.29 296.79 L565.6 296.67 L565.92 296.54 L566.23 296.4 L566.55 296.26 L566.86 296.11 L567.18 295.96 L567.49 295.8 L567.81 295.65 L568.12 295.49 L568.44 295.34 L568.76 295.19 L569.07 295.05 L569.39 294.92 L569.7 294.8 L570.02 294.69 L570.33 294.6 L570.65 294.52 L570.96 294.46 L571.28 294.42 L571.59 294.4 L571.91 294.39 L572.23 294.41 L572.54 294.45 L572.86 294.51 L573.17 294.59 L573.49 294.69 L573.8 294.81 L574.12 294.95 L574.43 295.11 L574.75 295.27 L575.06 295.45 L575.38 295.64 L575.69 295.84 L576.01 296.04 L576.33 296.24 L576.64 296.44 L576.96 296.63 L577.27 296.82 L577.59 296.99 L577.9 297.14 L578.22 297.28 L578.53 297.39 L578.85 297.48 L579.16 297.54 L579.48 297.57 L579.8 297.56 L580.11 297.52 L580.43 297.45 L580.74 297.33 L581.06 297.18 L581.37 296.99 L581.69 296.76 L582 296.5 L582.32 296.19 L582.63 295.86 L582.95 295.48 L583.26 295.08 L583.58 294.65 L583.9 294.2 L584.21 293.73 L584.53 293.24 L584.84 292.74 L585.16 292.23 L585.47 291.72 L585.79 291.21 L586.1 290.71 L586.42 290.22 L586.73 289.75 L587.05 289.3 L587.37 288.88 L587.68 288.5 L588 288.15 L588.31 287.84 L588.63 287.58 L588.94 287.37 L589.26 287.2 L589.57 287.09 L589.89 287.04 L590.2 287.05 L590.52 287.11 L590.83 287.22 L591.15 287.4 L591.47 287.63 L591.78 287.91 L592.1 288.24 L592.41 288.62 L592.73 289.05 L593.04 289.51 L593.36 290.01 L593.67 290.53 L593.99 291.08 L594.3 291.64 L594.62 292.22 L594.94 292.8 L595.25 293.37 L595.57 293.93 L595.88 294.48 L596.2 295 L596.51 295.49 L596.83 295.94 L597.14 296.34 L597.46 296.7 L597.77 297 L598.09 297.24 L598.4 297.42 L598.72 297.53 L599.04 297.57 L599.35 297.54 L599.67 297.43 L599.98 297.25 L600.3 296.99 L600.61 296.66 L600.93 296.26 L601.24 295.79 L601.56 295.26 L601.87 294.67 L602.19 294.02 L602.51 293.32 L602.82 292.58 L603.14 291.8 L603.45 291 L603.77 290.17 L604.08 289.34 L604.4 288.5 L604.71 287.66 L605.03 286.84 L605.34 286.04 L605.66 285.27 L605.97 284.54 L606.29 283.85 L606.61 283.22 L606.92 282.65 L607.24 282.15 L607.55 281.72 L607.87 281.37 L608.18 281.1 L608.5 280.91 L608.81 280.82 L609.13 280.81 L609.44 280.89 L609.76 281.06 L610.08 281.32 L610.39 281.66 L610.71 282.08 L611.02 282.58 L611.34 283.15 L611.65 283.79 L611.97 284.48 L612.28 285.23 L612.6 286.02 L612.91 286.84 L613.23 287.7 L613.54 288.56 L613.86 289.44 L614.18 290.31 L614.49 291.17 L614.81 292.01 L615.12 292.82 L615.44 293.59 L615.75 294.31 L616.07 294.98 L616.38 295.58 L616.7 296.11 L617.01 296.57 L617.33 296.94 L617.65 297.23 L617.96 297.44 L618.28 297.55 L618.59 297.57 L618.91 297.49 L619.22 297.33 L619.54 297.08 L619.85 296.74 L620.17 296.31 L620.48 295.81 L620.8 295.24 L621.11 294.6 L621.43 293.9 L621.75 293.15 L622.06 292.36 L622.38 291.53 L622.69 290.68 L623.01 289.81 L623.32 288.93 L623.64 288.06 L623.95 287.2 L624.27 286.36 L624.58 285.56 L624.9 284.79 L625.22 284.07 L625.53 283.41 L625.85 282.81 L626.16 282.28 L626.48 281.83 L626.79 281.45 L627.11 281.16 L627.42 280.95 L627.74 280.83 L628.05 280.8 L628.37 280.86 L628.68 281.01 L629 281.25 L629.32 281.56 L629.63 281.96 L629.95 282.43 L630.26 282.97 L630.58 283.58 L630.89 284.24 L631.21 284.95 L631.52 285.71 L631.84 286.5 L632.15 287.31 L632.47 288.14 L632.78 288.98 L633.1 289.82 L633.42 290.65 L633.73 291.47 L634.05 292.26 L634.36 293.01 L634.68 293.73 L634.99 294.4 L635.31 295.02 L635.62 295.58 L635.94 296.07 L636.25 296.5 L636.57 296.86 L636.89 297.15 L637.2 297.36 L637.52 297.5 L637.83 297.56 L638.15 297.56 L638.46 297.48 L638.78 297.33 L639.09 297.11 L639.41 296.83 L639.72 296.5 L640.04 296.11 L640.35 295.68 L640.67 295.21 L640.99 294.7 L641.3 294.16 L641.62 293.61 L641.93 293.04 L642.25 292.46 L642.56 291.89 L642.88 291.32 L643.19 290.76 L643.51 290.23 L643.82 289.72 L644.14 289.24 L644.46 288.8 L644.77 288.4 L645.09 288.05 L645.4 287.74 L645.72 287.49 L646.03 287.29 L646.35 287.15 L646.66 287.06 L646.98 287.04 L647.29 287.07 L647.61 287.15 L647.92 287.29 L648.24 287.48 L648.56 287.73 L648.87 288.01 L649.19 288.35 L649.5 288.72 L649.82 289.12 L650.13 289.56 L650.45 290.02 L650.76 290.5 L651.08 290.99 L651.39 291.5 L651.71 292.01 L652.03 292.52 L652.34 293.03 L652.66 293.52 L652.97 294 L653.29 294.47 L653.6 294.91 L653.92 295.32 L654.23 295.7 L654.55 296.06 L654.86 296.37 L655.18 296.66 L655.49 296.9 L655.81 297.11 L656.13 297.28 L656.44 297.41 L656.76 297.5 L657.07 297.55 L657.39 297.57 L657.7 297.55 L658.02 297.51 L658.33 297.43 L658.65 297.33 L658.96 297.2 L659.28 297.06 L659.6 296.89 L659.91 296.71 L660.23 296.52 L660.54 296.33 L660.86 296.13 L661.17 295.92 L661.49 295.73 L661.8 295.53 L662.12 295.35 L662.43 295.18 L662.75 295.01 L663.06 294.87 L663.38 294.74 L663.7 294.63 L664.01 294.54 L664.33 294.47 L664.64 294.43 L664.96 294.4 L665.27 294.39 L665.59 294.41 L665.9 294.44 L666.22 294.49 L666.53 294.57 L666.85 294.65 L667.17 294.76 L667.48 294.87 L667.8 295 L668.11 295.13 L668.43 295.28 L668.74 295.43 L669.06 295.58 L669.37 295.74 L669.69 295.89 L670 296.04 L670.32 296.2 L670.63 296.34 L670.95 296.48 L671.27 296.61 L671.58 296.74 L671.9 296.85 L672.21 296.96 L672.53 297.06 L672.84 297.15 L673.16 297.23 L673.47 297.3 L673.79 297.36 L674.1 297.41 L674.42 297.45 L674.74 297.48 L675.05 297.51 L675.37 297.53 L675.68 297.55 L676 297.56 L676.31 297.57 L676.63 297.57 L676.94 297.57 L677.26 297.57 L677.57 297.57 L677.89 297.56 L678.2 297.56 L678.52 297.55 L678.84 297.55 L679.15 297.54 L679.47 297.54 L679.78 297.54 L680.1 297.53 L680.41 297.53 L680.73 297.53 L681.04 297.53 L681.36 297.53 L681.67 297.53 L681.99 297.53 L682.31 297.54 L682.62 297.54 L682.94 297.54 L683.25 297.54 L683.57 297.55 L683.88 297.55 L684.2 297.55 L684.51 297.55 L684.83 297.56 L685.14 297.56 L685.46 297.56 L685.77 297.56 L686.09 297.56 L686.41 297.56 L686.72 297.57 L687.04 297.57 L687.35 297.57 L687.67 297.57 L687.98 297.57 L688.3 297.57 L688.61 297.57 L688.93 297.57 L689.24 297.56 L689.56 297.56 L689.88 297.56 L690.19 297.56 L690.51 297.56 L690.82 297.56 L691.14 297.55 L691.45 297.55 L691.77 297.55 L692.08 297.55 L692.4 297.54 L692.71 297.54 L693.03 297.54 L693.34 297.54 L693.66 297.53 L693.98 297.53 L694.29 297.53 L694.61 297.53 L694.92 297.53 L695.24 297.53 L695.55 297.53 L695.87 297.54 L696.18 297.54 L696.5 297.54 L696.81 297.55 L697.13 297.55 L697.45 297.56 L697.76 297.56 L698.08 297.57 L698.39 297.57 L698.71 297.57 L699.02 297.57 L699.34 297.57 L699.65 297.56 L699.97 297.55 L700.28 297.53 L700.6 297.51 L700.91 297.48 L701.23 297.44 L701.55 297.4 L701.86 297.35 L702.18 297.29 L702.49 297.21 L702.81 297.13 L703.12 297.04 L703.44 296.95 L703.75 296.84 L704.07 296.72 L704.38 296.59 L704.7 296.46 L705.02 296.32 L705.33 296.17 L705.65 296.02 L705.96 295.87 L706.28 295.71 L706.59 295.56 L706.91 295.4 L707.22 295.26 L707.54 295.11 L707.85 294.98 L708.17 294.85 L708.48 294.74 L708.8 294.64 L709.12 294.55 L709.43 294.49 L709.75 294.43 L710.06 294.4 L710.38 294.39 L710.69 294.4 L711.01 294.43 L711.32 294.48 L711.64 294.56 L711.95 294.65 L712.27 294.76 L712.58 294.89 L712.9 295.04 L713.22 295.2 L713.53 295.38 L713.85 295.56 L714.16 295.76 L714.48 295.96 L714.79 296.16 L715.11 296.36 L715.42 296.55 L715.74 296.74 L716.05 296.92 L716.37 297.08 L716.69 297.22 L717 297.35 L717.32 297.45 L717.63 297.52 L717.95 297.56 L718.26 297.57 L718.58 297.54 L718.89 297.48 L719.21 297.39 L719.52 297.25 L719.84 297.08 L720.15 296.86 L720.47 296.61 L720.79 296.33 L721.1 296 L721.42 295.65 L721.73 295.26 L722.05 294.84 L722.36 294.39 L722.68 293.93 L722.99 293.45 L723.31 292.95 L723.62 292.44 L723.94 291.93 L724.26 291.42 L724.57 290.92 L724.89 290.42 L725.2 289.94 L725.52 289.49 L725.83 289.06 L726.15 288.66 L726.46 288.29 L726.78 287.97 L727.09 287.68 L727.41 287.45 L727.72 287.27 L728.04 287.13 L728.36 287.06 L728.67 287.04 L728.99 287.07 L729.3 287.17 L729.62 287.32 L729.93 287.53 L730.25 287.79 L730.56 288.1 L730.88 288.46 L731.19 288.87 L731.51 289.31 L731.83 289.79 L732.14 290.31 L732.46 290.85 L732.77 291.41 L733.09 291.98 L733.4 292.55 L733.72 293.13 L734.03 293.7 L734.35 294.25 L734.66 294.78 L734.98 295.28 L735.29 295.75 L735.61 296.18 L735.93 296.56 L736.24 296.88 L736.56 297.15 L736.87 297.35 L737.19 297.49 L737.5 297.56 L737.82 297.56 L738.13 297.48 L738.45 297.33 L738.76 297.11 L739.08 296.81 L739.4 296.44 L739.71 296 L740.03 295.49 L740.34 294.92 L740.66 294.3 L740.97 293.62 L741.29 292.9 L741.6 292.13 L741.92 291.34 L742.23 290.52 L742.55 289.69 L742.86 288.85 L743.18 288.01 L743.5 287.18 L743.81 286.37 L744.13 285.59 L744.44 284.84 L744.76 284.13 L745.07 283.48 L745.39 282.88 L745.7 282.35 L746.02 281.89 L746.33 281.51 L746.65 281.2 L746.97 280.98 L747.28 280.85 L747.6 280.8 L747.91 280.85 L748.23 280.98 L748.54 281.2 L748.86 281.5 L749.17 281.89 L749.49 282.36 L749.8 282.9 L750.12 283.51 L750.43 284.18 L750.75 284.91 L751.07 285.68 L751.38 286.49 L751.7 287.33 L752.01 288.2 L752.33 289.07 L752.64 289.94 L752.96 290.81 L753.27 291.66 L753.59 292.48 L753.9 293.27 L754.22 294.01 L754.54 294.7 L754.85 295.33 L755.17 295.9 L755.48 296.39 L755.8 296.8 L756.11 297.12 L756.43 297.36 L756.74 297.51 L757.06 297.57 L757.37 297.54 L757.69 297.41 L758 297.19 L758.32 296.89 L758.64 296.5 L758.95 296.03 L759.27 295.49 L759.58 294.88 L759.9 294.2 L760.21 293.47 L760.53 292.7 L760.84 291.88 L761.16 291.04 L761.47 290.17 L761.79 289.3 L762.11 288.43 L762.42 287.56 L762.74 286.71 L763.05 285.89 L763.37 285.11 L763.68 284.37 L764 283.68 L764.31 283.06 L764.63 282.5 L764.94 282.01 L765.26 281.6 L765.57 281.27 L765.89 281.03 L766.21 280.87 L766.52 280.8 L766.84 280.83 L767.15 280.94 L767.47 281.14 L767.78 281.42 L768.1 281.78 L768.41 282.22 L768.73 282.74 L769.04 283.32 L769.36 283.96 L769.68 284.65 L769.99 285.39 L770.31 286.16 L770.62 286.97 L770.94 287.79 L771.25 288.63 L771.57 289.47 L771.88 290.31 L772.2 291.13 L772.51 291.93 L772.83 292.7 L773.14 293.43 L773.46 294.12 L773.78 294.76 L774.09 295.35 L774.41 295.87 L774.72 296.33 L775.04 296.72 L775.35 297.04 L775.67 297.28 L775.98 297.45 L776.3 297.55 L776.61 297.57 L776.93 297.52 L777.25 297.4 L777.56 297.21 L777.88 296.96 L778.19 296.65 L778.51 296.28 L778.82 295.87 L779.14 295.41 L779.45 294.92 L779.77 294.39 L780.08 293.84 L780.4 293.28 L780.71 292.7 L781.03 292.13 L781.35 291.55 L781.66 290.99 L781.98 290.45 L782.29 289.93 L782.61 289.44 L782.92 288.98 L783.24 288.56 L783.55 288.19 L783.87 287.86 L784.18 287.59 L784.5 287.37 L784.82 287.2 L785.13 287.09 L785.45 287.04 L785.76 287.05 L786.08 287.11 L786.39 287.23 L786.71 287.4 L787.02 287.62 L787.34 287.89 L787.65 288.2 L787.97 288.56 L788.28 288.95 L788.6 289.37" fill="none" stroke="#e4400e" stroke-width="1.5"/>
<path d="M549.2 294.19 L552.35 294.45 L555.5 294.64 L558.65 295.16 L561.8 294.94 L564.95 295.01 L568.1 294 L571.25 294.27 L574.4 293.97 L577.55 294.9 L580.7 295.21 L583.85 294 L587 290.42 L590.15 288.99 L593.3 290.9 L596.45 293.89 L599.6 294.88 L602.75 291.83 L605.9 286.92 L609.05 284.1 L612.2 286.47 L615.35 291.74 L618.5 295.14 L621.65 292.73 L624.8 286.9 L627.95 284.17 L631.1 287.24 L634.25 292.61 L637.4 295.53 L640.55 294.36 L643.7 289.57 L646.85 287.58 L650 289.17 L653.15 293.7 L656.3 296.36 L659.45 296.1 L662.6 293.89 L665.75 293.38 L668.9 293.91 L672.05 294.97 L675.2 296.1 L678.35 296.07 L681.5 295.39 L684.65 295.44 L687.8 295.62 L690.95 295.59 L694.1 295.3 L697.25 295.63 L700.4 294.96 L703.55 293.8 L706.7 292.18 L709.85 291.61 L713 293.02 L716.15 294.85 L719.3 294.91 L722.45 292.89 L725.6 289.97 L728.75 288.56 L731.9 290.26 L735.05 293.13 L738.2 294.18 L741.35 291.39 L744.5 287.44 L747.65 285.75 L750.8 288.96 L753.95 293.94 L757.1 296.05 L760.25 293.5 L763.4 288.93 L766.55 286.45 L769.7 288.64 L772.85 293.21 L776 295.2 L779.15 294.31 L782.3 291.35 L785.45 288.84 L788.6 290.43" fill="none" stroke="#2848f0" stroke-width="1.1"/>
<path d="M547.75 292.74h2.9v2.9h-2.9zM550.9 293h2.9v2.9h-2.9zM554.05 293.19h2.9v2.9h-2.9zM557.2 293.71h2.9v2.9h-2.9zM560.35 293.49h2.9v2.9h-2.9zM563.5 293.56h2.9v2.9h-2.9zM566.65 292.55h2.9v2.9h-2.9zM569.8 292.82h2.9v2.9h-2.9zM572.95 292.52h2.9v2.9h-2.9zM576.1 293.45h2.9v2.9h-2.9zM579.25 293.76h2.9v2.9h-2.9zM582.4 292.55h2.9v2.9h-2.9zM585.55 288.97h2.9v2.9h-2.9zM588.7 287.54h2.9v2.9h-2.9zM591.85 289.45h2.9v2.9h-2.9zM595 292.44h2.9v2.9h-2.9zM598.15 293.43h2.9v2.9h-2.9zM601.3 290.38h2.9v2.9h-2.9zM604.45 285.47h2.9v2.9h-2.9zM607.6 282.65h2.9v2.9h-2.9zM610.75 285.02h2.9v2.9h-2.9zM613.9 290.29h2.9v2.9h-2.9zM617.05 293.69h2.9v2.9h-2.9zM620.2 291.28h2.9v2.9h-2.9zM623.35 285.45h2.9v2.9h-2.9zM626.5 282.72h2.9v2.9h-2.9zM629.65 285.79h2.9v2.9h-2.9zM632.8 291.16h2.9v2.9h-2.9zM635.95 294.08h2.9v2.9h-2.9zM639.1 292.91h2.9v2.9h-2.9zM642.25 288.12h2.9v2.9h-2.9zM645.4 286.13h2.9v2.9h-2.9zM648.55 287.72h2.9v2.9h-2.9zM651.7 292.25h2.9v2.9h-2.9zM654.85 294.91h2.9v2.9h-2.9zM658 294.65h2.9v2.9h-2.9zM661.15 292.44h2.9v2.9h-2.9zM664.3 291.93h2.9v2.9h-2.9zM667.45 292.46h2.9v2.9h-2.9zM670.6 293.52h2.9v2.9h-2.9zM673.75 294.65h2.9v2.9h-2.9zM676.9 294.62h2.9v2.9h-2.9zM680.05 293.94h2.9v2.9h-2.9zM683.2 293.99h2.9v2.9h-2.9zM686.35 294.17h2.9v2.9h-2.9zM689.5 294.14h2.9v2.9h-2.9zM692.65 293.85h2.9v2.9h-2.9zM695.8 294.18h2.9v2.9h-2.9zM698.95 293.51h2.9v2.9h-2.9zM702.1 292.35h2.9v2.9h-2.9zM705.25 290.73h2.9v2.9h-2.9zM708.4 290.16h2.9v2.9h-2.9zM711.55 291.57h2.9v2.9h-2.9zM714.7 293.4h2.9v2.9h-2.9zM717.85 293.46h2.9v2.9h-2.9zM721 291.44h2.9v2.9h-2.9zM724.15 288.52h2.9v2.9h-2.9zM727.3 287.11h2.9v2.9h-2.9zM730.45 288.81h2.9v2.9h-2.9zM733.6 291.68h2.9v2.9h-2.9zM736.75 292.73h2.9v2.9h-2.9zM739.9 289.94h2.9v2.9h-2.9zM743.05 285.99h2.9v2.9h-2.9zM746.2 284.3h2.9v2.9h-2.9zM749.35 287.51h2.9v2.9h-2.9zM752.5 292.49h2.9v2.9h-2.9zM755.65 294.6h2.9v2.9h-2.9zM758.8 292.05h2.9v2.9h-2.9zM761.95 287.48h2.9v2.9h-2.9zM765.1 285h2.9v2.9h-2.9zM768.25 287.19h2.9v2.9h-2.9zM771.4 291.76h2.9v2.9h-2.9zM774.55 293.75h2.9v2.9h-2.9zM777.7 292.86h2.9v2.9h-2.9zM780.85 289.9h2.9v2.9h-2.9zM784 287.39h2.9v2.9h-2.9zM787.15 288.98h2.9v2.9h-2.9z" fill="#2040f0"/>
</g>
<line x1="546.0" y1="256.7" x2="789.0" y2="256.7" stroke="#6a6e70" stroke-width="1.5"/>
<line x1="546.0" y1="301.6" x2="789.0" y2="301.6" stroke="#6a6e70" stroke-width="1.5"/>
<line x1="546.0" y1="256.7" x2="546.0" y2="301.59999999999997" stroke="#8a9094" stroke-width="1.8"/>
<line x1="789.0" y1="256.7" x2="789.0" y2="301.59999999999997" stroke="#8a9094" stroke-width="1.3"/>
<line x1="546.0" y1="260.2" x2="548.0" y2="260.2" stroke="#444" stroke-width="0.8"/>
<line x1="789.0" y1="260.2" x2="787.0" y2="260.2" stroke="#444" stroke-width="0.8"/>
<text x="544" y="263.6" text-anchor="end" font-family='"Liberation Sans", sans-serif' font-size="9.3" fill="#333" stroke="#333" stroke-width="0.15" transform="translate(544 0) scale(1.08 1) translate(-544 0)">1</text>
<line x1="546.0" y1="278.7" x2="548.0" y2="278.7" stroke="#444" stroke-width="0.8"/>
<line x1="789.0" y1="278.7" x2="787.0" y2="278.7" stroke="#444" stroke-width="0.8"/>
<text x="544" y="282.1" text-anchor="end" font-family='"Liberation Sans", sans-serif' font-size="9.3" fill="#333" stroke="#333" stroke-width="0.15" transform="translate(544 0) scale(1.08 1) translate(-544 0)">0.5</text>
<line x1="546.0" y1="297.2" x2="548.0" y2="297.2" stroke="#444" stroke-width="0.8"/>
<line x1="789.0" y1="297.2" x2="787.0" y2="297.2" stroke="#444" stroke-width="0.8"/>
<text x="544" y="300.6" text-anchor="end" font-family='"Liberation Sans", sans-serif' font-size="9.3" fill="#333" stroke="#333" stroke-width="0.15" transform="translate(544 0) scale(1.08 1) translate(-544 0)">0</text>
<line x1="627.95" y1="256.7" x2="627.95" y2="258.7" stroke="#444" stroke-width="0.8"/>
<line x1="627.95" y1="301.59999999999997" x2="627.95" y2="299.59999999999997" stroke="#444" stroke-width="0.8"/>
<line x1="706.7" y1="256.7" x2="706.7" y2="258.7" stroke="#444" stroke-width="0.8"/>
<line x1="706.7" y1="301.59999999999997" x2="706.7" y2="299.59999999999997" stroke="#444" stroke-width="0.8"/>
<line x1="756.5" y1="260.3" x2="756.5" y2="272.6" stroke="#8a9098" stroke-width="1.1"/>
<text x="758.2" y="269.3" textLength="6.6" lengthAdjust="spacingAndGlyphs" font-family='"Liberation Serif", serif' font-size="12.5" font-style="italic" fill="#222" stroke="#222" stroke-width="0.4">n</text>
<text x="767.2" y="271.5" font-family='"Liberation Serif", serif' font-size="8" fill="#222" stroke="#222" stroke-width="0.25">1</text>
<path d="M773 260 Q774.2 262.8 776 266.5 Q774.2 270.3 773 273.1" fill="none" stroke="#333" stroke-width="0.75"/>
<rect x="785.8" y="257.9" width="2.6" height="2.6" fill="none" stroke="#555" stroke-width="0.6"/>
<rect x="785.8" y="297.8" width="2.6" height="2.6" fill="none" stroke="#555" stroke-width="0.6"/>
<line x1="597.0" y1="5" x2="597.0" y2="301.5" stroke="#6aaa90" stroke-width="1.2" stroke-dasharray="3 2.2"/>
<line x1="687.1" y1="5" x2="687.1" y2="301.5" stroke="#6aaa90" stroke-width="1.2" stroke-dasharray="3 2.2"/>
<text x="549.2" y="314" text-anchor="middle" font-family='"Liberation Sans", sans-serif' font-size="8.6" fill="#222" transform="translate(549.2 0) scale(1.14 1) translate(-549.2 0)">0</text>
<text x="627.95" y="314" text-anchor="middle" font-family='"Liberation Sans", sans-serif' font-size="8.6" fill="#222" transform="translate(627.95 0) scale(1.14 1) translate(-627.95 0)">5</text>
<text x="706.7" y="314" text-anchor="middle" font-family='"Liberation Sans", sans-serif' font-size="8.6" fill="#222" transform="translate(706.7 0) scale(1.14 1) translate(-706.7 0)">10</text>
<text x="785.45" y="314" text-anchor="middle" font-family='"Liberation Sans", sans-serif' font-size="8.6" fill="#222" transform="translate(785.45 0) scale(1.14 1) translate(-785.45 0)">15</text>
<text x="609" y="329.1" textLength="109.7" lengthAdjust="spacingAndGlyphs" font-family='"Liberation Sans", sans-serif' font-size="12.1" fill="#111">Evolution time [μs]</text>
<text transform="translate(525.3,224) rotate(-90)" x="0" y="0" textLength="59" lengthAdjust="spacingAndGlyphs" font-family='"Liberation Sans", sans-serif' font-size="12.4" fill="#111">Fractional</text>
<text transform="translate(525.3,154.6) rotate(-90)" x="0" y="0" textLength="63.6" lengthAdjust="spacingAndGlyphs" font-family='"Liberation Sans", sans-serif' font-size="12.4" fill="#111">population</text>
<text x="651.3" y="19.3" font-family='"Liberation Serif", serif' font-size="15.8" fill="#111" stroke="#111" stroke-width="0.3">(e)</text>
</svg>
</body></html>
